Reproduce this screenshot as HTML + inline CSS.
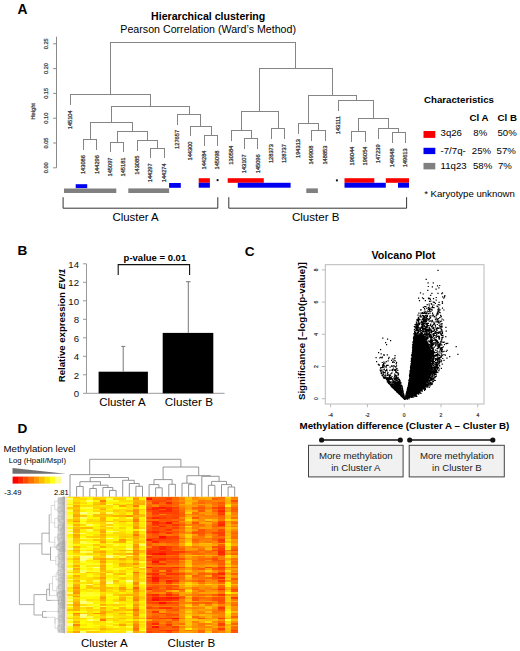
<!DOCTYPE html>
<html><head><meta charset="utf-8"><title>Figure</title><style>
html,body{margin:0;padding:0;background:#fff;width:520px;height:651px;overflow:hidden}
svg{display:block;font-family:"Liberation Sans", sans-serif}
</style></head><body>
<svg width="520" height="651" viewBox="0 0 520 651" fill="#000">
<text x="17.6" y="14.4" font-size="13.8" font-weight="bold">A</text>
<text x="208.2" y="19.8" font-size="10.6" font-weight="bold" text-anchor="middle">Hierarchical clustering</text>
<text x="208.2" y="32.7" font-size="10.65" text-anchor="middle">Pearson Correlation (Ward’s Method)</text>
<path d="M56.5 36.7V167.8" stroke="#8a8a8a" stroke-width="1" fill="none"/>
<path d="M53.2 43.8H56.5" stroke="#8a8a8a" stroke-width="1"/>
<text transform="translate(48.3 43.8) rotate(-90)" font-size="5.6" text-anchor="middle" fill="#333" stroke="#333" stroke-width="0.2">0.25</text>
<path d="M53.2 68.6H56.5" stroke="#8a8a8a" stroke-width="1"/>
<text transform="translate(48.3 68.6) rotate(-90)" font-size="5.6" text-anchor="middle" fill="#333" stroke="#333" stroke-width="0.2">0.20</text>
<path d="M53.2 93.4H56.5" stroke="#8a8a8a" stroke-width="1"/>
<text transform="translate(48.3 93.4) rotate(-90)" font-size="5.6" text-anchor="middle" fill="#333" stroke="#333" stroke-width="0.2">0.15</text>
<path d="M53.2 118.2H56.5" stroke="#8a8a8a" stroke-width="1"/>
<text transform="translate(48.3 118.2) rotate(-90)" font-size="5.6" text-anchor="middle" fill="#333" stroke="#333" stroke-width="0.2">0.10</text>
<path d="M53.2 143H56.5" stroke="#8a8a8a" stroke-width="1"/>
<text transform="translate(48.3 143) rotate(-90)" font-size="5.6" text-anchor="middle" fill="#333" stroke="#333" stroke-width="0.2">0.05</text>
<path d="M53.2 167.8H56.5" stroke="#8a8a8a" stroke-width="1"/>
<text transform="translate(48.3 167.8) rotate(-90)" font-size="5.6" text-anchor="middle" fill="#333" stroke="#333" stroke-width="0.2">0.00</text>
<text transform="translate(35.0 111.3) rotate(-90)" font-size="5.7" text-anchor="middle" fill="#333" stroke="#333" stroke-width="0.2">Height</text>
<path d="M70.5 94.5V105M83.5 139.5V150M96.5 139.5V150M83 139.5H97M90.5 122.5V139.5M110.5 142.5V152M123.5 142.5V152M110 142.5H124M117.5 131.5V142.5M137.5 140.5V151M150.5 148.5V158M164.5 148.5V158M150 148.5H165M157.5 140.5V148.5M137 140.5H158M147.5 131.5V140.5M117 131.5H148M132.5 122.5V131.5M90 122.5H133M111.5 106.5V122.5M177.5 114.5V125M190.5 126.5V136M204.5 135.5V146M217.5 135.5V146M204 135.5H218M211.5 126.5V135.5M190 126.5H212M200.5 114.5V126.5M177 114.5H201M189.5 106.5V114.5M111 106.5H190M150.5 94.5V106.5M70 94.5H151M110.5 42.5V94.5M231.5 130.5V141M244.5 138.5V149M257.5 138.5V149M244 138.5H258M251.5 130.5V138.5M231 130.5H252M241.5 111.5V130.5M271.5 128.5V139M284.5 128.5V139M271 128.5H285M278.5 111.5V128.5M241 111.5H279M259.5 68.5V111.5M298.5 123.5V134M311.5 130.5V141M325.5 130.5V141M311 130.5H326M318.5 123.5V130.5M298 123.5H319M308.5 95.5V123.5M338.5 100.5V111M351.5 131.5V142M365.5 131.5V142M351 131.5H366M358.5 118.5V131.5M378.5 128.5V139M392.5 132.5V143M405.5 132.5V143M392 132.5H406M398.5 128.5V132.5M378 128.5H399M388.5 118.5V128.5M358 118.5H389M373.5 100.5V118.5M338 100.5H374M356.5 95.5V100.5M308 95.5H357M332.5 68.5V95.5M259 68.5H333M295.5 42.5V68.5M110 42.5H296" stroke="#858585" stroke-width="1" fill="none"/>
<text transform="translate(71.7 110.3) rotate(-90)" font-size="5.7" text-anchor="end" fill="#333" stroke="#333" stroke-width="0.25">145104</text>
<text transform="translate(85.12 155.1) rotate(-90)" font-size="5.7" text-anchor="end" fill="#333" stroke="#333" stroke-width="0.25">143086</text>
<text transform="translate(98.54 155.1) rotate(-90)" font-size="5.7" text-anchor="end" fill="#333" stroke="#333" stroke-width="0.25">144296</text>
<text transform="translate(111.96 157.5) rotate(-90)" font-size="5.7" text-anchor="end" fill="#333" stroke="#333" stroke-width="0.25">145097</text>
<text transform="translate(125.38 157.5) rotate(-90)" font-size="5.7" text-anchor="end" fill="#333" stroke="#333" stroke-width="0.25">145181</text>
<text transform="translate(138.8 155.7) rotate(-90)" font-size="5.7" text-anchor="end" fill="#333" stroke="#333" stroke-width="0.25">143085</text>
<text transform="translate(152.22 163.3) rotate(-90)" font-size="5.7" text-anchor="end" fill="#333" stroke="#333" stroke-width="0.25">144297</text>
<text transform="translate(165.64 163.3) rotate(-90)" font-size="5.7" text-anchor="end" fill="#333" stroke="#333" stroke-width="0.25">144274</text>
<text transform="translate(179.06 129.9) rotate(-90)" font-size="5.7" text-anchor="end" fill="#333" stroke="#333" stroke-width="0.25">127657</text>
<text transform="translate(192.48 141.5) rotate(-90)" font-size="5.7" text-anchor="end" fill="#333" stroke="#333" stroke-width="0.25">144300</text>
<text transform="translate(205.9 150.5) rotate(-90)" font-size="5.7" text-anchor="end" fill="#333" stroke="#333" stroke-width="0.25">144284</text>
<text transform="translate(219.32 150.5) rotate(-90)" font-size="5.7" text-anchor="end" fill="#333" stroke="#333" stroke-width="0.25">145098</text>
<text transform="translate(232.74 145.7) rotate(-90)" font-size="5.7" text-anchor="end" fill="#333" stroke="#333" stroke-width="0.25">130584</text>
<text transform="translate(246.16 154.3) rotate(-90)" font-size="5.7" text-anchor="end" fill="#333" stroke="#333" stroke-width="0.25">143107</text>
<text transform="translate(259.58 154.3) rotate(-90)" font-size="5.7" text-anchor="end" fill="#333" stroke="#333" stroke-width="0.25">145096</text>
<text transform="translate(273 144.1) rotate(-90)" font-size="5.7" text-anchor="end" fill="#333" stroke="#333" stroke-width="0.25">128373</text>
<text transform="translate(286.42 144.1) rotate(-90)" font-size="5.7" text-anchor="end" fill="#333" stroke="#333" stroke-width="0.25">128737</text>
<text transform="translate(299.84 139) rotate(-90)" font-size="5.7" text-anchor="end" fill="#333" stroke="#333" stroke-width="0.25">194313</text>
<text transform="translate(313.26 145.6) rotate(-90)" font-size="5.7" text-anchor="end" fill="#333" stroke="#333" stroke-width="0.25">149908</text>
<text transform="translate(326.68 145.6) rotate(-90)" font-size="5.7" text-anchor="end" fill="#333" stroke="#333" stroke-width="0.25">148853</text>
<text transform="translate(340.1 116.1) rotate(-90)" font-size="5.7" text-anchor="end" fill="#333" stroke="#333" stroke-width="0.25">143111</text>
<text transform="translate(353.52 146.5) rotate(-90)" font-size="5.7" text-anchor="end" fill="#333" stroke="#333" stroke-width="0.25">196044</text>
<text transform="translate(366.94 146.5) rotate(-90)" font-size="5.7" text-anchor="end" fill="#333" stroke="#333" stroke-width="0.25">196054</text>
<text transform="translate(380.36 144.3) rotate(-90)" font-size="5.7" text-anchor="end" fill="#333" stroke="#333" stroke-width="0.25">147239</text>
<text transform="translate(393.78 148.3) rotate(-90)" font-size="5.7" text-anchor="end" fill="#333" stroke="#333" stroke-width="0.25">149648</text>
<text transform="translate(407.2 148.3) rotate(-90)" font-size="5.7" text-anchor="end" fill="#333" stroke="#333" stroke-width="0.25">149613</text>
<rect x="75.7" y="184.2" width="11.5" height="4" fill="#0000f0"/>
<rect x="64" y="188.5" width="52.3" height="4.5" fill="#808080"/>
<rect x="128.3" y="188.4" width="40.8" height="4.6" fill="#808080"/>
<rect x="169.1" y="183" width="11.7" height="4.8" fill="#0000f0"/>
<rect x="198.7" y="178.2" width="11.2" height="4.6" fill="#f80000"/>
<rect x="198.7" y="182.8" width="11.2" height="4.9" fill="#0000f0"/>
<rect x="227.7" y="178.2" width="36.1" height="4.6" fill="#f80000"/>
<rect x="237.8" y="182.8" width="52.8" height="4.9" fill="#0000f0"/>
<rect x="306.3" y="188.4" width="11.6" height="4.6" fill="#808080"/>
<rect x="344.5" y="178.2" width="29.8" height="4.6" fill="#f80000"/>
<rect x="344.5" y="182.8" width="41.3" height="4.9" fill="#0000f0"/>
<rect x="385.8" y="178.2" width="23.2" height="4.6" fill="#f80000"/>
<rect x="398" y="182.8" width="11" height="4.9" fill="#0000f0"/>
<circle cx="217.6" cy="180.2" r="1.1" fill="#111"/>
<circle cx="336.9" cy="180.4" r="1.1" fill="#111"/>
<path d="M63.1 197.2V208.2H217.8V197.2M228.8 197.2V208.2H406.6V197.2" stroke="#333" stroke-width="1" fill="none"/>
<text x="112.5" y="221.1" font-size="11.4">Cluster A</text>
<text x="291.9" y="221.1" font-size="11.6">Cluster B</text>
<text x="424.0" y="103.0" font-size="9.7" font-weight="bold">Characteristics</text>
<text x="469.5" y="121.4" font-size="9.7" font-weight="bold">Cl A</text>
<text x="497.5" y="121.4" font-size="9.7" font-weight="bold">Cl B</text>
<rect x="423.5" y="131.0" width="11.8" height="6.9" fill="#f80000"/>
<rect x="423.5" y="147.8" width="11.8" height="6.3" fill="#0000f0"/>
<rect x="423.5" y="162.9" width="11.8" height="6.5" fill="#808080"/>
<text x="440.6" y="135.9" font-size="9.6">3q26</text><text x="473.3" y="135.9" font-size="9.6">8%</text><text x="497.5" y="135.9" font-size="9.6">50%</text>
<text x="440.6" y="154.2" font-size="9.6">-7/7q-</text><text x="471.8" y="154.2" font-size="9.6">25%</text><text x="496.6" y="154.2" font-size="9.6">57%</text>
<text x="440.6" y="169.1" font-size="9.6">11q23</text><text x="473.0" y="169.1" font-size="9.6">58%</text><text x="498.0" y="169.1" font-size="9.6">7%</text>
<text x="424.2" y="197.1" font-size="9.6">* Karyotype unknown</text>
<text x="17.4" y="255.4" font-size="13.6" font-weight="bold">B</text>
<path d="M86.5 263.8V393.3H224.6" stroke="#999999" stroke-width="1" fill="none"/>
<path d="M83 263.8H86.5" stroke="#999999" stroke-width="1"/>
<text x="79.0" y="267.5" font-size="9.6" text-anchor="end" fill="#111">14</text>
<path d="M83 282.3H86.5" stroke="#999999" stroke-width="1"/>
<text x="79.0" y="286" font-size="9.6" text-anchor="end" fill="#111">12</text>
<path d="M83 300.8H86.5" stroke="#999999" stroke-width="1"/>
<text x="79.0" y="304.5" font-size="9.6" text-anchor="end" fill="#111">10</text>
<path d="M83 319.3H86.5" stroke="#999999" stroke-width="1"/>
<text x="79.0" y="323" font-size="9.6" text-anchor="end" fill="#111">8</text>
<path d="M83 337.8H86.5" stroke="#999999" stroke-width="1"/>
<text x="79.0" y="341.5" font-size="9.6" text-anchor="end" fill="#111">6</text>
<path d="M83 356.3H86.5" stroke="#999999" stroke-width="1"/>
<text x="79.0" y="360" font-size="9.6" text-anchor="end" fill="#111">4</text>
<path d="M83 374.8H86.5" stroke="#999999" stroke-width="1"/>
<text x="79.0" y="378.5" font-size="9.6" text-anchor="end" fill="#111">2</text>
<path d="M83 393.3H86.5" stroke="#999999" stroke-width="1"/>
<text x="79.0" y="397" font-size="9.6" text-anchor="end" fill="#111">0</text>
<rect x="98.6" y="371.7" width="49.3" height="21.6" fill="#000"/>
<rect x="162.7" y="332.9" width="50.6" height="60.4" fill="#000"/>
<path d="M123.2 371.7V346.4M121.3 346.4H125.2M188.3 332.9V281.7M186.0 281.7H190.6" stroke="#777" stroke-width="1" fill="none"/>
<path d="M118.2 275V264.6H189.6V275" stroke="#111" stroke-width="1.1" fill="none"/>
<text x="154.9" y="261.0" font-size="9.5" font-weight="bold" text-anchor="middle">p-value = 0.01</text>
<text x="122.4" y="406.0" font-size="11.45" text-anchor="middle">Cluster A</text>
<text x="188.9" y="406.0" font-size="11.7" text-anchor="middle">Cluster B</text>
<text transform="translate(65.3 325.4) rotate(-90)" font-size="9.6" font-weight="bold" text-anchor="middle">Relative expression <tspan font-style="italic">EVI1</tspan></text>
<text x="244.8" y="255.7" font-size="13.6" font-weight="bold">C</text>
<text x="403.4" y="258.7" font-size="10.7" font-weight="bold" text-anchor="middle">Volcano Plot</text>
<rect x="325.3" y="264.7" width="158.7" height="139.3" fill="none" stroke="#bababa" stroke-width="1"/>
<path d="M321.8 398.7H325.3" stroke="#bababa" stroke-width="1"/>
<text transform="translate(317.6 398.7) rotate(-90)" font-size="5" text-anchor="middle" fill="#333" stroke="#333" stroke-width="0.2">0</text>
<path d="M321.8 366.5H325.3" stroke="#bababa" stroke-width="1"/>
<text transform="translate(317.6 366.5) rotate(-90)" font-size="5" text-anchor="middle" fill="#333" stroke="#333" stroke-width="0.2">2</text>
<path d="M321.8 334.3H325.3" stroke="#bababa" stroke-width="1"/>
<text transform="translate(317.6 334.3) rotate(-90)" font-size="5" text-anchor="middle" fill="#333" stroke="#333" stroke-width="0.2">4</text>
<path d="M321.8 302.1H325.3" stroke="#bababa" stroke-width="1"/>
<text transform="translate(317.6 302.1) rotate(-90)" font-size="5" text-anchor="middle" fill="#333" stroke="#333" stroke-width="0.2">6</text>
<path d="M321.8 269.9H325.3" stroke="#bababa" stroke-width="1"/>
<text transform="translate(317.6 269.9) rotate(-90)" font-size="5" text-anchor="middle" fill="#333" stroke="#333" stroke-width="0.2">8</text>
<path d="M330.6 404V407.3" stroke="#bababa" stroke-width="1"/>
<text x="330.6" y="416.6" font-size="5" text-anchor="middle" fill="#333" stroke="#333" stroke-width="0.2">-4</text>
<path d="M367.4 404V407.3" stroke="#bababa" stroke-width="1"/>
<text x="367.4" y="416.6" font-size="5" text-anchor="middle" fill="#333" stroke="#333" stroke-width="0.2">-2</text>
<path d="M404.2 404V407.3" stroke="#bababa" stroke-width="1"/>
<text x="404.2" y="416.6" font-size="5" text-anchor="middle" fill="#333" stroke="#333" stroke-width="0.2">0</text>
<path d="M441 404V407.3" stroke="#bababa" stroke-width="1"/>
<text x="441" y="416.6" font-size="5" text-anchor="middle" fill="#333" stroke="#333" stroke-width="0.2">2</text>
<path d="M477.8 404V407.3" stroke="#bababa" stroke-width="1"/>
<text x="477.8" y="416.6" font-size="5" text-anchor="middle" fill="#333" stroke="#333" stroke-width="0.2">4</text>
<text transform="translate(305.4 331.2) rotate(-90)" font-size="9.72" font-weight="bold" text-anchor="middle">Significance [–log10(p-value)]</text>
<text x="299.5" y="428.5" font-size="9.78" font-weight="bold">Methylation difference (Cluster A – Cluster B)</text>
<path d="M321.6 440H400.3M409.7 440H492.8" stroke="#111" stroke-width="1.4"/>
<circle cx="321.6" cy="440" r="2.6" fill="#111"/>
<circle cx="400.3" cy="440" r="2.6" fill="#111"/>
<circle cx="409.7" cy="440" r="2.6" fill="#111"/>
<circle cx="492.8" cy="440" r="2.6" fill="#111"/>
<rect x="308.5" y="445.3" width="94.6" height="31.6" fill="#f1f1f1" stroke="#444" stroke-width="1"/>
<rect x="409.2" y="445.3" width="95.1" height="31.6" fill="#f1f1f1" stroke="#444" stroke-width="1"/>
<text x="355.8" y="459.0" font-size="9.65" text-anchor="middle" fill="#222">More methylation</text>
<text x="355.8" y="470.5" font-size="9.65" text-anchor="middle" fill="#222">in Cluster A</text>
<text x="456.9" y="459.0" font-size="9.65" text-anchor="middle" fill="#222">More methylation</text>
<text x="456.9" y="470.5" font-size="9.65" text-anchor="middle" fill="#222">in Cluster B</text>
<path d="M404.9 398.7 L405.3 397.3 L405.6 396.0 L406.0 394.6 L406.3 393.2 L406.6 391.8 L407.0 390.5 L407.3 389.1 L407.7 387.7 L408.0 386.4 L408.4 385.0 L408.6 383.6 L408.7 382.3 L408.9 380.9 L409.0 379.5 L409.2 378.1 L409.4 376.8 L409.5 375.4 L409.7 374.0 L409.8 372.7 L410.0 371.3 L410.2 369.9 L410.3 368.6 L410.5 367.2 L410.6 365.8 L410.8 364.4 L411.0 363.1 L411.1 361.7 L411.2 360.3 L411.4 359.0 L411.5 357.6 L411.6 356.2 L411.8 354.9 L411.9 353.5 L412.0 352.1 L412.2 350.7 L412.3 349.4 L412.4 348.0 L412.6 346.6 L412.7 345.3 L412.8 343.9 L413.0 342.5 L413.2 341.2 L413.5 339.8 L413.8 338.4 L414.1 337.0 L414.4 335.7 L414.6 334.3 L423.6 334.3 L424.3 335.7 L425.0 337.0 L425.7 338.4 L426.5 339.8 L427.2 341.2 L427.9 342.5 L428.6 343.9 L429.2 345.3 L429.7 346.6 L430.2 348.0 L430.7 349.4 L431.2 350.7 L431.2 352.1 L431.3 353.5 L431.3 354.9 L431.4 356.2 L431.4 357.6 L431.2 359.0 L431.0 360.3 L430.8 361.7 L430.6 363.1 L430.4 364.4 L430.2 365.8 L430.0 367.2 L429.7 368.6 L429.5 369.9 L429.0 371.3 L428.5 372.7 L428.0 374.0 L427.5 375.4 L427.0 376.8 L426.5 378.1 L426.0 379.5 L425.5 380.9 L424.6 382.3 L423.6 383.6 L422.5 385.0 L421.4 386.4 L420.4 387.7 L419.3 389.1 L417.7 390.5 L415.4 391.8 L413.1 393.2 L410.8 394.6 L408.0 396.0 L405.2 397.3 L402.4 398.7Z" fill="#000"/>
<path d="M403.6 398.7 L402.9 394.9 L402.1 391.1 L401.4 387.2 L400.6 383.4 L392.2 383.4 L395.1 387.2 L398.1 391.1 L401.2 394.9 L404.2 398.7Z" fill="#000"/>
<path d="M404.6 398.2h1.2v1.2h-1.2zM418.6 327.3h1.2v1.2h-1.2zM429.9 350.6h1.2v1.2h-1.2zM417.3 329.8h1.2v1.2h-1.2zM429.9 344.6h1.2v1.2h-1.2zM410.4 380.0h1.2v1.2h-1.2zM407.0 394.9h1.2v1.2h-1.2zM408.1 395.6h1.2v1.2h-1.2zM429.5 353.9h1.2v1.2h-1.2zM432.2 344.0h1.2v1.2h-1.2zM430.4 355.5h1.2v1.2h-1.2zM404.8 397.7h1.2v1.2h-1.2zM404.6 398.4h1.2v1.2h-1.2zM414.3 326.5h1.2v1.2h-1.2zM422.1 385.3h1.2v1.2h-1.2zM405.6 393.5h1.2v1.2h-1.2zM409.4 370.6h1.2v1.2h-1.2zM415.3 390.3h1.2v1.2h-1.2zM428.9 372.6h1.2v1.2h-1.2zM422.2 322.7h1.2v1.2h-1.2zM431.8 341.1h1.2v1.2h-1.2zM429.1 349.2h1.2v1.2h-1.2zM408.9 382.0h1.2v1.2h-1.2zM423.8 383.0h1.2v1.2h-1.2zM405.3 395.4h1.2v1.2h-1.2zM404.8 396.5h1.2v1.2h-1.2zM406.2 396.1h1.2v1.2h-1.2zM420.1 388.0h1.2v1.2h-1.2zM417.4 314.6h1.2v1.2h-1.2zM425.2 341.5h1.2v1.2h-1.2zM429.6 367.8h1.2v1.2h-1.2zM411.8 353.6h1.2v1.2h-1.2zM404.6 398.2h1.2v1.2h-1.2zM415.9 333.2h1.2v1.2h-1.2zM409.1 386.8h1.2v1.2h-1.2zM405.2 397.5h1.2v1.2h-1.2zM431.7 344.1h1.2v1.2h-1.2zM422.8 381.4h1.2v1.2h-1.2zM410.8 367.1h1.2v1.2h-1.2zM430.9 353.9h1.2v1.2h-1.2zM424.9 334.1h1.2v1.2h-1.2zM412.6 392.7h1.2v1.2h-1.2zM413.1 336.4h1.2v1.2h-1.2zM429.0 364.1h1.2v1.2h-1.2zM409.4 380.2h1.2v1.2h-1.2zM422.5 325.7h1.2v1.2h-1.2zM429.2 341.4h1.2v1.2h-1.2zM430.7 358.2h1.2v1.2h-1.2zM428.8 344.1h1.2v1.2h-1.2zM416.7 332.3h1.2v1.2h-1.2zM415.3 327.8h1.2v1.2h-1.2zM410.3 394.6h1.2v1.2h-1.2zM405.9 396.1h1.2v1.2h-1.2zM406.4 396.9h1.2v1.2h-1.2zM423.9 382.4h1.2v1.2h-1.2zM408.3 395.3h1.2v1.2h-1.2zM408.9 384.3h1.2v1.2h-1.2zM407.4 396.9h1.2v1.2h-1.2zM428.5 348.8h1.2v1.2h-1.2zM405.2 395.2h1.2v1.2h-1.2zM406.4 394.3h1.2v1.2h-1.2zM417.4 388.9h1.2v1.2h-1.2zM419.3 329.4h1.2v1.2h-1.2zM421.6 387.5h1.2v1.2h-1.2zM408.7 381.5h1.2v1.2h-1.2zM413.3 348.8h1.2v1.2h-1.2zM417.8 390.3h1.2v1.2h-1.2zM429.0 341.2h1.2v1.2h-1.2zM407.7 384.7h1.2v1.2h-1.2zM407.9 396.4h1.2v1.2h-1.2zM425.9 380.0h1.2v1.2h-1.2zM407.2 387.1h1.2v1.2h-1.2zM411.2 365.9h1.2v1.2h-1.2zM430.7 366.4h1.2v1.2h-1.2zM428.1 377.2h1.2v1.2h-1.2zM428.6 333.3h1.2v1.2h-1.2zM420.1 387.3h1.2v1.2h-1.2zM416.2 391.6h1.2v1.2h-1.2zM417.9 335.5h1.2v1.2h-1.2zM414.1 393.1h1.2v1.2h-1.2zM417.6 387.8h1.2v1.2h-1.2zM408.4 382.7h1.2v1.2h-1.2zM427.3 331.1h1.2v1.2h-1.2zM421.7 332.8h1.2v1.2h-1.2zM428.9 365.8h1.2v1.2h-1.2zM406.7 395.8h1.2v1.2h-1.2zM428.6 365.0h1.2v1.2h-1.2zM422.1 336.0h1.2v1.2h-1.2zM421.2 386.7h1.2v1.2h-1.2zM417.1 390.7h1.2v1.2h-1.2zM418.8 388.5h1.2v1.2h-1.2zM409.9 383.3h1.2v1.2h-1.2zM426.1 333.5h1.2v1.2h-1.2zM415.5 392.8h1.2v1.2h-1.2zM412.5 357.5h1.2v1.2h-1.2zM406.5 395.9h1.2v1.2h-1.2zM428.0 371.4h1.2v1.2h-1.2zM427.5 371.6h1.2v1.2h-1.2zM428.9 336.1h1.2v1.2h-1.2zM410.3 393.8h1.2v1.2h-1.2zM422.0 319.0h1.2v1.2h-1.2zM408.2 387.8h1.2v1.2h-1.2zM405.3 395.8h1.2v1.2h-1.2zM406.9 388.0h1.2v1.2h-1.2zM425.4 383.4h1.2v1.2h-1.2zM426.7 323.9h1.2v1.2h-1.2zM432.9 356.6h1.2v1.2h-1.2zM422.2 382.7h1.2v1.2h-1.2zM412.5 353.8h1.2v1.2h-1.2zM431.0 344.1h1.2v1.2h-1.2zM431.1 352.1h1.2v1.2h-1.2zM425.8 322.8h1.2v1.2h-1.2zM422.6 383.1h1.2v1.2h-1.2zM408.5 388.9h1.2v1.2h-1.2zM424.8 378.6h1.2v1.2h-1.2zM409.3 395.2h1.2v1.2h-1.2zM413.7 392.9h1.2v1.2h-1.2zM424.9 378.1h1.2v1.2h-1.2zM429.7 358.3h1.2v1.2h-1.2zM413.4 339.5h1.2v1.2h-1.2zM416.4 334.7h1.2v1.2h-1.2zM425.9 372.5h1.2v1.2h-1.2zM421.0 384.1h1.2v1.2h-1.2zM416.8 318.8h1.2v1.2h-1.2zM428.8 346.8h1.2v1.2h-1.2zM407.9 385.2h1.2v1.2h-1.2zM422.0 328.8h1.2v1.2h-1.2zM415.6 329.0h1.2v1.2h-1.2zM430.6 340.5h1.2v1.2h-1.2zM426.4 380.5h1.2v1.2h-1.2zM412.4 350.7h1.2v1.2h-1.2zM419.0 335.4h1.2v1.2h-1.2zM404.6 397.4h1.2v1.2h-1.2zM411.5 358.0h1.2v1.2h-1.2zM412.9 353.2h1.2v1.2h-1.2zM415.7 391.3h1.2v1.2h-1.2zM405.8 395.3h1.2v1.2h-1.2zM420.3 322.3h1.2v1.2h-1.2zM425.7 381.5h1.2v1.2h-1.2zM419.5 327.5h1.2v1.2h-1.2zM412.0 363.4h1.2v1.2h-1.2zM430.3 350.2h1.2v1.2h-1.2zM405.2 395.7h1.2v1.2h-1.2zM413.0 350.2h1.2v1.2h-1.2zM411.1 368.0h1.2v1.2h-1.2zM423.8 316.3h1.2v1.2h-1.2zM418.2 321.8h1.2v1.2h-1.2zM432.0 355.8h1.2v1.2h-1.2zM405.9 392.3h1.2v1.2h-1.2zM411.8 355.7h1.2v1.2h-1.2zM426.7 381.5h1.2v1.2h-1.2zM413.4 393.8h1.2v1.2h-1.2zM412.0 360.0h1.2v1.2h-1.2zM410.7 393.3h1.2v1.2h-1.2zM425.0 339.3h1.2v1.2h-1.2zM410.2 377.3h1.2v1.2h-1.2zM432.0 342.8h1.2v1.2h-1.2zM430.4 353.1h1.2v1.2h-1.2zM427.1 373.6h1.2v1.2h-1.2zM428.0 372.1h1.2v1.2h-1.2zM423.9 381.7h1.2v1.2h-1.2zM418.4 386.8h1.2v1.2h-1.2zM430.4 368.8h1.2v1.2h-1.2zM406.3 396.5h1.2v1.2h-1.2zM422.2 384.4h1.2v1.2h-1.2zM405.4 397.4h1.2v1.2h-1.2zM412.1 358.9h1.2v1.2h-1.2zM422.0 384.5h1.2v1.2h-1.2zM429.2 329.8h1.2v1.2h-1.2zM421.8 382.7h1.2v1.2h-1.2zM429.1 363.4h1.2v1.2h-1.2zM422.6 384.7h1.2v1.2h-1.2zM422.0 318.4h1.2v1.2h-1.2zM429.0 371.3h1.2v1.2h-1.2zM408.9 395.9h1.2v1.2h-1.2zM426.7 326.5h1.2v1.2h-1.2zM429.5 339.7h1.2v1.2h-1.2zM430.9 354.1h1.2v1.2h-1.2zM407.1 397.1h1.2v1.2h-1.2zM430.7 369.4h1.2v1.2h-1.2zM415.7 392.0h1.2v1.2h-1.2zM429.4 372.3h1.2v1.2h-1.2zM425.4 374.5h1.2v1.2h-1.2zM414.1 339.5h1.2v1.2h-1.2zM431.9 363.6h1.2v1.2h-1.2zM404.4 398.4h1.2v1.2h-1.2zM410.4 377.4h1.2v1.2h-1.2zM424.8 380.2h1.2v1.2h-1.2zM425.6 375.4h1.2v1.2h-1.2zM413.2 337.6h1.2v1.2h-1.2zM417.3 327.8h1.2v1.2h-1.2zM418.3 388.5h1.2v1.2h-1.2zM409.6 395.6h1.2v1.2h-1.2zM415.5 391.4h1.2v1.2h-1.2zM427.0 374.9h1.2v1.2h-1.2zM417.9 332.2h1.2v1.2h-1.2zM427.3 343.4h1.2v1.2h-1.2zM413.1 338.0h1.2v1.2h-1.2zM405.9 396.4h1.2v1.2h-1.2zM419.3 335.2h1.2v1.2h-1.2zM410.8 374.5h1.2v1.2h-1.2zM429.5 359.7h1.2v1.2h-1.2zM427.3 373.7h1.2v1.2h-1.2zM407.3 392.0h1.2v1.2h-1.2zM410.9 393.2h1.2v1.2h-1.2zM412.3 348.9h1.2v1.2h-1.2zM412.5 392.2h1.2v1.2h-1.2zM416.2 328.7h1.2v1.2h-1.2zM407.5 392.9h1.2v1.2h-1.2zM405.0 398.2h1.2v1.2h-1.2zM407.7 392.3h1.2v1.2h-1.2zM432.7 359.3h1.2v1.2h-1.2zM408.0 395.1h1.2v1.2h-1.2zM432.2 342.4h1.2v1.2h-1.2zM431.0 347.5h1.2v1.2h-1.2zM426.7 328.9h1.2v1.2h-1.2zM412.9 350.8h1.2v1.2h-1.2zM431.8 344.9h1.2v1.2h-1.2zM420.0 387.0h1.2v1.2h-1.2zM413.9 339.0h1.2v1.2h-1.2zM420.5 389.4h1.2v1.2h-1.2zM425.1 383.6h1.2v1.2h-1.2zM407.6 394.9h1.2v1.2h-1.2zM410.0 369.8h1.2v1.2h-1.2zM409.7 382.0h1.2v1.2h-1.2zM411.8 357.9h1.2v1.2h-1.2zM415.8 392.6h1.2v1.2h-1.2zM413.7 333.9h1.2v1.2h-1.2zM429.2 360.6h1.2v1.2h-1.2zM409.3 386.4h1.2v1.2h-1.2zM405.1 397.6h1.2v1.2h-1.2zM422.1 323.0h1.2v1.2h-1.2zM430.8 341.2h1.2v1.2h-1.2zM431.1 354.5h1.2v1.2h-1.2zM418.7 386.6h1.2v1.2h-1.2zM409.6 379.9h1.2v1.2h-1.2zM428.1 347.7h1.2v1.2h-1.2zM405.9 395.8h1.2v1.2h-1.2zM409.5 369.9h1.2v1.2h-1.2zM427.6 376.5h1.2v1.2h-1.2zM430.5 363.3h1.2v1.2h-1.2zM423.5 318.9h1.2v1.2h-1.2zM417.1 334.7h1.2v1.2h-1.2zM430.8 357.4h1.2v1.2h-1.2zM422.4 317.2h1.2v1.2h-1.2zM408.7 395.8h1.2v1.2h-1.2zM432.5 358.8h1.2v1.2h-1.2zM420.4 334.6h1.2v1.2h-1.2zM407.9 385.1h1.2v1.2h-1.2zM427.8 366.3h1.2v1.2h-1.2zM431.2 366.1h1.2v1.2h-1.2zM428.8 365.1h1.2v1.2h-1.2zM414.0 393.4h1.2v1.2h-1.2zM420.7 333.1h1.2v1.2h-1.2zM427.6 340.3h1.2v1.2h-1.2zM410.8 374.5h1.2v1.2h-1.2zM410.7 372.3h1.2v1.2h-1.2zM415.0 332.6h1.2v1.2h-1.2zM409.4 382.5h1.2v1.2h-1.2zM428.1 343.4h1.2v1.2h-1.2zM406.2 395.7h1.2v1.2h-1.2zM431.8 363.5h1.2v1.2h-1.2zM426.0 376.7h1.2v1.2h-1.2zM422.9 385.3h1.2v1.2h-1.2zM409.2 373.8h1.2v1.2h-1.2zM427.0 346.1h1.2v1.2h-1.2zM408.4 395.0h1.2v1.2h-1.2zM431.5 353.4h1.2v1.2h-1.2zM404.9 398.3h1.2v1.2h-1.2zM405.8 395.6h1.2v1.2h-1.2zM409.2 381.1h1.2v1.2h-1.2zM412.9 392.6h1.2v1.2h-1.2zM406.2 396.0h1.2v1.2h-1.2zM410.5 360.9h1.2v1.2h-1.2zM405.0 397.9h1.2v1.2h-1.2zM415.0 390.6h1.2v1.2h-1.2zM408.0 396.3h1.2v1.2h-1.2zM406.1 396.5h1.2v1.2h-1.2zM419.0 390.0h1.2v1.2h-1.2zM428.7 369.7h1.2v1.2h-1.2zM414.7 391.2h1.2v1.2h-1.2zM424.7 329.5h1.2v1.2h-1.2zM427.2 345.0h1.2v1.2h-1.2zM407.4 390.0h1.2v1.2h-1.2zM406.8 397.4h1.2v1.2h-1.2zM407.3 392.9h1.2v1.2h-1.2zM408.9 387.5h1.2v1.2h-1.2zM425.4 338.4h1.2v1.2h-1.2zM410.3 395.6h1.2v1.2h-1.2zM405.0 398.0h1.2v1.2h-1.2zM430.6 360.2h1.2v1.2h-1.2zM413.9 336.8h1.2v1.2h-1.2zM429.0 374.3h1.2v1.2h-1.2zM429.6 354.9h1.2v1.2h-1.2zM410.7 394.0h1.2v1.2h-1.2zM430.0 354.9h1.2v1.2h-1.2zM430.9 360.8h1.2v1.2h-1.2zM431.2 363.3h1.2v1.2h-1.2zM415.8 335.2h1.2v1.2h-1.2zM425.5 380.4h1.2v1.2h-1.2zM425.5 327.6h1.2v1.2h-1.2zM405.1 397.5h1.2v1.2h-1.2zM431.4 357.7h1.2v1.2h-1.2zM406.0 393.7h1.2v1.2h-1.2zM412.4 393.8h1.2v1.2h-1.2zM406.0 397.1h1.2v1.2h-1.2zM433.1 355.8h1.2v1.2h-1.2zM418.6 324.0h1.2v1.2h-1.2zM429.5 373.5h1.2v1.2h-1.2zM429.0 328.9h1.2v1.2h-1.2zM410.6 394.0h1.2v1.2h-1.2zM406.9 390.2h1.2v1.2h-1.2zM413.1 340.5h1.2v1.2h-1.2zM421.7 315.0h1.2v1.2h-1.2zM409.9 383.2h1.2v1.2h-1.2zM408.4 387.8h1.2v1.2h-1.2zM405.7 397.5h1.2v1.2h-1.2zM409.2 387.0h1.2v1.2h-1.2zM421.8 382.3h1.2v1.2h-1.2zM409.8 380.8h1.2v1.2h-1.2zM426.4 373.5h1.2v1.2h-1.2zM425.3 320.1h1.2v1.2h-1.2zM426.1 377.3h1.2v1.2h-1.2zM428.5 371.8h1.2v1.2h-1.2zM414.9 390.5h1.2v1.2h-1.2zM408.5 396.2h1.2v1.2h-1.2zM411.3 372.5h1.2v1.2h-1.2zM406.6 397.4h1.2v1.2h-1.2zM420.5 384.7h1.2v1.2h-1.2zM408.5 380.2h1.2v1.2h-1.2zM413.8 391.2h1.2v1.2h-1.2zM430.8 371.0h1.2v1.2h-1.2zM407.6 389.3h1.2v1.2h-1.2zM432.5 349.8h1.2v1.2h-1.2zM420.8 386.7h1.2v1.2h-1.2zM412.8 351.6h1.2v1.2h-1.2zM429.6 361.5h1.2v1.2h-1.2zM418.3 323.6h1.2v1.2h-1.2zM420.4 312.5h1.2v1.2h-1.2zM431.8 362.6h1.2v1.2h-1.2zM423.1 383.4h1.2v1.2h-1.2zM425.0 336.2h1.2v1.2h-1.2zM426.0 322.8h1.2v1.2h-1.2zM426.7 373.9h1.2v1.2h-1.2zM414.2 338.3h1.2v1.2h-1.2zM405.2 396.1h1.2v1.2h-1.2zM411.6 394.4h1.2v1.2h-1.2zM428.8 366.7h1.2v1.2h-1.2zM412.1 346.3h1.2v1.2h-1.2zM404.7 398.2h1.2v1.2h-1.2zM415.7 391.5h1.2v1.2h-1.2zM409.2 385.9h1.2v1.2h-1.2zM413.3 350.9h1.2v1.2h-1.2zM406.9 393.6h1.2v1.2h-1.2zM428.4 347.2h1.2v1.2h-1.2zM411.2 358.7h1.2v1.2h-1.2zM406.9 393.7h1.2v1.2h-1.2zM409.8 370.5h1.2v1.2h-1.2zM405.7 397.6h1.2v1.2h-1.2zM424.5 381.9h1.2v1.2h-1.2zM428.1 367.2h1.2v1.2h-1.2zM415.3 391.1h1.2v1.2h-1.2zM405.9 394.1h1.2v1.2h-1.2zM410.8 365.3h1.2v1.2h-1.2zM410.8 369.3h1.2v1.2h-1.2zM415.8 321.6h1.2v1.2h-1.2zM414.6 326.5h1.2v1.2h-1.2zM428.7 372.9h1.2v1.2h-1.2zM430.8 345.7h1.2v1.2h-1.2zM416.4 391.1h1.2v1.2h-1.2zM409.3 372.4h1.2v1.2h-1.2zM421.3 387.6h1.2v1.2h-1.2zM428.6 357.0h1.2v1.2h-1.2zM413.0 355.4h1.2v1.2h-1.2zM416.5 319.1h1.2v1.2h-1.2zM419.9 329.1h1.2v1.2h-1.2zM432.3 355.9h1.2v1.2h-1.2zM414.8 391.1h1.2v1.2h-1.2zM425.2 380.7h1.2v1.2h-1.2zM425.4 336.8h1.2v1.2h-1.2zM427.9 373.2h1.2v1.2h-1.2zM427.4 376.4h1.2v1.2h-1.2zM404.2 398.6h1.2v1.2h-1.2zM412.8 393.5h1.2v1.2h-1.2zM426.5 337.6h1.2v1.2h-1.2zM423.1 323.7h1.2v1.2h-1.2zM427.3 367.5h1.2v1.2h-1.2zM408.2 390.1h1.2v1.2h-1.2zM422.9 386.8h1.2v1.2h-1.2zM432.7 353.3h1.2v1.2h-1.2zM409.9 367.1h1.2v1.2h-1.2zM410.2 370.2h1.2v1.2h-1.2zM407.9 387.7h1.2v1.2h-1.2zM423.7 319.1h1.2v1.2h-1.2zM405.7 397.9h1.2v1.2h-1.2zM417.0 335.0h1.2v1.2h-1.2zM411.7 395.0h1.2v1.2h-1.2zM418.5 390.7h1.2v1.2h-1.2zM411.5 394.3h1.2v1.2h-1.2zM427.5 345.1h1.2v1.2h-1.2zM412.2 394.7h1.2v1.2h-1.2zM428.0 378.1h1.2v1.2h-1.2zM407.9 388.0h1.2v1.2h-1.2zM405.8 394.3h1.2v1.2h-1.2zM429.1 363.1h1.2v1.2h-1.2zM414.2 392.1h1.2v1.2h-1.2zM414.1 337.2h1.2v1.2h-1.2zM405.5 397.2h1.2v1.2h-1.2zM424.0 383.4h1.2v1.2h-1.2zM410.9 374.3h1.2v1.2h-1.2zM422.1 385.8h1.2v1.2h-1.2zM428.8 350.5h1.2v1.2h-1.2zM420.1 386.6h1.2v1.2h-1.2zM413.8 340.8h1.2v1.2h-1.2zM410.7 370.3h1.2v1.2h-1.2zM427.9 375.7h1.2v1.2h-1.2zM424.3 381.2h1.2v1.2h-1.2zM411.6 393.4h1.2v1.2h-1.2zM418.1 329.9h1.2v1.2h-1.2zM429.7 341.1h1.2v1.2h-1.2zM427.8 348.6h1.2v1.2h-1.2zM432.1 359.8h1.2v1.2h-1.2zM429.2 358.3h1.2v1.2h-1.2zM415.7 391.1h1.2v1.2h-1.2zM407.6 393.7h1.2v1.2h-1.2zM427.2 376.0h1.2v1.2h-1.2zM432.7 356.2h1.2v1.2h-1.2zM429.7 339.8h1.2v1.2h-1.2zM428.2 368.7h1.2v1.2h-1.2zM431.8 349.8h1.2v1.2h-1.2zM406.0 397.2h1.2v1.2h-1.2zM428.4 365.2h1.2v1.2h-1.2zM406.5 392.3h1.2v1.2h-1.2zM412.3 341.6h1.2v1.2h-1.2zM431.9 344.8h1.2v1.2h-1.2zM422.2 387.7h1.2v1.2h-1.2zM419.5 388.1h1.2v1.2h-1.2zM429.7 355.7h1.2v1.2h-1.2zM408.9 374.8h1.2v1.2h-1.2zM426.4 327.3h1.2v1.2h-1.2zM422.7 334.3h1.2v1.2h-1.2zM413.6 342.6h1.2v1.2h-1.2zM412.2 344.5h1.2v1.2h-1.2zM429.8 372.5h1.2v1.2h-1.2zM404.9 396.8h1.2v1.2h-1.2zM429.2 358.3h1.2v1.2h-1.2zM407.0 390.9h1.2v1.2h-1.2zM424.5 378.3h1.2v1.2h-1.2zM425.8 329.1h1.2v1.2h-1.2zM424.0 327.6h1.2v1.2h-1.2zM426.6 372.8h1.2v1.2h-1.2zM431.3 369.3h1.2v1.2h-1.2zM429.9 370.3h1.2v1.2h-1.2zM429.2 362.1h1.2v1.2h-1.2zM431.0 354.5h1.2v1.2h-1.2zM408.1 390.7h1.2v1.2h-1.2zM427.9 364.6h1.2v1.2h-1.2zM415.2 391.2h1.2v1.2h-1.2zM415.1 332.8h1.2v1.2h-1.2zM413.0 354.5h1.2v1.2h-1.2zM408.9 381.8h1.2v1.2h-1.2zM411.3 372.2h1.2v1.2h-1.2zM423.0 312.8h1.2v1.2h-1.2zM422.0 324.5h1.2v1.2h-1.2zM423.0 381.6h1.2v1.2h-1.2zM418.9 389.5h1.2v1.2h-1.2zM418.5 389.7h1.2v1.2h-1.2zM429.6 363.3h1.2v1.2h-1.2zM432.7 352.1h1.2v1.2h-1.2zM429.4 336.0h1.2v1.2h-1.2zM420.2 386.0h1.2v1.2h-1.2zM420.9 384.8h1.2v1.2h-1.2zM411.0 395.3h1.2v1.2h-1.2zM408.1 382.2h1.2v1.2h-1.2zM413.5 342.0h1.2v1.2h-1.2zM404.5 397.7h1.2v1.2h-1.2zM426.3 376.4h1.2v1.2h-1.2zM432.5 356.2h1.2v1.2h-1.2zM415.2 392.7h1.2v1.2h-1.2zM431.9 355.7h1.2v1.2h-1.2zM419.5 315.3h1.2v1.2h-1.2zM410.3 364.7h1.2v1.2h-1.2zM430.0 339.9h1.2v1.2h-1.2zM428.9 335.7h1.2v1.2h-1.2zM418.9 389.5h1.2v1.2h-1.2zM425.0 339.3h1.2v1.2h-1.2zM409.2 395.8h1.2v1.2h-1.2zM410.9 372.8h1.2v1.2h-1.2zM411.2 368.4h1.2v1.2h-1.2zM410.3 367.8h1.2v1.2h-1.2zM419.1 323.6h1.2v1.2h-1.2zM410.7 369.1h1.2v1.2h-1.2zM409.8 382.1h1.2v1.2h-1.2zM404.3 398.5h1.2v1.2h-1.2zM407.4 386.7h1.2v1.2h-1.2zM412.6 344.4h1.2v1.2h-1.2zM413.3 392.7h1.2v1.2h-1.2zM423.2 329.5h1.2v1.2h-1.2zM407.5 392.9h1.2v1.2h-1.2zM411.2 363.8h1.2v1.2h-1.2zM430.8 338.9h1.2v1.2h-1.2zM415.2 391.7h1.2v1.2h-1.2zM430.3 370.7h1.2v1.2h-1.2zM405.1 396.8h1.2v1.2h-1.2zM407.7 396.6h1.2v1.2h-1.2zM421.1 324.1h1.2v1.2h-1.2zM418.4 329.3h1.2v1.2h-1.2zM422.8 315.6h1.2v1.2h-1.2zM425.9 375.2h1.2v1.2h-1.2zM410.1 366.3h1.2v1.2h-1.2zM404.5 398.5h1.2v1.2h-1.2zM415.8 391.8h1.2v1.2h-1.2zM426.5 370.6h1.2v1.2h-1.2zM428.5 335.8h1.2v1.2h-1.2zM405.2 398.2h1.2v1.2h-1.2zM415.4 324.4h1.2v1.2h-1.2zM431.0 350.1h1.2v1.2h-1.2zM415.0 332.6h1.2v1.2h-1.2zM408.3 379.9h1.2v1.2h-1.2zM425.3 381.5h1.2v1.2h-1.2zM417.4 329.6h1.2v1.2h-1.2zM427.5 333.3h1.2v1.2h-1.2zM419.4 328.2h1.2v1.2h-1.2zM423.2 336.0h1.2v1.2h-1.2zM419.6 388.3h1.2v1.2h-1.2zM405.4 397.0h1.2v1.2h-1.2zM415.4 325.8h1.2v1.2h-1.2zM406.6 395.6h1.2v1.2h-1.2zM425.2 381.9h1.2v1.2h-1.2zM428.1 375.4h1.2v1.2h-1.2zM423.9 383.7h1.2v1.2h-1.2zM411.7 351.9h1.2v1.2h-1.2zM412.8 341.7h1.2v1.2h-1.2zM406.8 392.7h1.2v1.2h-1.2zM410.0 375.0h1.2v1.2h-1.2zM432.6 353.7h1.2v1.2h-1.2zM432.7 360.7h1.2v1.2h-1.2zM409.3 395.3h1.2v1.2h-1.2zM427.2 381.2h1.2v1.2h-1.2zM405.5 397.6h1.2v1.2h-1.2zM427.0 373.2h1.2v1.2h-1.2zM432.1 352.0h1.2v1.2h-1.2zM422.5 384.2h1.2v1.2h-1.2zM425.6 341.2h1.2v1.2h-1.2zM406.4 397.2h1.2v1.2h-1.2zM427.1 337.6h1.2v1.2h-1.2zM432.5 359.6h1.2v1.2h-1.2zM407.8 396.7h1.2v1.2h-1.2zM406.9 394.6h1.2v1.2h-1.2zM428.1 362.5h1.2v1.2h-1.2zM430.0 342.2h1.2v1.2h-1.2zM426.4 325.7h1.2v1.2h-1.2zM424.2 384.6h1.2v1.2h-1.2zM426.5 381.2h1.2v1.2h-1.2zM426.1 335.1h1.2v1.2h-1.2zM424.1 325.8h1.2v1.2h-1.2zM407.0 390.6h1.2v1.2h-1.2zM429.4 355.3h1.2v1.2h-1.2zM424.8 330.8h1.2v1.2h-1.2zM432.2 356.3h1.2v1.2h-1.2zM411.0 363.4h1.2v1.2h-1.2zM420.1 384.7h1.2v1.2h-1.2zM426.5 375.7h1.2v1.2h-1.2zM418.0 330.6h1.2v1.2h-1.2zM420.2 388.8h1.2v1.2h-1.2zM424.2 380.8h1.2v1.2h-1.2zM431.1 352.9h1.2v1.2h-1.2zM430.5 366.2h1.2v1.2h-1.2zM414.2 340.1h1.2v1.2h-1.2zM411.2 359.4h1.2v1.2h-1.2zM430.4 341.1h1.2v1.2h-1.2zM431.1 347.4h1.2v1.2h-1.2zM429.2 374.5h1.2v1.2h-1.2zM419.5 389.7h1.2v1.2h-1.2zM416.7 326.7h1.2v1.2h-1.2zM423.8 378.4h1.2v1.2h-1.2zM405.9 395.9h1.2v1.2h-1.2zM405.5 398.0h1.2v1.2h-1.2zM406.4 397.5h1.2v1.2h-1.2zM405.9 392.1h1.2v1.2h-1.2zM429.1 366.5h1.2v1.2h-1.2zM409.9 370.3h1.2v1.2h-1.2zM429.7 344.8h1.2v1.2h-1.2zM417.8 316.7h1.2v1.2h-1.2zM417.0 391.2h1.2v1.2h-1.2zM428.7 371.9h1.2v1.2h-1.2zM405.7 394.9h1.2v1.2h-1.2zM404.4 398.1h1.2v1.2h-1.2zM410.7 373.0h1.2v1.2h-1.2zM406.4 390.4h1.2v1.2h-1.2zM418.4 318.0h1.2v1.2h-1.2zM427.1 338.4h1.2v1.2h-1.2zM426.2 372.0h1.2v1.2h-1.2zM422.7 383.4h1.2v1.2h-1.2zM413.1 348.4h1.2v1.2h-1.2zM429.8 372.8h1.2v1.2h-1.2zM419.9 328.4h1.2v1.2h-1.2zM430.8 336.9h1.2v1.2h-1.2zM432.0 360.5h1.2v1.2h-1.2zM424.6 331.0h1.2v1.2h-1.2zM406.5 397.2h1.2v1.2h-1.2zM414.6 326.3h1.2v1.2h-1.2zM426.5 334.7h1.2v1.2h-1.2zM415.5 326.1h1.2v1.2h-1.2zM428.3 367.6h1.2v1.2h-1.2zM423.1 320.8h1.2v1.2h-1.2zM414.9 333.5h1.2v1.2h-1.2zM408.4 389.1h1.2v1.2h-1.2zM409.2 395.4h1.2v1.2h-1.2zM418.7 387.8h1.2v1.2h-1.2zM430.4 336.7h1.2v1.2h-1.2zM410.0 394.4h1.2v1.2h-1.2zM424.2 319.6h1.2v1.2h-1.2zM428.1 330.4h1.2v1.2h-1.2zM418.8 322.8h1.2v1.2h-1.2zM404.4 398.2h1.2v1.2h-1.2zM420.2 332.1h1.2v1.2h-1.2zM428.2 349.3h1.2v1.2h-1.2zM410.1 375.5h1.2v1.2h-1.2zM416.6 327.8h1.2v1.2h-1.2zM415.4 391.0h1.2v1.2h-1.2zM423.7 334.1h1.2v1.2h-1.2zM431.1 342.9h1.2v1.2h-1.2zM431.5 346.3h1.2v1.2h-1.2zM410.7 364.9h1.2v1.2h-1.2zM405.8 392.9h1.2v1.2h-1.2zM428.6 358.4h1.2v1.2h-1.2zM414.0 333.3h1.2v1.2h-1.2zM407.6 395.6h1.2v1.2h-1.2zM430.1 356.2h1.2v1.2h-1.2zM415.5 327.1h1.2v1.2h-1.2zM430.4 372.3h1.2v1.2h-1.2zM430.6 350.6h1.2v1.2h-1.2zM413.6 341.8h1.2v1.2h-1.2zM425.4 331.2h1.2v1.2h-1.2zM407.1 387.6h1.2v1.2h-1.2zM413.3 333.1h1.2v1.2h-1.2zM422.8 386.1h1.2v1.2h-1.2zM420.7 319.4h1.2v1.2h-1.2zM426.6 323.1h1.2v1.2h-1.2zM425.3 383.4h1.2v1.2h-1.2zM410.5 378.6h1.2v1.2h-1.2zM406.8 393.1h1.2v1.2h-1.2zM411.9 357.8h1.2v1.2h-1.2zM423.8 320.7h1.2v1.2h-1.2zM425.4 374.0h1.2v1.2h-1.2zM425.9 330.3h1.2v1.2h-1.2zM405.4 397.1h1.2v1.2h-1.2zM422.9 383.3h1.2v1.2h-1.2zM406.6 396.6h1.2v1.2h-1.2zM416.9 331.4h1.2v1.2h-1.2zM417.5 388.1h1.2v1.2h-1.2zM407.6 393.0h1.2v1.2h-1.2zM430.7 338.4h1.2v1.2h-1.2zM431.3 369.5h1.2v1.2h-1.2zM425.2 330.7h1.2v1.2h-1.2zM430.8 343.5h1.2v1.2h-1.2zM411.2 394.8h1.2v1.2h-1.2zM429.9 365.5h1.2v1.2h-1.2zM431.7 351.1h1.2v1.2h-1.2zM407.0 392.1h1.2v1.2h-1.2zM405.7 397.5h1.2v1.2h-1.2zM431.7 354.4h1.2v1.2h-1.2zM426.1 380.4h1.2v1.2h-1.2zM409.9 395.3h1.2v1.2h-1.2zM429.4 350.1h1.2v1.2h-1.2zM426.2 378.4h1.2v1.2h-1.2zM404.6 398.4h1.2v1.2h-1.2zM405.8 397.0h1.2v1.2h-1.2zM413.3 392.7h1.2v1.2h-1.2zM428.0 371.4h1.2v1.2h-1.2zM426.5 380.4h1.2v1.2h-1.2zM419.2 388.7h1.2v1.2h-1.2zM427.4 341.2h1.2v1.2h-1.2zM426.2 334.9h1.2v1.2h-1.2zM410.3 380.7h1.2v1.2h-1.2zM428.6 353.3h1.2v1.2h-1.2zM407.3 395.2h1.2v1.2h-1.2zM425.5 327.0h1.2v1.2h-1.2zM405.8 396.7h1.2v1.2h-1.2zM406.1 394.7h1.2v1.2h-1.2zM430.0 353.0h1.2v1.2h-1.2zM430.4 343.4h1.2v1.2h-1.2zM411.9 355.1h1.2v1.2h-1.2zM414.0 393.0h1.2v1.2h-1.2zM408.0 388.2h1.2v1.2h-1.2zM431.3 348.4h1.2v1.2h-1.2zM428.6 348.6h1.2v1.2h-1.2zM418.5 334.8h1.2v1.2h-1.2zM410.9 357.9h1.2v1.2h-1.2zM429.5 341.2h1.2v1.2h-1.2zM424.6 379.9h1.2v1.2h-1.2zM408.5 396.5h1.2v1.2h-1.2zM425.9 324.2h1.2v1.2h-1.2zM422.3 336.4h1.2v1.2h-1.2zM410.9 360.1h1.2v1.2h-1.2zM425.5 376.2h1.2v1.2h-1.2zM427.6 376.1h1.2v1.2h-1.2zM430.3 334.7h1.2v1.2h-1.2zM429.6 369.2h1.2v1.2h-1.2zM418.0 320.8h1.2v1.2h-1.2zM419.6 335.0h1.2v1.2h-1.2zM417.6 387.9h1.2v1.2h-1.2zM423.1 312.8h1.2v1.2h-1.2zM420.2 385.8h1.2v1.2h-1.2zM410.6 368.6h1.2v1.2h-1.2zM413.0 356.5h1.2v1.2h-1.2zM407.1 390.3h1.2v1.2h-1.2zM414.0 391.1h1.2v1.2h-1.2zM425.4 331.5h1.2v1.2h-1.2zM429.8 367.0h1.2v1.2h-1.2zM429.9 372.9h1.2v1.2h-1.2zM423.8 385.2h1.2v1.2h-1.2zM425.2 337.6h1.2v1.2h-1.2zM429.9 352.0h1.2v1.2h-1.2zM423.3 381.6h1.2v1.2h-1.2zM413.4 348.9h1.2v1.2h-1.2zM408.1 390.1h1.2v1.2h-1.2zM406.6 396.8h1.2v1.2h-1.2zM412.6 356.7h1.2v1.2h-1.2zM409.4 394.4h1.2v1.2h-1.2zM429.2 373.1h1.2v1.2h-1.2zM422.8 319.9h1.2v1.2h-1.2zM410.8 359.5h1.2v1.2h-1.2zM429.0 356.9h1.2v1.2h-1.2zM423.1 322.4h1.2v1.2h-1.2zM407.0 393.2h1.2v1.2h-1.2zM432.3 354.2h1.2v1.2h-1.2zM430.7 338.2h1.2v1.2h-1.2zM429.2 356.8h1.2v1.2h-1.2zM409.8 394.4h1.2v1.2h-1.2zM409.9 376.5h1.2v1.2h-1.2zM405.5 398.0h1.2v1.2h-1.2zM422.5 335.5h1.2v1.2h-1.2zM416.3 330.1h1.2v1.2h-1.2zM426.2 379.5h1.2v1.2h-1.2zM431.4 342.6h1.2v1.2h-1.2zM406.9 393.0h1.2v1.2h-1.2zM426.0 337.6h1.2v1.2h-1.2zM407.2 396.7h1.2v1.2h-1.2zM429.5 336.6h1.2v1.2h-1.2zM406.2 392.4h1.2v1.2h-1.2zM413.6 345.5h1.2v1.2h-1.2zM404.8 397.9h1.2v1.2h-1.2zM407.6 390.8h1.2v1.2h-1.2zM422.5 328.5h1.2v1.2h-1.2zM416.6 390.4h1.2v1.2h-1.2zM428.1 378.3h1.2v1.2h-1.2zM428.1 372.9h1.2v1.2h-1.2zM411.5 393.3h1.2v1.2h-1.2zM425.5 373.4h1.2v1.2h-1.2zM429.0 361.8h1.2v1.2h-1.2zM426.5 343.4h1.2v1.2h-1.2zM405.2 394.7h1.2v1.2h-1.2zM424.7 379.3h1.2v1.2h-1.2zM407.1 389.7h1.2v1.2h-1.2zM428.4 334.4h1.2v1.2h-1.2zM408.3 379.5h1.2v1.2h-1.2zM409.0 378.2h1.2v1.2h-1.2zM416.6 391.9h1.2v1.2h-1.2zM407.5 396.9h1.2v1.2h-1.2zM429.0 344.2h1.2v1.2h-1.2zM420.0 386.8h1.2v1.2h-1.2zM420.2 332.5h1.2v1.2h-1.2zM426.6 372.6h1.2v1.2h-1.2zM413.1 393.0h1.2v1.2h-1.2zM405.6 397.5h1.2v1.2h-1.2zM425.2 330.9h1.2v1.2h-1.2zM414.1 345.2h1.2v1.2h-1.2zM408.3 394.9h1.2v1.2h-1.2zM428.0 375.4h1.2v1.2h-1.2zM426.8 376.8h1.2v1.2h-1.2zM408.7 396.5h1.2v1.2h-1.2zM417.4 332.6h1.2v1.2h-1.2zM426.0 375.3h1.2v1.2h-1.2zM415.0 392.6h1.2v1.2h-1.2zM430.9 366.0h1.2v1.2h-1.2zM406.8 397.0h1.2v1.2h-1.2zM425.2 381.8h1.2v1.2h-1.2zM421.6 313.0h1.2v1.2h-1.2zM418.1 331.2h1.2v1.2h-1.2zM427.1 373.0h1.2v1.2h-1.2zM428.0 364.8h1.2v1.2h-1.2zM411.4 358.5h1.2v1.2h-1.2zM405.1 397.0h1.2v1.2h-1.2zM426.0 381.2h1.2v1.2h-1.2zM428.0 347.0h1.2v1.2h-1.2zM410.9 363.0h1.2v1.2h-1.2zM422.2 324.7h1.2v1.2h-1.2zM409.4 373.8h1.2v1.2h-1.2zM422.7 318.8h1.2v1.2h-1.2zM417.7 322.7h1.2v1.2h-1.2zM428.3 375.4h1.2v1.2h-1.2zM409.7 375.5h1.2v1.2h-1.2zM417.6 390.0h1.2v1.2h-1.2zM422.7 330.9h1.2v1.2h-1.2zM425.4 330.5h1.2v1.2h-1.2zM421.7 388.2h1.2v1.2h-1.2zM421.6 384.8h1.2v1.2h-1.2zM432.9 357.7h1.2v1.2h-1.2zM428.8 329.4h1.2v1.2h-1.2zM427.9 363.4h1.2v1.2h-1.2zM420.8 321.2h1.2v1.2h-1.2zM423.1 384.7h1.2v1.2h-1.2zM409.3 395.5h1.2v1.2h-1.2zM407.3 396.1h1.2v1.2h-1.2zM411.7 364.2h1.2v1.2h-1.2zM424.1 328.6h1.2v1.2h-1.2zM431.9 340.8h1.2v1.2h-1.2zM414.3 336.0h1.2v1.2h-1.2zM427.0 376.9h1.2v1.2h-1.2zM423.1 322.2h1.2v1.2h-1.2zM427.6 337.3h1.2v1.2h-1.2zM427.4 379.4h1.2v1.2h-1.2zM432.5 354.6h1.2v1.2h-1.2zM405.8 396.0h1.2v1.2h-1.2zM413.8 343.6h1.2v1.2h-1.2zM417.7 325.3h1.2v1.2h-1.2zM422.0 382.9h1.2v1.2h-1.2zM405.6 397.8h1.2v1.2h-1.2zM413.4 336.6h1.2v1.2h-1.2zM413.6 343.8h1.2v1.2h-1.2zM405.8 396.9h1.2v1.2h-1.2zM417.1 388.9h1.2v1.2h-1.2zM426.0 336.8h1.2v1.2h-1.2zM427.2 344.1h1.2v1.2h-1.2zM412.7 393.6h1.2v1.2h-1.2zM426.3 322.4h1.2v1.2h-1.2zM429.8 351.8h1.2v1.2h-1.2zM404.5 398.5h1.2v1.2h-1.2zM408.7 381.7h1.2v1.2h-1.2zM426.1 380.2h1.2v1.2h-1.2zM427.1 377.3h1.2v1.2h-1.2zM412.4 359.6h1.2v1.2h-1.2zM419.6 386.4h1.2v1.2h-1.2zM430.6 344.6h1.2v1.2h-1.2zM424.9 379.6h1.2v1.2h-1.2zM413.9 343.9h1.2v1.2h-1.2zM428.9 371.4h1.2v1.2h-1.2zM408.0 383.4h1.2v1.2h-1.2zM413.2 354.1h1.2v1.2h-1.2zM422.5 328.3h1.2v1.2h-1.2zM417.7 331.4h1.2v1.2h-1.2zM416.6 389.5h1.2v1.2h-1.2zM425.5 382.0h1.2v1.2h-1.2zM424.9 340.2h1.2v1.2h-1.2zM431.3 359.0h1.2v1.2h-1.2zM420.5 332.4h1.2v1.2h-1.2zM411.7 392.9h1.2v1.2h-1.2zM429.0 365.3h1.2v1.2h-1.2zM424.0 382.6h1.2v1.2h-1.2zM431.2 362.9h1.2v1.2h-1.2zM426.1 379.6h1.2v1.2h-1.2zM410.0 378.4h1.2v1.2h-1.2zM429.0 353.6h1.2v1.2h-1.2zM405.7 394.3h1.2v1.2h-1.2zM410.4 394.9h1.2v1.2h-1.2zM419.5 330.8h1.2v1.2h-1.2zM430.4 357.0h1.2v1.2h-1.2zM407.5 397.0h1.2v1.2h-1.2zM409.8 377.3h1.2v1.2h-1.2zM411.3 369.9h1.2v1.2h-1.2zM430.0 355.9h1.2v1.2h-1.2zM404.6 398.5h1.2v1.2h-1.2zM409.6 395.8h1.2v1.2h-1.2zM429.0 375.5h1.2v1.2h-1.2zM406.9 396.3h1.2v1.2h-1.2zM412.9 337.2h1.2v1.2h-1.2zM426.9 369.8h1.2v1.2h-1.2zM431.3 366.5h1.2v1.2h-1.2zM430.3 370.1h1.2v1.2h-1.2zM407.3 395.4h1.2v1.2h-1.2zM423.8 325.2h1.2v1.2h-1.2zM420.4 385.5h1.2v1.2h-1.2zM427.6 375.5h1.2v1.2h-1.2zM406.0 397.3h1.2v1.2h-1.2zM431.4 353.0h1.2v1.2h-1.2zM421.1 322.3h1.2v1.2h-1.2zM410.2 369.0h1.2v1.2h-1.2zM412.6 392.5h1.2v1.2h-1.2zM418.0 389.0h1.2v1.2h-1.2zM428.2 372.5h1.2v1.2h-1.2zM427.0 371.8h1.2v1.2h-1.2zM414.4 337.4h1.2v1.2h-1.2zM413.1 392.1h1.2v1.2h-1.2zM419.8 389.0h1.2v1.2h-1.2zM427.0 334.2h1.2v1.2h-1.2zM427.0 334.2h1.2v1.2h-1.2zM413.4 352.6h1.2v1.2h-1.2zM409.8 376.1h1.2v1.2h-1.2zM428.7 361.2h1.2v1.2h-1.2zM425.6 340.9h1.2v1.2h-1.2zM423.3 320.5h1.2v1.2h-1.2zM406.8 390.8h1.2v1.2h-1.2zM429.7 346.0h1.2v1.2h-1.2zM412.0 393.7h1.2v1.2h-1.2zM415.1 330.1h1.2v1.2h-1.2zM410.5 362.9h1.2v1.2h-1.2zM420.8 326.2h1.2v1.2h-1.2zM422.6 384.7h1.2v1.2h-1.2zM425.2 326.7h1.2v1.2h-1.2zM404.8 398.4h1.2v1.2h-1.2zM412.2 392.3h1.2v1.2h-1.2zM405.7 397.1h1.2v1.2h-1.2zM421.7 323.5h1.2v1.2h-1.2zM425.1 341.8h1.2v1.2h-1.2zM426.6 371.0h1.2v1.2h-1.2zM418.1 319.5h1.2v1.2h-1.2zM425.8 325.7h1.2v1.2h-1.2zM430.6 356.1h1.2v1.2h-1.2zM417.4 335.6h1.2v1.2h-1.2zM427.0 370.7h1.2v1.2h-1.2zM421.4 325.4h1.2v1.2h-1.2zM408.1 389.8h1.2v1.2h-1.2zM413.4 340.8h1.2v1.2h-1.2zM428.6 373.4h1.2v1.2h-1.2zM417.0 323.7h1.2v1.2h-1.2zM411.8 392.8h1.2v1.2h-1.2zM416.8 390.1h1.2v1.2h-1.2zM406.7 396.8h1.2v1.2h-1.2zM432.2 360.3h1.2v1.2h-1.2zM404.7 398.4h1.2v1.2h-1.2zM429.2 353.9h1.2v1.2h-1.2zM428.6 364.2h1.2v1.2h-1.2zM428.8 375.4h1.2v1.2h-1.2zM427.9 378.0h1.2v1.2h-1.2zM412.6 341.3h1.2v1.2h-1.2zM427.5 328.7h1.2v1.2h-1.2zM431.6 364.2h1.2v1.2h-1.2zM430.0 359.9h1.2v1.2h-1.2zM417.2 389.1h1.2v1.2h-1.2zM423.4 386.0h1.2v1.2h-1.2zM432.0 344.7h1.2v1.2h-1.2zM419.5 316.4h1.2v1.2h-1.2zM408.6 389.6h1.2v1.2h-1.2zM425.9 330.7h1.2v1.2h-1.2zM410.4 393.9h1.2v1.2h-1.2zM411.9 363.9h1.2v1.2h-1.2zM412.3 392.6h1.2v1.2h-1.2zM416.7 323.8h1.2v1.2h-1.2zM411.1 394.3h1.2v1.2h-1.2zM429.6 345.6h1.2v1.2h-1.2zM426.1 375.3h1.2v1.2h-1.2zM432.1 343.6h1.2v1.2h-1.2zM409.0 395.3h1.2v1.2h-1.2zM416.2 322.3h1.2v1.2h-1.2zM405.6 394.2h1.2v1.2h-1.2zM419.8 328.2h1.2v1.2h-1.2zM405.8 393.7h1.2v1.2h-1.2zM413.0 338.2h1.2v1.2h-1.2zM409.1 379.8h1.2v1.2h-1.2zM419.2 319.1h1.2v1.2h-1.2zM415.4 392.2h1.2v1.2h-1.2zM412.7 394.2h1.2v1.2h-1.2zM432.3 361.3h1.2v1.2h-1.2zM411.9 360.9h1.2v1.2h-1.2zM417.9 391.1h1.2v1.2h-1.2zM428.2 377.9h1.2v1.2h-1.2zM407.2 393.0h1.2v1.2h-1.2zM417.0 327.9h1.2v1.2h-1.2zM409.6 395.1h1.2v1.2h-1.2zM428.9 362.8h1.2v1.2h-1.2zM404.8 398.1h1.2v1.2h-1.2zM406.1 397.3h1.2v1.2h-1.2zM411.2 372.9h1.2v1.2h-1.2zM430.2 363.8h1.2v1.2h-1.2zM410.3 394.9h1.2v1.2h-1.2zM426.8 334.6h1.2v1.2h-1.2zM425.9 381.2h1.2v1.2h-1.2zM430.6 367.0h1.2v1.2h-1.2zM431.8 353.1h1.2v1.2h-1.2zM424.1 327.9h1.2v1.2h-1.2zM407.3 394.7h1.2v1.2h-1.2zM405.2 398.0h1.2v1.2h-1.2zM420.8 321.6h1.2v1.2h-1.2zM428.4 370.8h1.2v1.2h-1.2zM409.0 380.1h1.2v1.2h-1.2zM417.4 319.1h1.2v1.2h-1.2zM410.2 395.2h1.2v1.2h-1.2zM406.7 389.0h1.2v1.2h-1.2zM424.6 335.7h1.2v1.2h-1.2zM410.9 372.0h1.2v1.2h-1.2zM404.9 397.8h1.2v1.2h-1.2zM409.8 381.1h1.2v1.2h-1.2zM424.4 336.2h1.2v1.2h-1.2zM425.9 378.1h1.2v1.2h-1.2zM422.9 318.6h1.2v1.2h-1.2zM427.2 346.9h1.2v1.2h-1.2zM432.4 348.0h1.2v1.2h-1.2zM407.6 392.5h1.2v1.2h-1.2zM409.7 372.2h1.2v1.2h-1.2zM422.3 322.4h1.2v1.2h-1.2zM421.1 388.2h1.2v1.2h-1.2zM423.0 337.7h1.2v1.2h-1.2zM429.1 374.7h1.2v1.2h-1.2zM420.4 384.2h1.2v1.2h-1.2zM407.7 391.0h1.2v1.2h-1.2zM428.6 359.8h1.2v1.2h-1.2zM411.6 369.3h1.2v1.2h-1.2zM409.6 395.1h1.2v1.2h-1.2zM413.7 340.2h1.2v1.2h-1.2zM432.2 361.3h1.2v1.2h-1.2zM404.9 397.8h1.2v1.2h-1.2zM431.4 345.9h1.2v1.2h-1.2zM417.5 389.0h1.2v1.2h-1.2zM407.9 386.8h1.2v1.2h-1.2zM416.3 319.5h1.2v1.2h-1.2zM413.7 329.4h1.2v1.2h-1.2zM425.2 376.7h1.2v1.2h-1.2zM426.4 343.9h1.2v1.2h-1.2zM418.3 389.3h1.2v1.2h-1.2zM421.7 325.9h1.2v1.2h-1.2zM421.5 335.5h1.2v1.2h-1.2zM427.0 379.4h1.2v1.2h-1.2zM411.2 371.8h1.2v1.2h-1.2zM406.4 396.9h1.2v1.2h-1.2zM425.5 382.6h1.2v1.2h-1.2zM404.4 398.2h1.2v1.2h-1.2zM413.5 394.0h1.2v1.2h-1.2zM422.2 321.2h1.2v1.2h-1.2zM426.5 335.0h1.2v1.2h-1.2zM404.3 398.5h1.2v1.2h-1.2zM416.9 389.8h1.2v1.2h-1.2zM406.8 393.7h1.2v1.2h-1.2zM422.9 329.2h1.2v1.2h-1.2zM408.4 395.7h1.2v1.2h-1.2zM421.3 383.9h1.2v1.2h-1.2zM417.6 335.2h1.2v1.2h-1.2zM406.0 394.7h1.2v1.2h-1.2zM405.2 395.5h1.2v1.2h-1.2zM405.8 397.3h1.2v1.2h-1.2zM413.6 391.4h1.2v1.2h-1.2zM418.0 391.3h1.2v1.2h-1.2zM430.1 361.8h1.2v1.2h-1.2zM423.2 381.0h1.2v1.2h-1.2zM431.2 365.1h1.2v1.2h-1.2zM430.2 370.8h1.2v1.2h-1.2zM419.6 327.3h1.2v1.2h-1.2zM428.3 325.1h1.2v1.2h-1.2zM410.5 379.1h1.2v1.2h-1.2zM428.6 333.3h1.2v1.2h-1.2zM423.9 379.2h1.2v1.2h-1.2zM408.3 386.7h1.2v1.2h-1.2zM411.7 362.1h1.2v1.2h-1.2zM430.1 355.0h1.2v1.2h-1.2zM412.1 344.1h1.2v1.2h-1.2zM406.2 393.9h1.2v1.2h-1.2zM410.0 382.0h1.2v1.2h-1.2zM417.3 388.5h1.2v1.2h-1.2zM430.9 366.2h1.2v1.2h-1.2zM413.7 340.8h1.2v1.2h-1.2zM410.9 363.6h1.2v1.2h-1.2zM421.9 327.2h1.2v1.2h-1.2zM414.0 328.7h1.2v1.2h-1.2zM407.1 395.0h1.2v1.2h-1.2zM407.3 395.0h1.2v1.2h-1.2zM429.5 349.5h1.2v1.2h-1.2zM425.4 380.3h1.2v1.2h-1.2zM405.7 397.7h1.2v1.2h-1.2zM430.9 339.9h1.2v1.2h-1.2zM422.7 315.1h1.2v1.2h-1.2zM404.3 398.6h1.2v1.2h-1.2zM409.1 384.7h1.2v1.2h-1.2zM424.6 333.0h1.2v1.2h-1.2zM428.6 373.2h1.2v1.2h-1.2zM411.9 392.5h1.2v1.2h-1.2zM404.6 397.6h1.2v1.2h-1.2zM413.3 343.0h1.2v1.2h-1.2zM427.8 370.4h1.2v1.2h-1.2zM427.6 376.5h1.2v1.2h-1.2zM411.7 365.3h1.2v1.2h-1.2zM424.6 328.1h1.2v1.2h-1.2zM409.6 395.9h1.2v1.2h-1.2zM404.7 398.2h1.2v1.2h-1.2zM411.1 362.0h1.2v1.2h-1.2zM411.9 358.0h1.2v1.2h-1.2zM425.8 318.9h1.2v1.2h-1.2zM427.6 368.6h1.2v1.2h-1.2zM427.8 373.7h1.2v1.2h-1.2zM425.4 336.3h1.2v1.2h-1.2zM404.5 398.2h1.2v1.2h-1.2zM427.6 373.0h1.2v1.2h-1.2zM413.1 347.4h1.2v1.2h-1.2zM428.2 328.5h1.2v1.2h-1.2zM429.3 370.8h1.2v1.2h-1.2zM408.2 382.7h1.2v1.2h-1.2zM424.5 321.8h1.2v1.2h-1.2zM413.3 350.7h1.2v1.2h-1.2zM415.7 390.7h1.2v1.2h-1.2zM412.4 356.5h1.2v1.2h-1.2zM431.0 367.3h1.2v1.2h-1.2zM408.2 384.3h1.2v1.2h-1.2zM429.1 334.3h1.2v1.2h-1.2zM414.9 335.4h1.2v1.2h-1.2zM408.4 387.0h1.2v1.2h-1.2zM423.1 316.5h1.2v1.2h-1.2zM414.9 334.0h1.2v1.2h-1.2zM423.1 380.8h1.2v1.2h-1.2zM431.4 367.0h1.2v1.2h-1.2zM407.4 395.6h1.2v1.2h-1.2zM409.4 382.4h1.2v1.2h-1.2zM425.1 378.5h1.2v1.2h-1.2zM430.8 339.7h1.2v1.2h-1.2zM423.6 322.9h1.2v1.2h-1.2zM408.8 382.8h1.2v1.2h-1.2zM416.2 324.7h1.2v1.2h-1.2zM416.6 329.2h1.2v1.2h-1.2zM427.8 365.9h1.2v1.2h-1.2zM408.7 396.5h1.2v1.2h-1.2zM410.8 395.3h1.2v1.2h-1.2zM411.0 366.1h1.2v1.2h-1.2zM430.0 353.7h1.2v1.2h-1.2zM411.2 354.1h1.2v1.2h-1.2zM406.9 390.5h1.2v1.2h-1.2zM404.3 398.6h1.2v1.2h-1.2zM411.1 354.9h1.2v1.2h-1.2zM425.7 382.9h1.2v1.2h-1.2zM410.0 375.1h1.2v1.2h-1.2zM430.4 351.8h1.2v1.2h-1.2zM423.3 386.1h1.2v1.2h-1.2zM404.4 398.5h1.2v1.2h-1.2zM419.4 387.9h1.2v1.2h-1.2zM412.1 393.0h1.2v1.2h-1.2zM426.5 342.6h1.2v1.2h-1.2zM404.3 398.5h1.2v1.2h-1.2zM422.4 322.2h1.2v1.2h-1.2zM425.3 317.6h1.2v1.2h-1.2zM414.1 331.9h1.2v1.2h-1.2zM410.4 377.1h1.2v1.2h-1.2zM413.4 338.0h1.2v1.2h-1.2zM426.0 338.9h1.2v1.2h-1.2zM427.4 375.9h1.2v1.2h-1.2zM417.9 319.7h1.2v1.2h-1.2zM411.7 394.7h1.2v1.2h-1.2zM407.2 397.1h1.2v1.2h-1.2zM428.1 367.3h1.2v1.2h-1.2zM421.4 386.8h1.2v1.2h-1.2zM410.2 366.0h1.2v1.2h-1.2zM424.9 383.5h1.2v1.2h-1.2zM425.9 320.8h1.2v1.2h-1.2zM404.9 398.2h1.2v1.2h-1.2zM411.8 393.8h1.2v1.2h-1.2zM432.6 350.3h1.2v1.2h-1.2zM410.9 368.0h1.2v1.2h-1.2zM421.8 326.4h1.2v1.2h-1.2zM411.9 350.3h1.2v1.2h-1.2zM432.4 347.2h1.2v1.2h-1.2zM423.7 380.1h1.2v1.2h-1.2zM419.7 386.8h1.2v1.2h-1.2zM411.0 373.2h1.2v1.2h-1.2zM427.3 372.4h1.2v1.2h-1.2zM422.0 385.7h1.2v1.2h-1.2zM409.8 381.4h1.2v1.2h-1.2zM408.0 390.8h1.2v1.2h-1.2zM432.3 363.5h1.2v1.2h-1.2zM407.1 397.1h1.2v1.2h-1.2zM419.8 314.4h1.2v1.2h-1.2zM409.8 381.6h1.2v1.2h-1.2zM420.2 389.9h1.2v1.2h-1.2zM425.6 377.9h1.2v1.2h-1.2zM426.2 380.0h1.2v1.2h-1.2zM409.6 384.3h1.2v1.2h-1.2zM417.3 390.6h1.2v1.2h-1.2zM424.5 384.7h1.2v1.2h-1.2zM405.8 396.4h1.2v1.2h-1.2zM430.2 347.1h1.2v1.2h-1.2zM405.2 397.5h1.2v1.2h-1.2zM407.9 387.8h1.2v1.2h-1.2zM407.8 396.5h1.2v1.2h-1.2zM429.4 374.5h1.2v1.2h-1.2zM430.2 335.5h1.2v1.2h-1.2zM427.9 370.6h1.2v1.2h-1.2zM409.0 375.6h1.2v1.2h-1.2zM414.3 391.9h1.2v1.2h-1.2zM431.1 360.6h1.2v1.2h-1.2zM430.2 338.1h1.2v1.2h-1.2zM418.7 387.8h1.2v1.2h-1.2zM413.9 393.0h1.2v1.2h-1.2zM412.6 342.4h1.2v1.2h-1.2zM415.8 329.8h1.2v1.2h-1.2zM411.9 393.2h1.2v1.2h-1.2zM428.0 363.0h1.2v1.2h-1.2zM411.4 364.7h1.2v1.2h-1.2zM414.7 340.0h1.2v1.2h-1.2zM428.9 328.0h1.2v1.2h-1.2zM428.3 375.1h1.2v1.2h-1.2zM419.5 386.7h1.2v1.2h-1.2zM415.6 328.9h1.2v1.2h-1.2zM423.6 324.9h1.2v1.2h-1.2zM430.3 365.3h1.2v1.2h-1.2zM422.3 330.3h1.2v1.2h-1.2zM422.6 326.4h1.2v1.2h-1.2zM406.2 392.1h1.2v1.2h-1.2zM429.8 367.3h1.2v1.2h-1.2zM414.2 391.6h1.2v1.2h-1.2zM421.9 330.7h1.2v1.2h-1.2zM407.8 387.4h1.2v1.2h-1.2zM418.1 387.1h1.2v1.2h-1.2zM429.8 348.4h1.2v1.2h-1.2zM432.9 348.6h1.2v1.2h-1.2zM407.5 396.2h1.2v1.2h-1.2zM430.2 344.9h1.2v1.2h-1.2zM432.0 360.4h1.2v1.2h-1.2zM411.1 363.0h1.2v1.2h-1.2zM425.3 337.0h1.2v1.2h-1.2zM431.1 369.0h1.2v1.2h-1.2zM416.5 389.6h1.2v1.2h-1.2zM411.9 364.2h1.2v1.2h-1.2zM407.6 388.6h1.2v1.2h-1.2zM410.7 373.5h1.2v1.2h-1.2zM427.7 368.8h1.2v1.2h-1.2zM413.0 347.5h1.2v1.2h-1.2zM419.0 389.2h1.2v1.2h-1.2zM406.6 393.1h1.2v1.2h-1.2zM420.7 316.3h1.2v1.2h-1.2zM411.2 369.5h1.2v1.2h-1.2zM412.7 341.2h1.2v1.2h-1.2zM415.8 390.9h1.2v1.2h-1.2zM413.0 392.5h1.2v1.2h-1.2zM430.8 369.5h1.2v1.2h-1.2zM429.2 356.4h1.2v1.2h-1.2zM410.4 395.0h1.2v1.2h-1.2zM424.9 318.5h1.2v1.2h-1.2zM404.4 398.1h1.2v1.2h-1.2zM412.3 393.7h1.2v1.2h-1.2zM419.6 390.1h1.2v1.2h-1.2zM429.3 362.9h1.2v1.2h-1.2zM420.0 333.2h1.2v1.2h-1.2zM406.1 391.4h1.2v1.2h-1.2zM425.8 338.0h1.2v1.2h-1.2zM430.2 362.5h1.2v1.2h-1.2zM408.9 381.0h1.2v1.2h-1.2zM406.3 397.5h1.2v1.2h-1.2zM409.0 375.8h1.2v1.2h-1.2zM410.2 376.8h1.2v1.2h-1.2zM413.8 346.2h1.2v1.2h-1.2zM413.3 336.6h1.2v1.2h-1.2zM415.1 338.1h1.2v1.2h-1.2zM414.1 337.0h1.2v1.2h-1.2zM428.1 377.2h1.2v1.2h-1.2zM410.0 393.5h1.2v1.2h-1.2zM409.1 395.4h1.2v1.2h-1.2zM409.4 381.1h1.2v1.2h-1.2zM432.7 358.1h1.2v1.2h-1.2zM428.5 332.7h1.2v1.2h-1.2zM429.5 367.8h1.2v1.2h-1.2zM411.8 367.3h1.2v1.2h-1.2zM420.7 389.0h1.2v1.2h-1.2zM425.0 323.2h1.2v1.2h-1.2zM408.0 390.4h1.2v1.2h-1.2zM409.9 370.2h1.2v1.2h-1.2zM423.1 385.1h1.2v1.2h-1.2zM430.4 356.9h1.2v1.2h-1.2zM422.4 382.8h1.2v1.2h-1.2zM410.8 357.8h1.2v1.2h-1.2zM410.5 368.9h1.2v1.2h-1.2zM428.5 326.9h1.2v1.2h-1.2zM429.5 367.3h1.2v1.2h-1.2zM430.2 342.3h1.2v1.2h-1.2zM428.7 326.8h1.2v1.2h-1.2zM424.3 380.4h1.2v1.2h-1.2zM407.8 386.0h1.2v1.2h-1.2zM413.9 392.3h1.2v1.2h-1.2zM408.2 394.7h1.2v1.2h-1.2zM406.4 396.3h1.2v1.2h-1.2zM430.8 341.4h1.2v1.2h-1.2zM428.7 367.3h1.2v1.2h-1.2zM416.1 392.2h1.2v1.2h-1.2zM422.8 382.9h1.2v1.2h-1.2zM421.5 384.4h1.2v1.2h-1.2zM426.2 381.4h1.2v1.2h-1.2zM430.5 355.4h1.2v1.2h-1.2zM414.2 337.0h1.2v1.2h-1.2zM417.1 324.5h1.2v1.2h-1.2zM407.7 395.5h1.2v1.2h-1.2zM412.1 358.8h1.2v1.2h-1.2zM407.7 395.9h1.2v1.2h-1.2zM431.2 346.1h1.2v1.2h-1.2zM415.0 393.0h1.2v1.2h-1.2zM412.1 351.8h1.2v1.2h-1.2zM417.7 390.5h1.2v1.2h-1.2zM412.9 341.4h1.2v1.2h-1.2zM414.6 337.5h1.2v1.2h-1.2zM411.9 347.2h1.2v1.2h-1.2zM406.9 397.3h1.2v1.2h-1.2zM426.9 381.6h1.2v1.2h-1.2zM410.9 358.1h1.2v1.2h-1.2zM424.9 328.4h1.2v1.2h-1.2zM430.0 354.1h1.2v1.2h-1.2zM428.9 371.5h1.2v1.2h-1.2zM429.0 357.2h1.2v1.2h-1.2zM412.2 393.2h1.2v1.2h-1.2zM421.0 330.1h1.2v1.2h-1.2zM407.4 394.3h1.2v1.2h-1.2zM406.4 396.6h1.2v1.2h-1.2zM405.0 397.9h1.2v1.2h-1.2zM427.7 348.5h1.2v1.2h-1.2zM419.6 386.7h1.2v1.2h-1.2zM428.6 349.9h1.2v1.2h-1.2zM429.1 341.0h1.2v1.2h-1.2zM405.4 397.3h1.2v1.2h-1.2zM425.6 376.7h1.2v1.2h-1.2zM404.7 398.4h1.2v1.2h-1.2zM410.2 367.6h1.2v1.2h-1.2zM423.9 384.5h1.2v1.2h-1.2zM429.2 369.6h1.2v1.2h-1.2zM409.8 381.6h1.2v1.2h-1.2zM416.2 389.9h1.2v1.2h-1.2zM405.0 397.4h1.2v1.2h-1.2zM427.5 378.4h1.2v1.2h-1.2zM418.7 389.5h1.2v1.2h-1.2zM424.8 320.9h1.2v1.2h-1.2zM426.5 371.6h1.2v1.2h-1.2zM411.8 368.1h1.2v1.2h-1.2zM415.1 391.7h1.2v1.2h-1.2zM416.2 335.5h1.2v1.2h-1.2zM424.5 320.8h1.2v1.2h-1.2zM416.3 391.2h1.2v1.2h-1.2zM422.8 335.5h1.2v1.2h-1.2zM415.8 389.9h1.2v1.2h-1.2zM432.5 348.6h1.2v1.2h-1.2zM427.9 377.1h1.2v1.2h-1.2zM407.7 385.4h1.2v1.2h-1.2zM427.9 367.0h1.2v1.2h-1.2zM428.8 383.5h1.2v1.2h-1.2zM432.8 381.0h1.2v1.2h-1.2zM415.1 395.3h1.2v1.2h-1.2zM426.4 378.5h1.2v1.2h-1.2zM437.4 343.8h1.2v1.2h-1.2zM442.7 346.3h1.2v1.2h-1.2zM432.6 373.4h1.2v1.2h-1.2zM440.0 320.7h1.2v1.2h-1.2zM430.2 320.3h1.2v1.2h-1.2zM422.3 384.8h1.2v1.2h-1.2zM407.2 397.1h1.2v1.2h-1.2zM430.0 382.0h1.2v1.2h-1.2zM430.2 323.5h1.2v1.2h-1.2zM438.2 335.4h1.2v1.2h-1.2zM429.2 369.3h1.2v1.2h-1.2zM415.2 395.4h1.2v1.2h-1.2zM438.5 320.6h1.2v1.2h-1.2zM443.0 319.4h1.2v1.2h-1.2zM430.4 378.9h1.2v1.2h-1.2zM428.9 334.6h1.2v1.2h-1.2zM425.5 386.2h1.2v1.2h-1.2zM433.4 367.5h1.2v1.2h-1.2zM433.2 330.5h1.2v1.2h-1.2zM427.2 373.8h1.2v1.2h-1.2zM429.6 379.6h1.2v1.2h-1.2zM431.3 371.3h1.2v1.2h-1.2zM434.8 339.5h1.2v1.2h-1.2zM409.2 395.5h1.2v1.2h-1.2zM425.8 316.8h1.2v1.2h-1.2zM426.4 312.3h1.2v1.2h-1.2zM439.7 348.7h1.2v1.2h-1.2zM428.5 358.1h1.2v1.2h-1.2zM432.5 334.3h1.2v1.2h-1.2zM431.7 382.5h1.2v1.2h-1.2zM430.9 377.3h1.2v1.2h-1.2zM426.8 379.3h1.2v1.2h-1.2zM422.7 385.9h1.2v1.2h-1.2zM427.0 381.9h1.2v1.2h-1.2zM430.7 352.6h1.2v1.2h-1.2zM439.1 317.1h1.2v1.2h-1.2zM411.4 395.3h1.2v1.2h-1.2zM439.5 312.0h1.2v1.2h-1.2zM436.4 335.9h1.2v1.2h-1.2zM440.5 340.4h1.2v1.2h-1.2zM427.6 351.1h1.2v1.2h-1.2zM441.2 323.6h1.2v1.2h-1.2zM427.8 382.6h1.2v1.2h-1.2zM429.3 377.3h1.2v1.2h-1.2zM433.3 361.6h1.2v1.2h-1.2zM441.3 353.7h1.2v1.2h-1.2zM439.1 357.8h1.2v1.2h-1.2zM425.5 380.2h1.2v1.2h-1.2zM432.2 315.2h1.2v1.2h-1.2zM421.7 390.4h1.2v1.2h-1.2zM429.1 315.6h1.2v1.2h-1.2zM437.8 345.8h1.2v1.2h-1.2zM438.1 332.7h1.2v1.2h-1.2zM432.3 374.7h1.2v1.2h-1.2zM431.2 303.7h1.2v1.2h-1.2zM437.1 309.4h1.2v1.2h-1.2zM434.8 370.7h1.2v1.2h-1.2zM411.1 396.9h1.2v1.2h-1.2zM435.7 351.9h1.2v1.2h-1.2zM409.6 396.5h1.2v1.2h-1.2zM421.2 388.7h1.2v1.2h-1.2zM429.6 376.5h1.2v1.2h-1.2zM415.5 395.7h1.2v1.2h-1.2zM438.5 342.7h1.2v1.2h-1.2zM438.5 346.1h1.2v1.2h-1.2zM404.1 398.7h1.2v1.2h-1.2zM432.0 312.5h1.2v1.2h-1.2zM418.7 392.4h1.2v1.2h-1.2zM440.1 343.1h1.2v1.2h-1.2zM421.3 390.1h1.2v1.2h-1.2zM434.5 355.1h1.2v1.2h-1.2zM442.3 334.7h1.2v1.2h-1.2zM411.4 395.0h1.2v1.2h-1.2zM425.3 384.4h1.2v1.2h-1.2zM440.1 325.9h1.2v1.2h-1.2zM431.3 321.3h1.2v1.2h-1.2zM424.1 386.5h1.2v1.2h-1.2zM420.7 387.6h1.2v1.2h-1.2zM441.1 346.9h1.2v1.2h-1.2zM429.1 310.4h1.2v1.2h-1.2zM430.5 384.0h1.2v1.2h-1.2zM422.8 306.8h1.2v1.2h-1.2zM438.9 345.3h1.2v1.2h-1.2zM432.3 314.9h1.2v1.2h-1.2zM430.1 357.7h1.2v1.2h-1.2zM410.9 395.7h1.2v1.2h-1.2zM431.5 365.1h1.2v1.2h-1.2zM440.7 323.4h1.2v1.2h-1.2zM419.2 385.7h1.2v1.2h-1.2zM432.9 350.3h1.2v1.2h-1.2zM417.4 391.0h1.2v1.2h-1.2zM426.3 313.2h1.2v1.2h-1.2zM411.9 396.2h1.2v1.2h-1.2zM418.0 389.6h1.2v1.2h-1.2zM425.7 319.4h1.2v1.2h-1.2zM422.4 387.0h1.2v1.2h-1.2zM441.8 336.7h1.2v1.2h-1.2zM436.0 361.9h1.2v1.2h-1.2zM429.8 339.4h1.2v1.2h-1.2zM427.9 378.1h1.2v1.2h-1.2zM433.4 366.9h1.2v1.2h-1.2zM421.8 386.4h1.2v1.2h-1.2zM436.3 355.4h1.2v1.2h-1.2zM419.6 390.1h1.2v1.2h-1.2zM411.9 395.7h1.2v1.2h-1.2zM410.7 395.6h1.2v1.2h-1.2zM433.0 367.4h1.2v1.2h-1.2zM429.2 374.3h1.2v1.2h-1.2zM427.7 384.5h1.2v1.2h-1.2zM435.9 340.4h1.2v1.2h-1.2zM437.0 355.6h1.2v1.2h-1.2zM432.5 344.3h1.2v1.2h-1.2zM440.9 347.5h1.2v1.2h-1.2zM430.1 383.6h1.2v1.2h-1.2zM425.5 385.3h1.2v1.2h-1.2zM431.8 362.0h1.2v1.2h-1.2zM438.7 362.1h1.2v1.2h-1.2zM431.2 377.4h1.2v1.2h-1.2zM431.6 373.5h1.2v1.2h-1.2zM438.7 331.7h1.2v1.2h-1.2zM421.9 297.2h1.2v1.2h-1.2zM440.8 367.7h1.2v1.2h-1.2zM433.0 356.4h1.2v1.2h-1.2zM422.7 385.1h1.2v1.2h-1.2zM437.5 353.7h1.2v1.2h-1.2zM405.6 397.1h1.2v1.2h-1.2zM437.4 361.1h1.2v1.2h-1.2zM421.7 384.4h1.2v1.2h-1.2zM426.6 384.0h1.2v1.2h-1.2zM430.1 336.3h1.2v1.2h-1.2zM437.2 359.4h1.2v1.2h-1.2zM434.2 332.2h1.2v1.2h-1.2zM424.8 384.2h1.2v1.2h-1.2zM436.3 366.6h1.2v1.2h-1.2zM414.2 394.9h1.2v1.2h-1.2zM443.4 350.7h1.2v1.2h-1.2zM435.4 359.0h1.2v1.2h-1.2zM431.0 356.4h1.2v1.2h-1.2zM416.7 390.9h1.2v1.2h-1.2zM413.1 394.5h1.2v1.2h-1.2zM408.4 396.4h1.2v1.2h-1.2zM410.5 396.3h1.2v1.2h-1.2zM437.3 355.3h1.2v1.2h-1.2zM432.9 298.0h1.2v1.2h-1.2zM435.5 358.8h1.2v1.2h-1.2zM413.1 392.2h1.2v1.2h-1.2zM433.3 337.9h1.2v1.2h-1.2zM417.5 391.1h1.2v1.2h-1.2zM436.7 343.3h1.2v1.2h-1.2zM431.7 320.6h1.2v1.2h-1.2zM435.7 314.8h1.2v1.2h-1.2zM427.8 307.1h1.2v1.2h-1.2zM406.5 398.0h1.2v1.2h-1.2zM414.9 394.8h1.2v1.2h-1.2zM430.1 354.2h1.2v1.2h-1.2zM412.4 396.5h1.2v1.2h-1.2zM432.2 334.2h1.2v1.2h-1.2zM432.8 333.3h1.2v1.2h-1.2zM435.2 331.1h1.2v1.2h-1.2zM437.6 359.4h1.2v1.2h-1.2zM434.9 359.8h1.2v1.2h-1.2zM420.4 392.7h1.2v1.2h-1.2zM433.9 322.8h1.2v1.2h-1.2zM407.0 398.6h1.2v1.2h-1.2zM424.3 309.4h1.2v1.2h-1.2zM408.5 398.0h1.2v1.2h-1.2zM438.8 361.6h1.2v1.2h-1.2zM430.9 346.6h1.2v1.2h-1.2zM427.8 379.1h1.2v1.2h-1.2zM427.3 376.7h1.2v1.2h-1.2zM423.3 383.8h1.2v1.2h-1.2zM435.0 369.5h1.2v1.2h-1.2zM436.2 357.7h1.2v1.2h-1.2zM433.2 367.5h1.2v1.2h-1.2zM423.8 383.5h1.2v1.2h-1.2zM417.1 390.3h1.2v1.2h-1.2zM435.3 339.1h1.2v1.2h-1.2zM421.8 387.5h1.2v1.2h-1.2zM436.7 359.3h1.2v1.2h-1.2zM437.6 359.4h1.2v1.2h-1.2zM407.0 397.9h1.2v1.2h-1.2zM403.7 398.4h1.2v1.2h-1.2zM436.5 366.7h1.2v1.2h-1.2zM432.9 356.2h1.2v1.2h-1.2zM434.4 354.8h1.2v1.2h-1.2zM438.6 360.3h1.2v1.2h-1.2zM429.7 345.7h1.2v1.2h-1.2zM430.1 372.1h1.2v1.2h-1.2zM437.0 357.2h1.2v1.2h-1.2zM427.4 375.4h1.2v1.2h-1.2zM414.1 395.5h1.2v1.2h-1.2zM427.9 382.9h1.2v1.2h-1.2zM434.9 368.2h1.2v1.2h-1.2zM417.4 391.1h1.2v1.2h-1.2zM435.5 338.7h1.2v1.2h-1.2zM434.4 358.3h1.2v1.2h-1.2zM433.0 306.9h1.2v1.2h-1.2zM434.5 369.1h1.2v1.2h-1.2zM430.6 373.5h1.2v1.2h-1.2zM431.5 338.6h1.2v1.2h-1.2zM421.1 385.9h1.2v1.2h-1.2zM409.5 396.0h1.2v1.2h-1.2zM442.1 351.2h1.2v1.2h-1.2zM429.7 353.5h1.2v1.2h-1.2zM433.9 374.6h1.2v1.2h-1.2zM438.4 309.3h1.2v1.2h-1.2zM429.9 378.1h1.2v1.2h-1.2zM430.5 329.9h1.2v1.2h-1.2zM436.5 368.7h1.2v1.2h-1.2zM428.0 380.4h1.2v1.2h-1.2zM439.4 359.4h1.2v1.2h-1.2zM441.7 349.0h1.2v1.2h-1.2zM441.4 341.4h1.2v1.2h-1.2zM425.4 386.1h1.2v1.2h-1.2zM440.4 361.3h1.2v1.2h-1.2zM428.6 382.4h1.2v1.2h-1.2zM404.5 397.5h1.2v1.2h-1.2zM408.8 394.9h1.2v1.2h-1.2zM433.2 339.7h1.2v1.2h-1.2zM430.5 378.0h1.2v1.2h-1.2zM432.4 373.1h1.2v1.2h-1.2zM426.6 376.4h1.2v1.2h-1.2zM431.3 356.9h1.2v1.2h-1.2zM431.1 379.3h1.2v1.2h-1.2zM430.4 334.0h1.2v1.2h-1.2zM437.2 367.3h1.2v1.2h-1.2zM424.7 386.1h1.2v1.2h-1.2zM436.8 365.1h1.2v1.2h-1.2zM418.0 391.9h1.2v1.2h-1.2zM409.5 395.8h1.2v1.2h-1.2zM435.6 361.8h1.2v1.2h-1.2zM417.3 392.5h1.2v1.2h-1.2zM424.8 388.8h1.2v1.2h-1.2zM445.4 342.8h1.2v1.2h-1.2zM436.4 305.5h1.2v1.2h-1.2zM435.4 371.4h1.2v1.2h-1.2zM433.7 376.5h1.2v1.2h-1.2zM439.7 347.5h1.2v1.2h-1.2zM421.3 389.6h1.2v1.2h-1.2zM429.8 374.5h1.2v1.2h-1.2zM424.1 306.0h1.2v1.2h-1.2zM439.1 304.3h1.2v1.2h-1.2zM430.5 367.8h1.2v1.2h-1.2zM425.6 317.5h1.2v1.2h-1.2zM413.2 393.5h1.2v1.2h-1.2zM437.7 304.0h1.2v1.2h-1.2zM444.2 295.0h1.2v1.2h-1.2zM424.0 387.0h1.2v1.2h-1.2zM431.7 319.7h1.2v1.2h-1.2zM438.6 364.4h1.2v1.2h-1.2zM434.0 374.2h1.2v1.2h-1.2zM432.7 351.6h1.2v1.2h-1.2zM429.9 324.7h1.2v1.2h-1.2zM424.7 388.1h1.2v1.2h-1.2zM436.0 371.0h1.2v1.2h-1.2zM423.8 386.6h1.2v1.2h-1.2zM426.8 315.0h1.2v1.2h-1.2zM435.7 336.9h1.2v1.2h-1.2zM433.4 378.4h1.2v1.2h-1.2zM428.4 376.3h1.2v1.2h-1.2zM429.7 364.4h1.2v1.2h-1.2zM434.7 324.6h1.2v1.2h-1.2zM445.3 326.7h1.2v1.2h-1.2zM431.8 370.3h1.2v1.2h-1.2zM435.1 373.9h1.2v1.2h-1.2zM411.7 394.6h1.2v1.2h-1.2zM434.8 340.4h1.2v1.2h-1.2zM434.0 368.6h1.2v1.2h-1.2zM436.2 331.8h1.2v1.2h-1.2zM433.9 332.9h1.2v1.2h-1.2zM435.9 340.7h1.2v1.2h-1.2zM435.1 363.2h1.2v1.2h-1.2zM421.6 389.0h1.2v1.2h-1.2zM407.9 395.9h1.2v1.2h-1.2zM430.6 356.5h1.2v1.2h-1.2zM436.6 342.1h1.2v1.2h-1.2zM433.7 368.4h1.2v1.2h-1.2zM421.5 390.5h1.2v1.2h-1.2zM436.7 354.1h1.2v1.2h-1.2zM418.8 390.6h1.2v1.2h-1.2zM434.9 361.8h1.2v1.2h-1.2zM409.2 395.8h1.2v1.2h-1.2zM433.6 371.1h1.2v1.2h-1.2zM432.5 343.1h1.2v1.2h-1.2zM438.0 357.3h1.2v1.2h-1.2zM436.6 367.5h1.2v1.2h-1.2zM435.6 373.6h1.2v1.2h-1.2zM440.4 316.2h1.2v1.2h-1.2zM436.7 323.9h1.2v1.2h-1.2zM416.1 391.9h1.2v1.2h-1.2zM411.6 394.3h1.2v1.2h-1.2zM430.0 376.9h1.2v1.2h-1.2zM433.7 346.5h1.2v1.2h-1.2zM430.6 368.6h1.2v1.2h-1.2zM419.8 390.3h1.2v1.2h-1.2zM432.7 371.8h1.2v1.2h-1.2zM432.9 351.7h1.2v1.2h-1.2zM429.5 376.8h1.2v1.2h-1.2zM417.7 390.7h1.2v1.2h-1.2zM432.3 371.9h1.2v1.2h-1.2zM427.3 318.5h1.2v1.2h-1.2zM410.4 396.4h1.2v1.2h-1.2zM424.9 385.0h1.2v1.2h-1.2zM420.5 388.7h1.2v1.2h-1.2zM438.0 347.2h1.2v1.2h-1.2zM410.8 395.7h1.2v1.2h-1.2zM425.6 320.2h1.2v1.2h-1.2zM432.1 368.8h1.2v1.2h-1.2zM435.2 332.4h1.2v1.2h-1.2zM432.7 301.6h1.2v1.2h-1.2zM435.0 349.6h1.2v1.2h-1.2zM433.0 365.1h1.2v1.2h-1.2zM420.2 388.6h1.2v1.2h-1.2zM432.9 369.4h1.2v1.2h-1.2zM435.7 296.9h1.2v1.2h-1.2zM439.9 341.4h1.2v1.2h-1.2zM436.9 341.2h1.2v1.2h-1.2zM406.8 398.6h1.2v1.2h-1.2zM430.3 382.4h1.2v1.2h-1.2zM436.6 313.1h1.2v1.2h-1.2zM432.8 373.0h1.2v1.2h-1.2zM430.7 326.1h1.2v1.2h-1.2zM435.3 365.8h1.2v1.2h-1.2zM442.5 336.5h1.2v1.2h-1.2zM418.9 391.3h1.2v1.2h-1.2zM434.3 332.9h1.2v1.2h-1.2zM433.4 307.0h1.2v1.2h-1.2zM409.3 395.4h1.2v1.2h-1.2zM424.0 389.9h1.2v1.2h-1.2zM433.8 301.8h1.2v1.2h-1.2zM430.0 317.0h1.2v1.2h-1.2zM437.9 332.3h1.2v1.2h-1.2zM435.2 352.0h1.2v1.2h-1.2zM423.4 388.8h1.2v1.2h-1.2zM433.2 321.5h1.2v1.2h-1.2zM426.0 384.3h1.2v1.2h-1.2zM443.4 359.8h1.2v1.2h-1.2zM428.0 307.5h1.2v1.2h-1.2zM424.8 311.2h1.2v1.2h-1.2zM433.0 362.7h1.2v1.2h-1.2zM424.3 387.9h1.2v1.2h-1.2zM430.7 372.4h1.2v1.2h-1.2zM435.0 345.0h1.2v1.2h-1.2zM433.4 373.2h1.2v1.2h-1.2zM412.8 392.5h1.2v1.2h-1.2zM436.5 369.1h1.2v1.2h-1.2zM437.0 368.1h1.2v1.2h-1.2zM437.2 345.4h1.2v1.2h-1.2zM429.6 379.9h1.2v1.2h-1.2zM424.9 314.9h1.2v1.2h-1.2zM426.5 386.6h1.2v1.2h-1.2zM431.5 309.5h1.2v1.2h-1.2zM424.4 386.9h1.2v1.2h-1.2zM440.3 359.4h1.2v1.2h-1.2zM437.6 327.8h1.2v1.2h-1.2zM430.3 365.1h1.2v1.2h-1.2zM424.9 313.1h1.2v1.2h-1.2zM407.5 396.4h1.2v1.2h-1.2zM423.5 388.5h1.2v1.2h-1.2zM438.1 344.2h1.2v1.2h-1.2zM427.9 308.9h1.2v1.2h-1.2zM447.1 342.7h1.2v1.2h-1.2zM434.7 366.8h1.2v1.2h-1.2zM420.0 390.2h1.2v1.2h-1.2zM421.6 386.7h1.2v1.2h-1.2zM415.8 393.1h1.2v1.2h-1.2zM440.7 356.2h1.2v1.2h-1.2zM421.7 387.0h1.2v1.2h-1.2zM443.9 344.0h1.2v1.2h-1.2zM433.2 333.2h1.2v1.2h-1.2zM429.7 298.7h1.2v1.2h-1.2zM441.2 293.0h1.2v1.2h-1.2zM435.6 329.0h1.2v1.2h-1.2zM438.8 337.1h1.2v1.2h-1.2zM440.8 352.4h1.2v1.2h-1.2zM434.7 375.9h1.2v1.2h-1.2zM436.6 342.5h1.2v1.2h-1.2zM419.1 385.4h1.2v1.2h-1.2zM436.9 354.0h1.2v1.2h-1.2zM433.0 343.7h1.2v1.2h-1.2zM434.8 357.9h1.2v1.2h-1.2zM435.2 339.6h1.2v1.2h-1.2zM416.2 395.8h1.2v1.2h-1.2zM446.5 349.7h1.2v1.2h-1.2zM428.1 329.5h1.2v1.2h-1.2zM436.5 350.3h1.2v1.2h-1.2zM431.6 327.2h1.2v1.2h-1.2zM437.1 352.8h1.2v1.2h-1.2zM432.3 378.8h1.2v1.2h-1.2zM438.8 358.0h1.2v1.2h-1.2zM428.5 318.8h1.2v1.2h-1.2zM428.7 369.2h1.2v1.2h-1.2zM439.4 309.3h1.2v1.2h-1.2zM424.3 387.0h1.2v1.2h-1.2zM428.9 300.8h1.2v1.2h-1.2zM428.9 372.5h1.2v1.2h-1.2zM433.6 371.8h1.2v1.2h-1.2zM437.2 371.8h1.2v1.2h-1.2zM437.2 327.0h1.2v1.2h-1.2zM441.0 326.5h1.2v1.2h-1.2zM439.1 350.5h1.2v1.2h-1.2zM431.5 353.2h1.2v1.2h-1.2zM428.0 372.1h1.2v1.2h-1.2zM437.6 347.0h1.2v1.2h-1.2zM436.2 342.6h1.2v1.2h-1.2zM429.0 380.4h1.2v1.2h-1.2zM434.4 342.0h1.2v1.2h-1.2zM411.4 395.4h1.2v1.2h-1.2zM419.2 388.0h1.2v1.2h-1.2zM439.1 361.0h1.2v1.2h-1.2zM429.1 320.5h1.2v1.2h-1.2zM429.5 331.2h1.2v1.2h-1.2zM436.5 362.5h1.2v1.2h-1.2zM437.4 359.1h1.2v1.2h-1.2zM442.6 341.7h1.2v1.2h-1.2zM415.6 393.3h1.2v1.2h-1.2zM410.1 396.3h1.2v1.2h-1.2zM437.7 358.6h1.2v1.2h-1.2zM439.2 346.5h1.2v1.2h-1.2zM408.2 395.8h1.2v1.2h-1.2zM429.2 297.7h1.2v1.2h-1.2zM421.8 387.2h1.2v1.2h-1.2zM429.6 377.4h1.2v1.2h-1.2zM437.7 341.7h1.2v1.2h-1.2zM436.3 318.1h1.2v1.2h-1.2zM435.1 365.6h1.2v1.2h-1.2zM431.6 371.5h1.2v1.2h-1.2zM430.1 294.8h1.2v1.2h-1.2zM430.8 329.8h1.2v1.2h-1.2zM436.7 320.6h1.2v1.2h-1.2zM446.4 357.6h1.2v1.2h-1.2zM438.5 345.0h1.2v1.2h-1.2zM431.5 309.2h1.2v1.2h-1.2zM428.3 311.1h1.2v1.2h-1.2zM433.9 367.1h1.2v1.2h-1.2zM426.2 374.0h1.2v1.2h-1.2zM441.3 338.6h1.2v1.2h-1.2zM440.3 356.8h1.2v1.2h-1.2zM429.6 379.9h1.2v1.2h-1.2zM429.5 385.3h1.2v1.2h-1.2zM437.7 313.2h1.2v1.2h-1.2zM440.3 332.8h1.2v1.2h-1.2zM436.7 363.6h1.2v1.2h-1.2zM435.1 363.7h1.2v1.2h-1.2zM427.0 383.2h1.2v1.2h-1.2zM437.3 351.3h1.2v1.2h-1.2zM434.5 376.2h1.2v1.2h-1.2zM437.9 367.1h1.2v1.2h-1.2zM432.8 371.2h1.2v1.2h-1.2zM434.4 343.3h1.2v1.2h-1.2zM421.5 386.4h1.2v1.2h-1.2zM427.0 383.6h1.2v1.2h-1.2zM434.7 379.9h1.2v1.2h-1.2zM427.0 310.6h1.2v1.2h-1.2zM431.2 345.2h1.2v1.2h-1.2zM436.0 366.7h1.2v1.2h-1.2zM429.6 380.1h1.2v1.2h-1.2zM419.6 392.3h1.2v1.2h-1.2zM443.6 341.5h1.2v1.2h-1.2zM434.8 355.6h1.2v1.2h-1.2zM422.7 386.0h1.2v1.2h-1.2zM431.5 383.7h1.2v1.2h-1.2zM435.5 354.0h1.2v1.2h-1.2zM423.5 385.4h1.2v1.2h-1.2zM432.1 371.4h1.2v1.2h-1.2zM433.8 352.0h1.2v1.2h-1.2zM428.6 318.5h1.2v1.2h-1.2zM441.4 334.7h1.2v1.2h-1.2zM435.4 319.2h1.2v1.2h-1.2zM431.1 354.2h1.2v1.2h-1.2zM415.3 392.9h1.2v1.2h-1.2zM418.9 388.4h1.2v1.2h-1.2zM431.4 378.7h1.2v1.2h-1.2zM424.8 300.1h1.2v1.2h-1.2zM437.4 292.8h1.2v1.2h-1.2zM433.7 316.4h1.2v1.2h-1.2zM432.7 360.3h1.2v1.2h-1.2zM433.5 379.8h1.2v1.2h-1.2zM440.8 355.3h1.2v1.2h-1.2zM419.3 392.0h1.2v1.2h-1.2zM438.6 368.5h1.2v1.2h-1.2zM441.9 332.9h1.2v1.2h-1.2zM439.0 365.4h1.2v1.2h-1.2zM438.8 354.4h1.2v1.2h-1.2zM432.7 371.9h1.2v1.2h-1.2zM437.0 361.7h1.2v1.2h-1.2zM430.6 303.1h1.2v1.2h-1.2zM417.6 393.4h1.2v1.2h-1.2zM435.8 363.6h1.2v1.2h-1.2zM441.6 355.0h1.2v1.2h-1.2zM431.3 307.2h1.2v1.2h-1.2zM425.7 312.9h1.2v1.2h-1.2zM437.3 364.0h1.2v1.2h-1.2zM431.5 344.5h1.2v1.2h-1.2zM439.1 365.2h1.2v1.2h-1.2zM429.5 312.6h1.2v1.2h-1.2zM420.3 388.8h1.2v1.2h-1.2zM417.0 392.9h1.2v1.2h-1.2zM426.6 304.1h1.2v1.2h-1.2zM435.8 371.9h1.2v1.2h-1.2zM427.0 385.2h1.2v1.2h-1.2zM429.8 376.7h1.2v1.2h-1.2zM415.6 392.3h1.2v1.2h-1.2zM423.4 384.0h1.2v1.2h-1.2zM431.9 359.7h1.2v1.2h-1.2zM431.9 377.4h1.2v1.2h-1.2zM431.9 348.3h1.2v1.2h-1.2zM424.2 382.1h1.2v1.2h-1.2zM433.7 329.1h1.2v1.2h-1.2zM430.3 315.3h1.2v1.2h-1.2zM436.4 313.4h1.2v1.2h-1.2zM427.3 319.6h1.2v1.2h-1.2zM423.6 386.3h1.2v1.2h-1.2zM430.8 373.0h1.2v1.2h-1.2zM437.4 346.1h1.2v1.2h-1.2zM427.9 297.5h1.2v1.2h-1.2zM433.4 351.0h1.2v1.2h-1.2zM426.5 375.3h1.2v1.2h-1.2zM435.9 365.8h1.2v1.2h-1.2zM432.4 327.6h1.2v1.2h-1.2zM436.9 332.1h1.2v1.2h-1.2zM431.7 376.1h1.2v1.2h-1.2zM441.5 318.5h1.2v1.2h-1.2zM428.9 309.6h1.2v1.2h-1.2zM440.7 349.6h1.2v1.2h-1.2zM434.4 369.5h1.2v1.2h-1.2zM434.2 339.1h1.2v1.2h-1.2zM419.9 390.2h1.2v1.2h-1.2zM414.6 391.9h1.2v1.2h-1.2zM433.1 370.1h1.2v1.2h-1.2zM441.5 326.3h1.2v1.2h-1.2zM422.9 380.1h1.2v1.2h-1.2zM435.0 326.3h1.2v1.2h-1.2zM437.1 311.2h1.2v1.2h-1.2zM435.0 345.3h1.2v1.2h-1.2zM438.7 362.5h1.2v1.2h-1.2zM426.0 380.4h1.2v1.2h-1.2zM438.1 346.1h1.2v1.2h-1.2zM441.0 360.2h1.2v1.2h-1.2zM432.8 363.4h1.2v1.2h-1.2zM439.3 332.0h1.2v1.2h-1.2zM431.7 367.7h1.2v1.2h-1.2zM414.9 393.6h1.2v1.2h-1.2zM438.6 338.6h1.2v1.2h-1.2zM440.7 315.7h1.2v1.2h-1.2zM427.8 308.9h1.2v1.2h-1.2zM435.0 342.2h1.2v1.2h-1.2zM411.1 396.6h1.2v1.2h-1.2zM428.3 383.9h1.2v1.2h-1.2zM415.1 393.0h1.2v1.2h-1.2zM429.6 353.8h1.2v1.2h-1.2zM439.6 356.6h1.2v1.2h-1.2zM438.0 320.5h1.2v1.2h-1.2zM425.6 379.4h1.2v1.2h-1.2zM424.8 382.2h1.2v1.2h-1.2zM415.1 393.6h1.2v1.2h-1.2zM444.8 354.6h1.2v1.2h-1.2zM438.3 370.0h1.2v1.2h-1.2zM436.5 339.9h1.2v1.2h-1.2zM440.8 350.7h1.2v1.2h-1.2zM435.1 332.7h1.2v1.2h-1.2zM441.7 347.1h1.2v1.2h-1.2zM436.2 358.5h1.2v1.2h-1.2zM426.2 307.8h1.2v1.2h-1.2zM407.9 396.1h1.2v1.2h-1.2zM415.6 392.9h1.2v1.2h-1.2zM418.0 393.5h1.2v1.2h-1.2zM423.2 385.3h1.2v1.2h-1.2zM433.7 355.1h1.2v1.2h-1.2zM432.2 359.6h1.2v1.2h-1.2zM441.9 302.6h1.2v1.2h-1.2zM428.8 308.5h1.2v1.2h-1.2zM434.6 372.5h1.2v1.2h-1.2zM427.1 385.9h1.2v1.2h-1.2zM428.5 303.6h1.2v1.2h-1.2zM433.0 358.2h1.2v1.2h-1.2zM440.6 349.8h1.2v1.2h-1.2zM435.2 355.1h1.2v1.2h-1.2zM431.4 378.5h1.2v1.2h-1.2zM425.3 383.7h1.2v1.2h-1.2zM438.0 345.0h1.2v1.2h-1.2zM432.4 315.3h1.2v1.2h-1.2zM434.5 371.2h1.2v1.2h-1.2zM445.2 336.1h1.2v1.2h-1.2zM428.3 378.0h1.2v1.2h-1.2zM430.9 369.0h1.2v1.2h-1.2zM436.3 362.9h1.2v1.2h-1.2zM431.0 375.6h1.2v1.2h-1.2zM436.0 364.6h1.2v1.2h-1.2zM439.1 354.4h1.2v1.2h-1.2zM441.1 334.8h1.2v1.2h-1.2zM415.2 394.2h1.2v1.2h-1.2zM415.8 392.7h1.2v1.2h-1.2zM435.8 375.6h1.2v1.2h-1.2zM440.0 314.8h1.2v1.2h-1.2zM431.2 380.1h1.2v1.2h-1.2zM443.3 354.1h1.2v1.2h-1.2zM430.0 383.2h1.2v1.2h-1.2zM433.0 342.2h1.2v1.2h-1.2zM411.5 395.4h1.2v1.2h-1.2zM408.7 396.8h1.2v1.2h-1.2zM433.2 326.8h1.2v1.2h-1.2zM430.6 371.3h1.2v1.2h-1.2zM421.2 386.2h1.2v1.2h-1.2zM437.4 366.4h1.2v1.2h-1.2zM425.6 311.4h1.2v1.2h-1.2zM436.3 365.1h1.2v1.2h-1.2zM428.6 320.6h1.2v1.2h-1.2zM438.8 361.7h1.2v1.2h-1.2zM434.2 371.5h1.2v1.2h-1.2zM434.0 315.9h1.2v1.2h-1.2zM426.8 380.0h1.2v1.2h-1.2zM430.9 368.4h1.2v1.2h-1.2zM433.3 323.2h1.2v1.2h-1.2zM434.8 331.1h1.2v1.2h-1.2zM422.8 387.7h1.2v1.2h-1.2zM433.7 356.5h1.2v1.2h-1.2zM423.3 385.5h1.2v1.2h-1.2zM439.3 352.3h1.2v1.2h-1.2zM433.7 368.9h1.2v1.2h-1.2zM436.2 365.9h1.2v1.2h-1.2zM434.4 377.1h1.2v1.2h-1.2zM413.1 394.7h1.2v1.2h-1.2zM432.5 375.3h1.2v1.2h-1.2zM442.1 357.9h1.2v1.2h-1.2zM423.1 387.2h1.2v1.2h-1.2zM433.1 353.4h1.2v1.2h-1.2zM432.5 371.6h1.2v1.2h-1.2zM431.9 305.6h1.2v1.2h-1.2zM440.6 356.1h1.2v1.2h-1.2zM430.3 382.1h1.2v1.2h-1.2zM428.2 380.6h1.2v1.2h-1.2zM434.7 324.9h1.2v1.2h-1.2zM432.4 381.0h1.2v1.2h-1.2zM445.8 343.1h1.2v1.2h-1.2zM420.0 390.6h1.2v1.2h-1.2zM430.2 379.3h1.2v1.2h-1.2zM435.2 344.5h1.2v1.2h-1.2zM411.6 392.9h1.2v1.2h-1.2zM439.1 354.9h1.2v1.2h-1.2zM416.3 393.0h1.2v1.2h-1.2zM431.0 372.4h1.2v1.2h-1.2zM434.8 302.8h1.2v1.2h-1.2zM441.3 344.4h1.2v1.2h-1.2zM438.6 357.0h1.2v1.2h-1.2zM432.6 366.7h1.2v1.2h-1.2zM427.9 382.6h1.2v1.2h-1.2zM437.0 340.7h1.2v1.2h-1.2zM415.5 394.1h1.2v1.2h-1.2zM413.1 396.2h1.2v1.2h-1.2zM436.9 360.1h1.2v1.2h-1.2zM441.6 363.6h1.2v1.2h-1.2zM415.5 394.9h1.2v1.2h-1.2zM433.7 365.9h1.2v1.2h-1.2zM438.1 336.0h1.2v1.2h-1.2zM425.3 382.2h1.2v1.2h-1.2zM428.9 379.4h1.2v1.2h-1.2zM441.1 339.3h1.2v1.2h-1.2zM440.6 344.3h1.2v1.2h-1.2zM436.1 365.7h1.2v1.2h-1.2zM432.0 380.6h1.2v1.2h-1.2zM430.6 378.6h1.2v1.2h-1.2zM432.5 328.1h1.2v1.2h-1.2zM435.4 335.3h1.2v1.2h-1.2zM441.4 323.1h1.2v1.2h-1.2zM430.5 378.7h1.2v1.2h-1.2zM409.7 396.1h1.2v1.2h-1.2zM437.1 348.1h1.2v1.2h-1.2zM429.3 381.6h1.2v1.2h-1.2zM436.6 327.7h1.2v1.2h-1.2zM434.1 363.5h1.2v1.2h-1.2zM430.6 371.6h1.2v1.2h-1.2zM428.7 386.7h1.2v1.2h-1.2zM425.3 306.1h1.2v1.2h-1.2zM417.4 389.3h1.2v1.2h-1.2zM433.0 377.6h1.2v1.2h-1.2zM414.5 393.4h1.2v1.2h-1.2zM427.0 383.5h1.2v1.2h-1.2zM437.7 359.2h1.2v1.2h-1.2zM430.5 382.6h1.2v1.2h-1.2zM413.5 394.4h1.2v1.2h-1.2zM433.7 316.3h1.2v1.2h-1.2zM428.1 380.3h1.2v1.2h-1.2zM421.1 388.1h1.2v1.2h-1.2zM436.5 347.9h1.2v1.2h-1.2zM431.0 347.0h1.2v1.2h-1.2zM429.2 334.9h1.2v1.2h-1.2zM436.5 355.3h1.2v1.2h-1.2zM432.6 353.2h1.2v1.2h-1.2zM425.5 316.3h1.2v1.2h-1.2zM423.9 308.0h1.2v1.2h-1.2zM427.9 382.3h1.2v1.2h-1.2zM433.8 370.6h1.2v1.2h-1.2zM441.9 331.3h1.2v1.2h-1.2zM439.1 358.5h1.2v1.2h-1.2zM435.6 299.5h1.2v1.2h-1.2zM414.1 394.2h1.2v1.2h-1.2zM445.6 330.5h1.2v1.2h-1.2zM428.2 307.3h1.2v1.2h-1.2zM418.1 393.3h1.2v1.2h-1.2zM431.7 336.8h1.2v1.2h-1.2zM439.1 343.7h1.2v1.2h-1.2zM430.1 369.6h1.2v1.2h-1.2zM426.8 375.3h1.2v1.2h-1.2zM427.0 383.5h1.2v1.2h-1.2zM430.3 310.9h1.2v1.2h-1.2zM434.0 367.8h1.2v1.2h-1.2zM435.9 361.8h1.2v1.2h-1.2zM438.3 307.6h1.2v1.2h-1.2zM435.7 344.3h1.2v1.2h-1.2zM407.9 397.1h1.2v1.2h-1.2zM439.5 344.5h1.2v1.2h-1.2zM434.0 355.0h1.2v1.2h-1.2zM435.4 367.2h1.2v1.2h-1.2zM437.4 358.7h1.2v1.2h-1.2zM436.7 348.1h1.2v1.2h-1.2zM430.6 375.3h1.2v1.2h-1.2zM427.1 325.0h1.2v1.2h-1.2zM438.3 311.6h1.2v1.2h-1.2zM437.0 355.5h1.2v1.2h-1.2zM426.1 384.8h1.2v1.2h-1.2zM431.6 325.3h1.2v1.2h-1.2zM432.0 325.0h1.2v1.2h-1.2zM405.8 397.2h1.2v1.2h-1.2zM427.3 386.0h1.2v1.2h-1.2zM431.7 339.8h1.2v1.2h-1.2zM415.1 393.4h1.2v1.2h-1.2zM441.2 348.2h1.2v1.2h-1.2zM434.4 364.3h1.2v1.2h-1.2zM429.4 379.6h1.2v1.2h-1.2zM423.0 298.0h1.2v1.2h-1.2zM431.9 374.0h1.2v1.2h-1.2zM437.9 318.1h1.2v1.2h-1.2zM437.4 345.0h1.2v1.2h-1.2zM427.0 383.8h1.2v1.2h-1.2zM443.3 309.4h1.2v1.2h-1.2zM439.0 338.3h1.2v1.2h-1.2zM440.1 333.4h1.2v1.2h-1.2zM416.9 390.9h1.2v1.2h-1.2zM436.0 369.7h1.2v1.2h-1.2zM411.4 394.3h1.2v1.2h-1.2zM415.7 394.3h1.2v1.2h-1.2zM433.8 373.1h1.2v1.2h-1.2zM440.2 341.5h1.2v1.2h-1.2zM426.8 364.4h1.2v1.2h-1.2zM432.1 344.5h1.2v1.2h-1.2zM431.6 363.9h1.2v1.2h-1.2zM431.7 360.7h1.2v1.2h-1.2zM428.7 382.9h1.2v1.2h-1.2zM438.2 337.3h1.2v1.2h-1.2zM433.8 361.0h1.2v1.2h-1.2zM441.4 350.4h1.2v1.2h-1.2zM425.8 386.4h1.2v1.2h-1.2zM438.1 362.8h1.2v1.2h-1.2zM426.7 378.6h1.2v1.2h-1.2zM438.5 301.8h1.2v1.2h-1.2zM436.7 358.0h1.2v1.2h-1.2zM432.4 330.7h1.2v1.2h-1.2zM437.2 345.6h1.2v1.2h-1.2zM409.4 395.5h1.2v1.2h-1.2zM438.7 354.5h1.2v1.2h-1.2zM428.2 384.6h1.2v1.2h-1.2zM435.5 316.6h1.2v1.2h-1.2zM430.2 300.5h1.2v1.2h-1.2zM440.5 331.0h1.2v1.2h-1.2zM435.6 327.7h1.2v1.2h-1.2zM439.7 324.4h1.2v1.2h-1.2zM424.6 327.9h1.2v1.2h-1.2zM425.9 333.9h1.2v1.2h-1.2zM422.5 335.7h1.2v1.2h-1.2zM421.1 321.0h1.2v1.2h-1.2zM421.9 336.6h1.2v1.2h-1.2zM417.3 333.1h1.2v1.2h-1.2zM440.7 333.5h1.2v1.2h-1.2zM431.2 332.4h1.2v1.2h-1.2zM441.3 336.9h1.2v1.2h-1.2zM417.6 326.7h1.2v1.2h-1.2zM431.2 330.5h1.2v1.2h-1.2zM428.0 313.0h1.2v1.2h-1.2zM441.9 292.2h1.2v1.2h-1.2zM418.9 300.1h1.2v1.2h-1.2zM430.8 335.6h1.2v1.2h-1.2zM430.3 309.1h1.2v1.2h-1.2zM414.5 334.9h1.2v1.2h-1.2zM426.9 332.4h1.2v1.2h-1.2zM424.1 316.9h1.2v1.2h-1.2zM421.6 335.8h1.2v1.2h-1.2zM415.7 323.3h1.2v1.2h-1.2zM437.4 335.7h1.2v1.2h-1.2zM422.0 312.7h1.2v1.2h-1.2zM439.2 326.3h1.2v1.2h-1.2zM422.6 293.4h1.2v1.2h-1.2zM438.3 327.8h1.2v1.2h-1.2zM443.2 297.5h1.2v1.2h-1.2zM427.8 322.7h1.2v1.2h-1.2zM438.4 336.0h1.2v1.2h-1.2zM420.9 326.7h1.2v1.2h-1.2zM417.6 325.9h1.2v1.2h-1.2zM434.8 318.5h1.2v1.2h-1.2zM429.7 336.2h1.2v1.2h-1.2zM437.6 321.5h1.2v1.2h-1.2zM429.1 331.2h1.2v1.2h-1.2zM441.5 329.6h1.2v1.2h-1.2zM425.5 326.0h1.2v1.2h-1.2zM425.1 327.0h1.2v1.2h-1.2zM435.4 321.3h1.2v1.2h-1.2zM441.9 331.8h1.2v1.2h-1.2zM427.7 285.9h1.2v1.2h-1.2zM420.4 330.3h1.2v1.2h-1.2zM436.6 329.5h1.2v1.2h-1.2zM424.2 312.6h1.2v1.2h-1.2zM417.5 336.1h1.2v1.2h-1.2zM429.6 336.9h1.2v1.2h-1.2zM421.6 334.8h1.2v1.2h-1.2zM420.2 309.5h1.2v1.2h-1.2zM433.3 304.4h1.2v1.2h-1.2zM424.5 334.7h1.2v1.2h-1.2zM415.8 337.3h1.2v1.2h-1.2zM422.1 332.6h1.2v1.2h-1.2zM425.3 329.3h1.2v1.2h-1.2zM417.2 335.2h1.2v1.2h-1.2zM433.2 328.1h1.2v1.2h-1.2zM418.0 317.8h1.2v1.2h-1.2zM425.4 331.6h1.2v1.2h-1.2zM427.2 289.8h1.2v1.2h-1.2zM442.1 296.2h1.2v1.2h-1.2zM416.5 335.0h1.2v1.2h-1.2zM415.3 333.7h1.2v1.2h-1.2zM422.8 327.7h1.2v1.2h-1.2zM441.5 337.4h1.2v1.2h-1.2zM427.0 329.9h1.2v1.2h-1.2zM438.3 310.6h1.2v1.2h-1.2zM417.7 318.2h1.2v1.2h-1.2zM437.2 306.0h1.2v1.2h-1.2zM436.9 285.2h1.2v1.2h-1.2zM441.7 334.8h1.2v1.2h-1.2zM421.8 312.1h1.2v1.2h-1.2zM420.4 308.9h1.2v1.2h-1.2zM441.9 336.7h1.2v1.2h-1.2zM441.7 301.1h1.2v1.2h-1.2zM428.1 334.4h1.2v1.2h-1.2zM439.2 331.2h1.2v1.2h-1.2zM436.8 321.4h1.2v1.2h-1.2zM429.9 328.6h1.2v1.2h-1.2zM426.7 326.2h1.2v1.2h-1.2zM419.9 292.2h1.2v1.2h-1.2zM432.7 324.1h1.2v1.2h-1.2zM435.0 335.3h1.2v1.2h-1.2zM430.4 337.5h1.2v1.2h-1.2zM435.0 331.0h1.2v1.2h-1.2zM427.1 336.2h1.2v1.2h-1.2zM419.9 334.8h1.2v1.2h-1.2zM441.8 302.8h1.2v1.2h-1.2zM415.1 337.0h1.2v1.2h-1.2zM420.9 333.9h1.2v1.2h-1.2zM419.1 333.4h1.2v1.2h-1.2zM431.0 336.5h1.2v1.2h-1.2zM426.7 326.6h1.2v1.2h-1.2zM431.8 306.7h1.2v1.2h-1.2zM429.1 307.7h1.2v1.2h-1.2zM430.9 332.1h1.2v1.2h-1.2zM419.0 319.0h1.2v1.2h-1.2zM428.0 298.1h1.2v1.2h-1.2zM429.1 334.0h1.2v1.2h-1.2zM430.9 336.9h1.2v1.2h-1.2zM425.8 332.1h1.2v1.2h-1.2zM414.4 335.1h1.2v1.2h-1.2zM433.4 323.7h1.2v1.2h-1.2zM429.1 317.4h1.2v1.2h-1.2zM440.8 328.5h1.2v1.2h-1.2zM425.5 315.0h1.2v1.2h-1.2zM433.0 335.2h1.2v1.2h-1.2zM416.9 320.2h1.2v1.2h-1.2zM433.1 333.0h1.2v1.2h-1.2zM415.1 331.8h1.2v1.2h-1.2zM431.9 313.2h1.2v1.2h-1.2zM431.5 325.7h1.2v1.2h-1.2zM434.1 337.3h1.2v1.2h-1.2zM431.8 286.3h1.2v1.2h-1.2zM429.5 307.5h1.2v1.2h-1.2zM416.4 335.0h1.2v1.2h-1.2zM420.3 335.6h1.2v1.2h-1.2zM436.5 314.1h1.2v1.2h-1.2zM440.6 329.6h1.2v1.2h-1.2zM422.8 334.5h1.2v1.2h-1.2zM428.7 331.6h1.2v1.2h-1.2zM424.0 315.4h1.2v1.2h-1.2zM421.6 327.1h1.2v1.2h-1.2zM436.2 333.8h1.2v1.2h-1.2zM437.6 335.4h1.2v1.2h-1.2zM431.0 330.3h1.2v1.2h-1.2zM438.0 322.4h1.2v1.2h-1.2zM414.4 324.1h1.2v1.2h-1.2zM439.1 322.2h1.2v1.2h-1.2zM416.6 325.7h1.2v1.2h-1.2zM413.5 335.4h1.2v1.2h-1.2zM416.8 328.3h1.2v1.2h-1.2zM420.5 332.2h1.2v1.2h-1.2zM428.9 335.0h1.2v1.2h-1.2zM414.8 332.4h1.2v1.2h-1.2zM439.2 322.4h1.2v1.2h-1.2zM428.7 305.2h1.2v1.2h-1.2zM441.2 325.2h1.2v1.2h-1.2zM433.9 334.8h1.2v1.2h-1.2zM423.6 311.5h1.2v1.2h-1.2zM419.0 333.3h1.2v1.2h-1.2zM436.7 312.5h1.2v1.2h-1.2zM429.9 335.7h1.2v1.2h-1.2zM416.2 327.9h1.2v1.2h-1.2zM421.2 326.3h1.2v1.2h-1.2zM416.7 333.0h1.2v1.2h-1.2zM430.3 331.5h1.2v1.2h-1.2zM438.6 324.8h1.2v1.2h-1.2zM423.8 331.3h1.2v1.2h-1.2zM414.0 331.1h1.2v1.2h-1.2zM440.6 334.4h1.2v1.2h-1.2zM437.7 308.4h1.2v1.2h-1.2zM418.3 312.5h1.2v1.2h-1.2zM423.6 317.9h1.2v1.2h-1.2zM424.2 332.7h1.2v1.2h-1.2zM441.0 320.4h1.2v1.2h-1.2zM413.8 336.0h1.2v1.2h-1.2zM441.9 307.5h1.2v1.2h-1.2zM431.1 330.9h1.2v1.2h-1.2zM426.8 315.8h1.2v1.2h-1.2zM426.7 317.8h1.2v1.2h-1.2zM432.6 336.3h1.2v1.2h-1.2zM427.5 282.3h1.2v1.2h-1.2zM423.4 320.4h1.2v1.2h-1.2zM435.9 329.6h1.2v1.2h-1.2zM422.6 331.1h1.2v1.2h-1.2zM436.6 332.2h1.2v1.2h-1.2zM423.8 323.1h1.2v1.2h-1.2zM433.0 333.9h1.2v1.2h-1.2zM413.7 325.9h1.2v1.2h-1.2zM428.9 336.3h1.2v1.2h-1.2zM425.9 332.3h1.2v1.2h-1.2zM436.0 334.3h1.2v1.2h-1.2zM430.7 329.6h1.2v1.2h-1.2zM435.5 288.5h1.2v1.2h-1.2zM418.3 329.3h1.2v1.2h-1.2zM438.0 331.4h1.2v1.2h-1.2zM437.0 319.0h1.2v1.2h-1.2zM429.5 317.5h1.2v1.2h-1.2zM433.0 314.6h1.2v1.2h-1.2zM421.0 332.1h1.2v1.2h-1.2zM421.3 327.8h1.2v1.2h-1.2zM429.1 332.8h1.2v1.2h-1.2zM426.5 323.4h1.2v1.2h-1.2zM417.1 328.2h1.2v1.2h-1.2zM438.9 336.2h1.2v1.2h-1.2zM433.8 329.7h1.2v1.2h-1.2zM422.0 312.4h1.2v1.2h-1.2zM439.9 327.5h1.2v1.2h-1.2zM388.6 376.6h1.2v1.2h-1.2zM403.1 397.7h1.2v1.2h-1.2zM403.4 397.8h1.2v1.2h-1.2zM401.8 395.7h1.2v1.2h-1.2zM403.4 397.1h1.2v1.2h-1.2zM398.8 391.7h1.2v1.2h-1.2zM392.9 380.2h1.2v1.2h-1.2zM394.0 388.2h1.2v1.2h-1.2zM394.2 369.9h1.2v1.2h-1.2zM404.2 398.7h1.2v1.2h-1.2zM401.4 388.4h1.2v1.2h-1.2zM388.4 378.4h1.2v1.2h-1.2zM402.7 394.2h1.2v1.2h-1.2zM395.3 386.8h1.2v1.2h-1.2zM393.6 387.9h1.2v1.2h-1.2zM402.9 395.2h1.2v1.2h-1.2zM403.0 397.3h1.2v1.2h-1.2zM392.8 386.3h1.2v1.2h-1.2zM403.7 397.8h1.2v1.2h-1.2zM402.7 393.3h1.2v1.2h-1.2zM398.1 390.7h1.2v1.2h-1.2zM397.1 389.2h1.2v1.2h-1.2zM402.7 395.8h1.2v1.2h-1.2zM396.0 390.5h1.2v1.2h-1.2zM403.9 398.3h1.2v1.2h-1.2zM403.7 397.1h1.2v1.2h-1.2zM402.5 396.5h1.2v1.2h-1.2zM399.0 380.4h1.2v1.2h-1.2zM400.3 394.6h1.2v1.2h-1.2zM394.1 375.7h1.2v1.2h-1.2zM400.7 395.2h1.2v1.2h-1.2zM398.1 390.5h1.2v1.2h-1.2zM398.6 391.8h1.2v1.2h-1.2zM403.9 398.3h1.2v1.2h-1.2zM390.6 385.5h1.2v1.2h-1.2zM391.8 386.5h1.2v1.2h-1.2zM399.6 382.0h1.2v1.2h-1.2zM399.2 379.9h1.2v1.2h-1.2zM400.9 394.8h1.2v1.2h-1.2zM402.7 394.7h1.2v1.2h-1.2zM402.1 396.1h1.2v1.2h-1.2zM403.9 397.7h1.2v1.2h-1.2zM394.7 382.6h1.2v1.2h-1.2zM386.4 364.7h1.2v1.2h-1.2zM402.6 393.6h1.2v1.2h-1.2zM398.4 393.2h1.2v1.2h-1.2zM399.4 380.7h1.2v1.2h-1.2zM402.1 396.3h1.2v1.2h-1.2zM396.0 376.9h1.2v1.2h-1.2zM399.9 393.2h1.2v1.2h-1.2zM400.8 395.5h1.2v1.2h-1.2zM401.5 396.0h1.2v1.2h-1.2zM389.0 376.1h1.2v1.2h-1.2zM401.7 395.7h1.2v1.2h-1.2zM398.9 382.7h1.2v1.2h-1.2zM389.8 384.0h1.2v1.2h-1.2zM399.1 380.5h1.2v1.2h-1.2zM390.9 385.4h1.2v1.2h-1.2zM403.9 397.9h1.2v1.2h-1.2zM402.2 396.5h1.2v1.2h-1.2zM404.0 398.4h1.2v1.2h-1.2zM404.1 398.2h1.2v1.2h-1.2zM400.9 394.4h1.2v1.2h-1.2zM387.2 377.0h1.2v1.2h-1.2zM394.3 380.4h1.2v1.2h-1.2zM398.8 391.6h1.2v1.2h-1.2zM403.1 397.5h1.2v1.2h-1.2zM404.2 398.6h1.2v1.2h-1.2zM396.3 388.3h1.2v1.2h-1.2zM385.6 366.5h1.2v1.2h-1.2zM386.7 354.2h1.2v1.2h-1.2zM402.9 397.2h1.2v1.2h-1.2zM396.2 389.1h1.2v1.2h-1.2zM403.6 398.1h1.2v1.2h-1.2zM403.5 395.6h1.2v1.2h-1.2zM404.0 397.7h1.2v1.2h-1.2zM394.5 365.9h1.2v1.2h-1.2zM404.1 398.5h1.2v1.2h-1.2zM403.2 397.7h1.2v1.2h-1.2zM402.9 397.3h1.2v1.2h-1.2zM401.6 395.3h1.2v1.2h-1.2zM403.5 396.9h1.2v1.2h-1.2zM403.6 398.0h1.2v1.2h-1.2zM386.9 372.9h1.2v1.2h-1.2zM404.1 398.5h1.2v1.2h-1.2zM403.3 397.7h1.2v1.2h-1.2zM399.9 393.7h1.2v1.2h-1.2zM401.7 388.5h1.2v1.2h-1.2zM380.5 371.3h1.2v1.2h-1.2zM380.5 367.0h1.2v1.2h-1.2zM404.0 397.7h1.2v1.2h-1.2zM391.4 385.0h1.2v1.2h-1.2zM389.1 376.5h1.2v1.2h-1.2zM397.5 376.8h1.2v1.2h-1.2zM403.2 393.9h1.2v1.2h-1.2zM403.3 396.4h1.2v1.2h-1.2zM400.0 394.4h1.2v1.2h-1.2zM399.8 392.9h1.2v1.2h-1.2zM394.8 379.2h1.2v1.2h-1.2zM402.8 395.7h1.2v1.2h-1.2zM397.3 390.2h1.2v1.2h-1.2zM403.7 396.8h1.2v1.2h-1.2zM384.4 362.6h1.2v1.2h-1.2zM388.2 381.4h1.2v1.2h-1.2zM404.2 398.7h1.2v1.2h-1.2zM395.0 386.7h1.2v1.2h-1.2zM382.2 364.4h1.2v1.2h-1.2zM399.1 392.9h1.2v1.2h-1.2zM390.7 384.6h1.2v1.2h-1.2zM381.9 356.4h1.2v1.2h-1.2zM398.2 382.5h1.2v1.2h-1.2zM403.7 397.1h1.2v1.2h-1.2zM395.9 390.8h1.2v1.2h-1.2zM398.4 393.0h1.2v1.2h-1.2zM387.5 360.2h1.2v1.2h-1.2zM402.7 395.6h1.2v1.2h-1.2zM403.8 398.1h1.2v1.2h-1.2zM397.9 373.2h1.2v1.2h-1.2zM386.1 379.1h1.2v1.2h-1.2zM399.0 393.4h1.2v1.2h-1.2zM399.5 392.8h1.2v1.2h-1.2zM404.0 398.0h1.2v1.2h-1.2zM391.7 385.4h1.2v1.2h-1.2zM403.1 396.2h1.2v1.2h-1.2zM391.8 384.5h1.2v1.2h-1.2zM382.4 370.9h1.2v1.2h-1.2zM390.6 381.5h1.2v1.2h-1.2zM396.7 382.3h1.2v1.2h-1.2zM403.5 397.8h1.2v1.2h-1.2zM381.4 367.1h1.2v1.2h-1.2zM402.9 397.1h1.2v1.2h-1.2zM401.3 395.5h1.2v1.2h-1.2zM387.0 379.9h1.2v1.2h-1.2zM394.1 385.7h1.2v1.2h-1.2zM386.7 381.4h1.2v1.2h-1.2zM397.5 376.9h1.2v1.2h-1.2zM397.2 369.7h1.2v1.2h-1.2zM393.2 386.2h1.2v1.2h-1.2zM403.8 398.2h1.2v1.2h-1.2zM403.2 393.7h1.2v1.2h-1.2zM398.4 392.4h1.2v1.2h-1.2zM403.1 395.4h1.2v1.2h-1.2zM396.0 361.8h1.2v1.2h-1.2zM380.2 370.6h1.2v1.2h-1.2zM397.8 378.6h1.2v1.2h-1.2zM396.0 382.8h1.2v1.2h-1.2zM402.7 397.1h1.2v1.2h-1.2zM393.5 387.1h1.2v1.2h-1.2zM402.8 395.2h1.2v1.2h-1.2zM382.4 364.8h1.2v1.2h-1.2zM403.6 397.6h1.2v1.2h-1.2zM392.9 385.6h1.2v1.2h-1.2zM398.7 392.9h1.2v1.2h-1.2zM381.5 374.7h1.2v1.2h-1.2zM400.8 394.7h1.2v1.2h-1.2zM402.8 396.0h1.2v1.2h-1.2zM398.3 391.6h1.2v1.2h-1.2zM403.9 397.6h1.2v1.2h-1.2zM397.1 389.7h1.2v1.2h-1.2zM403.0 395.9h1.2v1.2h-1.2zM392.6 380.5h1.2v1.2h-1.2zM403.3 396.0h1.2v1.2h-1.2zM399.4 393.7h1.2v1.2h-1.2zM389.3 369.7h1.2v1.2h-1.2zM394.4 355.0h1.2v1.2h-1.2zM384.5 376.7h1.2v1.2h-1.2zM383.1 364.8h1.2v1.2h-1.2zM398.7 382.9h1.2v1.2h-1.2zM388.4 380.2h1.2v1.2h-1.2zM404.1 398.5h1.2v1.2h-1.2zM401.3 394.9h1.2v1.2h-1.2zM377.8 363.7h1.2v1.2h-1.2zM396.8 391.4h1.2v1.2h-1.2zM384.9 377.3h1.2v1.2h-1.2zM397.1 391.6h1.2v1.2h-1.2zM401.7 388.1h1.2v1.2h-1.2zM401.6 389.9h1.2v1.2h-1.2zM401.8 395.7h1.2v1.2h-1.2zM402.3 390.9h1.2v1.2h-1.2zM404.2 398.7h1.2v1.2h-1.2zM403.0 393.8h1.2v1.2h-1.2zM403.3 397.6h1.2v1.2h-1.2zM392.7 365.3h1.2v1.2h-1.2zM403.9 397.9h1.2v1.2h-1.2zM401.2 395.8h1.2v1.2h-1.2zM394.3 381.2h1.2v1.2h-1.2zM391.0 359.8h1.2v1.2h-1.2zM386.8 374.9h1.2v1.2h-1.2zM401.7 395.6h1.2v1.2h-1.2zM399.7 382.7h1.2v1.2h-1.2zM397.8 383.5h1.2v1.2h-1.2zM404.0 398.4h1.2v1.2h-1.2zM394.7 368.9h1.2v1.2h-1.2zM402.7 395.3h1.2v1.2h-1.2zM397.3 390.5h1.2v1.2h-1.2zM398.9 393.3h1.2v1.2h-1.2zM398.5 392.7h1.2v1.2h-1.2zM391.5 385.5h1.2v1.2h-1.2zM394.6 388.8h1.2v1.2h-1.2zM397.3 392.0h1.2v1.2h-1.2zM394.1 387.8h1.2v1.2h-1.2zM386.1 368.7h1.2v1.2h-1.2zM393.0 388.0h1.2v1.2h-1.2zM394.8 375.3h1.2v1.2h-1.2zM403.2 397.5h1.2v1.2h-1.2zM401.2 385.8h1.2v1.2h-1.2zM388.1 381.4h1.2v1.2h-1.2zM391.8 384.3h1.2v1.2h-1.2zM403.3 396.3h1.2v1.2h-1.2zM399.3 393.1h1.2v1.2h-1.2zM393.8 377.3h1.2v1.2h-1.2zM396.2 389.1h1.2v1.2h-1.2zM398.6 392.8h1.2v1.2h-1.2zM399.6 393.4h1.2v1.2h-1.2zM401.4 396.0h1.2v1.2h-1.2zM401.1 394.8h1.2v1.2h-1.2zM401.7 389.2h1.2v1.2h-1.2zM394.5 383.2h1.2v1.2h-1.2zM394.3 386.1h1.2v1.2h-1.2zM399.4 393.1h1.2v1.2h-1.2zM387.5 374.1h1.2v1.2h-1.2zM394.0 381.8h1.2v1.2h-1.2zM403.6 398.1h1.2v1.2h-1.2zM383.3 361.6h1.2v1.2h-1.2zM403.8 398.0h1.2v1.2h-1.2zM400.5 382.2h1.2v1.2h-1.2zM391.3 386.5h1.2v1.2h-1.2zM385.1 375.2h1.2v1.2h-1.2zM403.5 398.0h1.2v1.2h-1.2zM403.0 394.5h1.2v1.2h-1.2zM398.5 392.4h1.2v1.2h-1.2zM403.7 397.8h1.2v1.2h-1.2zM393.2 382.2h1.2v1.2h-1.2zM392.8 386.4h1.2v1.2h-1.2zM379.9 367.5h1.2v1.2h-1.2zM404.1 398.6h1.2v1.2h-1.2zM402.3 396.6h1.2v1.2h-1.2zM383.3 354.1h1.2v1.2h-1.2zM401.6 396.2h1.2v1.2h-1.2zM403.7 397.8h1.2v1.2h-1.2zM391.2 383.3h1.2v1.2h-1.2zM380.2 356.8h1.2v1.2h-1.2zM403.2 394.5h1.2v1.2h-1.2zM404.1 398.5h1.2v1.2h-1.2zM395.2 371.5h1.2v1.2h-1.2zM396.9 391.2h1.2v1.2h-1.2zM403.0 394.4h1.2v1.2h-1.2zM382.7 372.5h1.2v1.2h-1.2zM403.5 396.7h1.2v1.2h-1.2zM397.6 391.7h1.2v1.2h-1.2zM389.9 382.3h1.2v1.2h-1.2zM384.3 377.9h1.2v1.2h-1.2zM390.7 385.8h1.2v1.2h-1.2zM403.5 396.1h1.2v1.2h-1.2zM399.0 393.3h1.2v1.2h-1.2zM396.7 389.8h1.2v1.2h-1.2zM400.9 394.3h1.2v1.2h-1.2zM396.3 388.7h1.2v1.2h-1.2zM398.8 392.1h1.2v1.2h-1.2zM398.4 391.3h1.2v1.2h-1.2zM399.7 393.8h1.2v1.2h-1.2zM401.5 395.9h1.2v1.2h-1.2zM402.9 396.2h1.2v1.2h-1.2zM395.1 389.7h1.2v1.2h-1.2zM389.1 378.1h1.2v1.2h-1.2zM403.3 397.8h1.2v1.2h-1.2zM387.3 372.0h1.2v1.2h-1.2zM403.7 397.9h1.2v1.2h-1.2zM399.0 393.1h1.2v1.2h-1.2zM404.1 398.5h1.2v1.2h-1.2zM403.4 396.5h1.2v1.2h-1.2zM394.6 377.8h1.2v1.2h-1.2zM397.4 390.8h1.2v1.2h-1.2zM404.0 398.1h1.2v1.2h-1.2zM398.4 392.5h1.2v1.2h-1.2zM399.4 393.3h1.2v1.2h-1.2zM397.3 377.3h1.2v1.2h-1.2zM383.0 372.1h1.2v1.2h-1.2zM388.0 380.6h1.2v1.2h-1.2zM393.9 388.5h1.2v1.2h-1.2zM404.1 398.3h1.2v1.2h-1.2zM389.5 378.6h1.2v1.2h-1.2zM403.3 395.6h1.2v1.2h-1.2zM389.3 381.5h1.2v1.2h-1.2zM403.5 396.6h1.2v1.2h-1.2zM398.0 379.3h1.2v1.2h-1.2zM397.5 384.2h1.2v1.2h-1.2zM395.2 387.4h1.2v1.2h-1.2zM397.9 381.1h1.2v1.2h-1.2zM402.9 395.8h1.2v1.2h-1.2zM382.3 374.8h1.2v1.2h-1.2zM404.2 398.6h1.2v1.2h-1.2zM403.5 396.7h1.2v1.2h-1.2zM395.8 390.1h1.2v1.2h-1.2zM403.2 395.7h1.2v1.2h-1.2zM403.0 395.5h1.2v1.2h-1.2zM403.6 396.3h1.2v1.2h-1.2zM395.8 383.6h1.2v1.2h-1.2zM389.9 374.7h1.2v1.2h-1.2zM403.6 397.9h1.2v1.2h-1.2zM403.8 397.6h1.2v1.2h-1.2zM396.8 390.4h1.2v1.2h-1.2zM403.5 397.6h1.2v1.2h-1.2zM403.5 395.5h1.2v1.2h-1.2zM380.6 372.8h1.2v1.2h-1.2zM404.1 398.5h1.2v1.2h-1.2zM401.7 386.5h1.2v1.2h-1.2zM386.6 378.8h1.2v1.2h-1.2zM404.1 398.6h1.2v1.2h-1.2zM396.4 391.3h1.2v1.2h-1.2zM397.3 378.4h1.2v1.2h-1.2zM393.8 386.9h1.2v1.2h-1.2zM398.3 393.0h1.2v1.2h-1.2zM393.2 387.7h1.2v1.2h-1.2zM401.1 385.7h1.2v1.2h-1.2zM387.6 374.5h1.2v1.2h-1.2zM390.3 378.6h1.2v1.2h-1.2zM397.8 374.1h1.2v1.2h-1.2zM391.5 385.1h1.2v1.2h-1.2zM397.5 374.5h1.2v1.2h-1.2zM403.4 396.8h1.2v1.2h-1.2zM396.6 390.8h1.2v1.2h-1.2zM396.8 383.6h1.2v1.2h-1.2zM403.2 395.9h1.2v1.2h-1.2zM403.4 397.8h1.2v1.2h-1.2zM390.4 378.8h1.2v1.2h-1.2zM400.1 394.7h1.2v1.2h-1.2zM394.5 379.0h1.2v1.2h-1.2zM403.0 396.9h1.2v1.2h-1.2zM401.3 394.8h1.2v1.2h-1.2zM378.2 364.3h1.2v1.2h-1.2zM390.7 381.3h1.2v1.2h-1.2zM403.2 397.6h1.2v1.2h-1.2zM384.9 373.4h1.2v1.2h-1.2zM392.0 381.5h1.2v1.2h-1.2zM396.2 372.0h1.2v1.2h-1.2zM402.4 391.8h1.2v1.2h-1.2zM392.2 384.1h1.2v1.2h-1.2zM403.3 394.4h1.2v1.2h-1.2zM403.8 398.3h1.2v1.2h-1.2zM394.0 369.2h1.2v1.2h-1.2zM398.1 391.4h1.2v1.2h-1.2zM383.6 376.6h1.2v1.2h-1.2zM404.0 398.4h1.2v1.2h-1.2zM397.2 384.1h1.2v1.2h-1.2zM403.3 395.2h1.2v1.2h-1.2zM402.9 396.4h1.2v1.2h-1.2zM402.8 395.1h1.2v1.2h-1.2zM381.7 361.9h1.2v1.2h-1.2zM395.6 377.8h1.2v1.2h-1.2zM402.7 394.8h1.2v1.2h-1.2zM394.0 388.7h1.2v1.2h-1.2zM403.4 397.8h1.2v1.2h-1.2zM403.9 397.5h1.2v1.2h-1.2zM402.6 393.4h1.2v1.2h-1.2zM398.5 392.4h1.2v1.2h-1.2zM394.5 382.9h1.2v1.2h-1.2zM404.2 398.6h1.2v1.2h-1.2zM397.4 391.9h1.2v1.2h-1.2zM403.8 397.9h1.2v1.2h-1.2zM394.2 380.8h1.2v1.2h-1.2zM390.3 383.9h1.2v1.2h-1.2zM394.2 386.6h1.2v1.2h-1.2zM402.3 390.1h1.2v1.2h-1.2zM393.4 381.6h1.2v1.2h-1.2zM399.8 393.9h1.2v1.2h-1.2zM403.8 397.5h1.2v1.2h-1.2zM402.1 396.2h1.2v1.2h-1.2zM391.1 377.8h1.2v1.2h-1.2zM403.7 397.9h1.2v1.2h-1.2zM388.0 379.5h1.2v1.2h-1.2zM403.0 396.6h1.2v1.2h-1.2zM400.0 393.2h1.2v1.2h-1.2zM399.4 393.1h1.2v1.2h-1.2zM400.8 395.3h1.2v1.2h-1.2zM396.6 390.6h1.2v1.2h-1.2zM399.9 394.1h1.2v1.2h-1.2zM387.9 378.1h1.2v1.2h-1.2zM403.4 397.9h1.2v1.2h-1.2zM402.3 396.3h1.2v1.2h-1.2zM400.1 394.7h1.2v1.2h-1.2zM391.9 379.5h1.2v1.2h-1.2zM395.2 366.6h1.2v1.2h-1.2zM380.6 353.2h1.2v1.2h-1.2zM402.5 394.5h1.2v1.2h-1.2zM401.7 395.4h1.2v1.2h-1.2zM389.4 376.6h1.2v1.2h-1.2zM399.1 393.4h1.2v1.2h-1.2zM403.1 397.2h1.2v1.2h-1.2zM385.9 365.0h1.2v1.2h-1.2zM404.0 398.3h1.2v1.2h-1.2zM385.2 376.8h1.2v1.2h-1.2zM399.6 393.7h1.2v1.2h-1.2zM403.9 397.6h1.2v1.2h-1.2zM390.7 377.0h1.2v1.2h-1.2zM392.1 370.1h1.2v1.2h-1.2zM396.0 368.2h1.2v1.2h-1.2zM402.8 397.3h1.2v1.2h-1.2zM398.5 391.4h1.2v1.2h-1.2zM403.5 398.0h1.2v1.2h-1.2zM403.1 396.4h1.2v1.2h-1.2zM402.4 392.7h1.2v1.2h-1.2zM386.7 374.5h1.2v1.2h-1.2zM393.4 382.4h1.2v1.2h-1.2zM399.4 393.0h1.2v1.2h-1.2zM402.7 397.1h1.2v1.2h-1.2zM402.5 396.5h1.2v1.2h-1.2zM403.2 396.1h1.2v1.2h-1.2zM401.5 395.2h1.2v1.2h-1.2zM394.1 386.0h1.2v1.2h-1.2zM398.6 393.0h1.2v1.2h-1.2zM394.1 373.6h1.2v1.2h-1.2zM402.8 394.2h1.2v1.2h-1.2zM383.3 366.6h1.2v1.2h-1.2zM401.9 389.4h1.2v1.2h-1.2zM404.2 398.7h1.2v1.2h-1.2zM402.2 396.3h1.2v1.2h-1.2zM395.0 375.0h1.2v1.2h-1.2zM402.0 388.8h1.2v1.2h-1.2zM402.7 393.1h1.2v1.2h-1.2zM403.8 398.1h1.2v1.2h-1.2zM393.8 384.0h1.2v1.2h-1.2zM398.4 392.9h1.2v1.2h-1.2zM402.5 393.5h1.2v1.2h-1.2zM388.5 377.5h1.2v1.2h-1.2zM401.7 388.8h1.2v1.2h-1.2zM388.6 380.8h1.2v1.2h-1.2zM402.1 390.0h1.2v1.2h-1.2zM403.5 395.3h1.2v1.2h-1.2zM380.3 369.5h1.2v1.2h-1.2zM393.0 387.4h1.2v1.2h-1.2zM403.2 395.6h1.2v1.2h-1.2zM404.1 398.5h1.2v1.2h-1.2zM392.3 383.7h1.2v1.2h-1.2zM400.7 384.6h1.2v1.2h-1.2zM396.8 391.5h1.2v1.2h-1.2zM403.3 396.6h1.2v1.2h-1.2zM403.3 396.5h1.2v1.2h-1.2zM397.1 381.9h1.2v1.2h-1.2zM397.1 384.0h1.2v1.2h-1.2zM381.5 374.3h1.2v1.2h-1.2zM394.6 360.2h1.2v1.2h-1.2zM397.7 392.3h1.2v1.2h-1.2zM400.3 394.2h1.2v1.2h-1.2zM403.1 397.4h1.2v1.2h-1.2zM403.3 394.6h1.2v1.2h-1.2zM404.2 398.7h1.2v1.2h-1.2zM402.7 394.7h1.2v1.2h-1.2zM402.7 395.2h1.2v1.2h-1.2zM390.9 384.6h1.2v1.2h-1.2zM401.4 395.8h1.2v1.2h-1.2zM395.3 371.8h1.2v1.2h-1.2zM398.7 393.3h1.2v1.2h-1.2zM402.5 393.3h1.2v1.2h-1.2zM401.6 395.8h1.2v1.2h-1.2zM393.0 382.4h1.2v1.2h-1.2zM403.9 398.3h1.2v1.2h-1.2zM400.9 394.9h1.2v1.2h-1.2zM385.7 361.1h1.2v1.2h-1.2zM403.2 397.6h1.2v1.2h-1.2zM393.6 386.8h1.2v1.2h-1.2zM403.8 398.3h1.2v1.2h-1.2zM396.4 390.5h1.2v1.2h-1.2zM403.9 397.6h1.2v1.2h-1.2zM392.2 387.2h1.2v1.2h-1.2zM396.6 381.7h1.2v1.2h-1.2zM403.9 398.1h1.2v1.2h-1.2zM404.1 398.6h1.2v1.2h-1.2zM396.1 389.3h1.2v1.2h-1.2zM398.8 392.6h1.2v1.2h-1.2zM399.5 393.6h1.2v1.2h-1.2zM398.1 392.9h1.2v1.2h-1.2zM395.5 382.6h1.2v1.2h-1.2zM392.5 386.0h1.2v1.2h-1.2zM401.9 396.5h1.2v1.2h-1.2zM385.1 370.0h1.2v1.2h-1.2zM403.4 394.9h1.2v1.2h-1.2zM399.0 393.6h1.2v1.2h-1.2zM403.6 397.8h1.2v1.2h-1.2zM395.6 377.3h1.2v1.2h-1.2zM395.3 368.7h1.2v1.2h-1.2zM402.3 391.9h1.2v1.2h-1.2zM384.3 375.0h1.2v1.2h-1.2zM400.9 394.5h1.2v1.2h-1.2zM389.3 377.8h1.2v1.2h-1.2zM397.1 390.5h1.2v1.2h-1.2zM394.9 388.0h1.2v1.2h-1.2zM399.2 393.0h1.2v1.2h-1.2zM403.8 398.1h1.2v1.2h-1.2zM395.1 374.4h1.2v1.2h-1.2zM388.0 382.7h1.2v1.2h-1.2zM400.3 393.9h1.2v1.2h-1.2zM393.9 375.3h1.2v1.2h-1.2zM396.0 371.4h1.2v1.2h-1.2zM399.3 380.3h1.2v1.2h-1.2zM396.4 368.0h1.2v1.2h-1.2zM391.9 386.8h1.2v1.2h-1.2zM394.0 357.6h1.2v1.2h-1.2zM393.4 359.6h1.2v1.2h-1.2zM386.8 380.2h1.2v1.2h-1.2zM404.1 398.0h1.2v1.2h-1.2zM400.2 394.3h1.2v1.2h-1.2zM403.2 397.5h1.2v1.2h-1.2zM398.6 393.0h1.2v1.2h-1.2zM402.2 396.1h1.2v1.2h-1.2zM403.5 398.0h1.2v1.2h-1.2zM383.5 369.2h1.2v1.2h-1.2zM403.6 397.4h1.2v1.2h-1.2zM403.9 398.0h1.2v1.2h-1.2zM382.4 364.6h1.2v1.2h-1.2zM400.0 394.3h1.2v1.2h-1.2zM397.6 390.9h1.2v1.2h-1.2zM395.6 362.9h1.2v1.2h-1.2zM402.7 395.4h1.2v1.2h-1.2zM388.9 375.3h1.2v1.2h-1.2zM381.5 369.6h1.2v1.2h-1.2zM400.5 394.6h1.2v1.2h-1.2zM404.1 398.5h1.2v1.2h-1.2zM403.9 397.9h1.2v1.2h-1.2zM402.2 396.1h1.2v1.2h-1.2zM396.9 391.7h1.2v1.2h-1.2zM403.7 397.7h1.2v1.2h-1.2zM383.7 365.2h1.2v1.2h-1.2zM389.5 376.6h1.2v1.2h-1.2zM399.7 394.1h1.2v1.2h-1.2zM404.0 398.5h1.2v1.2h-1.2zM382.1 366.7h1.2v1.2h-1.2zM403.6 397.3h1.2v1.2h-1.2zM401.4 387.3h1.2v1.2h-1.2zM403.6 398.0h1.2v1.2h-1.2zM399.2 392.1h1.2v1.2h-1.2zM400.7 395.1h1.2v1.2h-1.2zM402.0 388.5h1.2v1.2h-1.2zM403.3 396.6h1.2v1.2h-1.2zM398.2 392.7h1.2v1.2h-1.2zM397.0 391.9h1.2v1.2h-1.2zM399.7 393.9h1.2v1.2h-1.2zM398.1 392.0h1.2v1.2h-1.2zM403.7 397.1h1.2v1.2h-1.2zM403.7 398.1h1.2v1.2h-1.2zM397.2 384.0h1.2v1.2h-1.2zM392.3 384.0h1.2v1.2h-1.2zM404.2 398.7h1.2v1.2h-1.2zM392.4 368.8h1.2v1.2h-1.2zM403.3 395.3h1.2v1.2h-1.2zM400.9 395.2h1.2v1.2h-1.2zM402.6 392.4h1.2v1.2h-1.2zM394.2 389.1h1.2v1.2h-1.2zM393.6 361.9h1.2v1.2h-1.2zM396.9 380.3h1.2v1.2h-1.2zM396.3 388.5h1.2v1.2h-1.2zM401.2 395.8h1.2v1.2h-1.2zM381.1 372.9h1.2v1.2h-1.2zM399.2 393.9h1.2v1.2h-1.2zM391.5 369.8h1.2v1.2h-1.2zM396.6 383.4h1.2v1.2h-1.2zM396.0 365.2h1.2v1.2h-1.2zM399.8 393.6h1.2v1.2h-1.2zM399.6 393.8h1.2v1.2h-1.2zM402.2 389.7h1.2v1.2h-1.2zM403.9 398.4h1.2v1.2h-1.2zM389.5 366.5h1.2v1.2h-1.2zM387.1 378.3h1.2v1.2h-1.2zM394.5 381.1h1.2v1.2h-1.2zM387.6 382.1h1.2v1.2h-1.2zM402.7 393.1h1.2v1.2h-1.2zM398.1 391.3h1.2v1.2h-1.2zM401.8 396.3h1.2v1.2h-1.2zM398.5 392.2h1.2v1.2h-1.2zM382.9 371.9h1.2v1.2h-1.2zM403.6 397.8h1.2v1.2h-1.2zM402.3 390.6h1.2v1.2h-1.2zM398.6 392.3h1.2v1.2h-1.2zM402.5 392.0h1.2v1.2h-1.2zM396.4 381.3h1.2v1.2h-1.2zM401.8 396.3h1.2v1.2h-1.2zM391.2 385.4h1.2v1.2h-1.2zM395.3 381.5h1.2v1.2h-1.2zM396.5 378.0h1.2v1.2h-1.2zM394.6 377.2h1.2v1.2h-1.2zM399.3 381.3h1.2v1.2h-1.2zM391.7 386.0h1.2v1.2h-1.2zM396.1 382.3h1.2v1.2h-1.2zM404.0 398.1h1.2v1.2h-1.2zM401.2 387.8h1.2v1.2h-1.2zM396.0 375.3h1.2v1.2h-1.2zM401.6 387.5h1.2v1.2h-1.2zM389.0 381.6h1.2v1.2h-1.2zM393.3 387.7h1.2v1.2h-1.2zM392.9 367.4h1.2v1.2h-1.2zM402.4 392.7h1.2v1.2h-1.2zM388.5 356.7h1.2v1.2h-1.2zM403.4 395.1h1.2v1.2h-1.2zM396.3 389.9h1.2v1.2h-1.2zM402.6 397.0h1.2v1.2h-1.2zM401.4 395.9h1.2v1.2h-1.2zM399.1 393.5h1.2v1.2h-1.2zM401.7 389.5h1.2v1.2h-1.2zM395.7 390.4h1.2v1.2h-1.2zM402.9 393.2h1.2v1.2h-1.2zM401.6 395.8h1.2v1.2h-1.2zM404.0 398.5h1.2v1.2h-1.2zM389.6 382.0h1.2v1.2h-1.2zM396.8 390.7h1.2v1.2h-1.2zM392.5 386.2h1.2v1.2h-1.2zM393.4 377.5h1.2v1.2h-1.2zM390.1 384.7h1.2v1.2h-1.2zM397.2 372.2h1.2v1.2h-1.2zM387.5 380.2h1.2v1.2h-1.2zM403.2 397.2h1.2v1.2h-1.2zM401.9 388.8h1.2v1.2h-1.2zM403.4 394.9h1.2v1.2h-1.2zM401.8 390.5h1.2v1.2h-1.2zM403.3 396.8h1.2v1.2h-1.2zM385.2 366.3h1.2v1.2h-1.2zM402.0 391.1h1.2v1.2h-1.2zM398.4 391.8h1.2v1.2h-1.2zM382.4 371.6h1.2v1.2h-1.2zM383.9 376.7h1.2v1.2h-1.2zM403.8 398.1h1.2v1.2h-1.2zM396.4 378.2h1.2v1.2h-1.2zM398.2 381.8h1.2v1.2h-1.2zM403.5 397.4h1.2v1.2h-1.2zM398.5 391.6h1.2v1.2h-1.2zM394.5 382.4h1.2v1.2h-1.2zM383.4 369.0h1.2v1.2h-1.2zM402.9 397.3h1.2v1.2h-1.2zM401.5 395.8h1.2v1.2h-1.2zM399.6 393.6h1.2v1.2h-1.2zM404.0 398.3h1.2v1.2h-1.2zM396.8 382.4h1.2v1.2h-1.2zM394.7 389.6h1.2v1.2h-1.2zM403.5 397.5h1.2v1.2h-1.2zM397.2 391.5h1.2v1.2h-1.2zM393.5 382.4h1.2v1.2h-1.2zM403.9 397.4h1.2v1.2h-1.2zM403.8 397.9h1.2v1.2h-1.2zM402.6 397.1h1.2v1.2h-1.2zM398.5 393.0h1.2v1.2h-1.2zM402.6 394.9h1.2v1.2h-1.2zM404.0 398.4h1.2v1.2h-1.2zM402.1 396.2h1.2v1.2h-1.2zM402.0 392.1h1.2v1.2h-1.2zM404.0 398.4h1.2v1.2h-1.2zM403.2 397.5h1.2v1.2h-1.2zM404.1 398.5h1.2v1.2h-1.2zM396.9 391.8h1.2v1.2h-1.2zM404.0 398.5h1.2v1.2h-1.2zM381.9 364.4h1.2v1.2h-1.2zM402.7 396.8h1.2v1.2h-1.2zM387.7 381.9h1.2v1.2h-1.2zM403.5 396.5h1.2v1.2h-1.2zM383.7 368.5h1.2v1.2h-1.2zM378.8 364.6h1.2v1.2h-1.2zM395.5 388.8h1.2v1.2h-1.2zM403.2 397.5h1.2v1.2h-1.2zM402.9 394.4h1.2v1.2h-1.2zM396.0 379.3h1.2v1.2h-1.2zM393.0 388.0h1.2v1.2h-1.2zM401.3 394.8h1.2v1.2h-1.2zM396.1 391.0h1.2v1.2h-1.2zM403.6 397.1h1.2v1.2h-1.2zM391.7 378.2h1.2v1.2h-1.2zM402.6 396.9h1.2v1.2h-1.2zM399.4 382.1h1.2v1.2h-1.2zM383.1 364.0h1.2v1.2h-1.2zM403.6 396.4h1.2v1.2h-1.2zM393.6 383.7h1.2v1.2h-1.2zM380.9 372.4h1.2v1.2h-1.2zM401.4 395.8h1.2v1.2h-1.2zM402.8 395.4h1.2v1.2h-1.2zM404.0 397.9h1.2v1.2h-1.2zM401.4 386.1h1.2v1.2h-1.2zM403.4 397.8h1.2v1.2h-1.2zM383.6 372.0h1.2v1.2h-1.2zM402.2 392.0h1.2v1.2h-1.2zM399.1 391.9h1.2v1.2h-1.2zM392.5 361.1h1.2v1.2h-1.2zM403.5 397.3h1.2v1.2h-1.2zM388.8 383.6h1.2v1.2h-1.2zM399.2 380.2h1.2v1.2h-1.2zM402.4 396.4h1.2v1.2h-1.2zM393.3 387.2h1.2v1.2h-1.2zM401.7 396.2h1.2v1.2h-1.2zM402.9 396.2h1.2v1.2h-1.2zM403.4 395.0h1.2v1.2h-1.2zM403.3 397.0h1.2v1.2h-1.2zM400.0 382.2h1.2v1.2h-1.2zM402.8 392.9h1.2v1.2h-1.2zM395.3 370.7h1.2v1.2h-1.2zM404.0 398.3h1.2v1.2h-1.2zM392.3 382.3h1.2v1.2h-1.2zM402.8 396.0h1.2v1.2h-1.2zM396.9 391.0h1.2v1.2h-1.2zM403.7 398.1h1.2v1.2h-1.2zM395.5 389.7h1.2v1.2h-1.2zM402.4 396.8h1.2v1.2h-1.2zM383.2 377.5h1.2v1.2h-1.2zM402.2 391.9h1.2v1.2h-1.2zM401.9 396.5h1.2v1.2h-1.2zM403.4 397.7h1.2v1.2h-1.2zM385.8 378.5h1.2v1.2h-1.2zM399.0 393.3h1.2v1.2h-1.2zM398.9 392.9h1.2v1.2h-1.2zM397.3 372.6h1.2v1.2h-1.2zM402.9 396.4h1.2v1.2h-1.2zM396.2 391.0h1.2v1.2h-1.2zM402.2 391.9h1.2v1.2h-1.2zM394.0 383.2h1.2v1.2h-1.2zM404.1 398.4h1.2v1.2h-1.2zM391.1 384.1h1.2v1.2h-1.2zM397.0 390.9h1.2v1.2h-1.2zM404.2 398.6h1.2v1.2h-1.2zM400.2 393.2h1.2v1.2h-1.2zM379.6 369.6h1.2v1.2h-1.2zM403.8 398.0h1.2v1.2h-1.2zM387.5 364.7h1.2v1.2h-1.2zM401.6 396.1h1.2v1.2h-1.2zM401.3 395.7h1.2v1.2h-1.2zM402.6 396.7h1.2v1.2h-1.2zM401.7 396.2h1.2v1.2h-1.2zM382.2 375.3h1.2v1.2h-1.2zM401.0 395.3h1.2v1.2h-1.2zM389.1 378.7h1.2v1.2h-1.2zM390.1 384.8h1.2v1.2h-1.2zM393.6 387.3h1.2v1.2h-1.2zM386.2 377.4h1.2v1.2h-1.2zM399.0 391.7h1.2v1.2h-1.2zM403.8 397.0h1.2v1.2h-1.2zM395.7 363.2h1.2v1.2h-1.2zM403.3 397.4h1.2v1.2h-1.2zM402.7 397.1h1.2v1.2h-1.2zM402.5 393.5h1.2v1.2h-1.2zM394.4 357.5h1.2v1.2h-1.2zM402.9 396.7h1.2v1.2h-1.2zM391.4 386.3h1.2v1.2h-1.2zM400.2 394.7h1.2v1.2h-1.2zM403.6 397.9h1.2v1.2h-1.2zM396.5 382.8h1.2v1.2h-1.2zM383.0 373.9h1.2v1.2h-1.2zM402.5 390.8h1.2v1.2h-1.2zM403.4 397.5h1.2v1.2h-1.2zM400.3 395.0h1.2v1.2h-1.2zM402.8 395.9h1.2v1.2h-1.2zM403.3 397.8h1.2v1.2h-1.2zM402.3 396.8h1.2v1.2h-1.2zM393.8 383.9h1.2v1.2h-1.2zM403.5 397.3h1.2v1.2h-1.2zM403.0 396.9h1.2v1.2h-1.2zM386.7 370.4h1.2v1.2h-1.2zM402.5 393.4h1.2v1.2h-1.2zM401.2 385.1h1.2v1.2h-1.2zM389.2 374.3h1.2v1.2h-1.2zM403.6 398.1h1.2v1.2h-1.2zM403.9 397.8h1.2v1.2h-1.2zM395.9 379.9h1.2v1.2h-1.2zM393.3 387.2h1.2v1.2h-1.2zM390.5 373.0h1.2v1.2h-1.2zM385.8 377.2h1.2v1.2h-1.2zM402.3 396.7h1.2v1.2h-1.2zM395.3 389.5h1.2v1.2h-1.2zM391.3 372.2h1.2v1.2h-1.2zM398.6 391.9h1.2v1.2h-1.2zM389.0 380.6h1.2v1.2h-1.2zM386.0 369.8h1.2v1.2h-1.2zM400.7 394.3h1.2v1.2h-1.2zM392.0 386.3h1.2v1.2h-1.2zM390.9 383.6h1.2v1.2h-1.2zM404.0 398.4h1.2v1.2h-1.2zM404.0 398.1h1.2v1.2h-1.2zM403.8 398.0h1.2v1.2h-1.2zM399.6 392.9h1.2v1.2h-1.2zM403.7 396.7h1.2v1.2h-1.2zM391.4 375.9h1.2v1.2h-1.2zM402.9 395.4h1.2v1.2h-1.2zM394.4 389.3h1.2v1.2h-1.2zM399.5 380.6h1.2v1.2h-1.2zM391.0 365.2h1.2v1.2h-1.2zM404.1 398.5h1.2v1.2h-1.2zM404.0 398.1h1.2v1.2h-1.2zM395.7 376.6h1.2v1.2h-1.2zM389.6 377.7h1.2v1.2h-1.2zM403.9 398.3h1.2v1.2h-1.2zM402.3 396.2h1.2v1.2h-1.2zM403.4 397.9h1.2v1.2h-1.2zM382.9 371.7h1.2v1.2h-1.2zM390.7 381.3h1.2v1.2h-1.2zM401.3 395.3h1.2v1.2h-1.2zM401.9 395.8h1.2v1.2h-1.2zM403.2 394.7h1.2v1.2h-1.2zM394.2 388.8h1.2v1.2h-1.2zM404.0 398.5h1.2v1.2h-1.2zM401.6 396.1h1.2v1.2h-1.2zM398.9 378.7h1.2v1.2h-1.2zM403.9 398.0h1.2v1.2h-1.2zM404.1 398.6h1.2v1.2h-1.2zM403.6 396.9h1.2v1.2h-1.2zM392.1 381.5h1.2v1.2h-1.2zM402.8 395.1h1.2v1.2h-1.2zM396.3 381.6h1.2v1.2h-1.2zM402.6 393.5h1.2v1.2h-1.2zM395.5 389.6h1.2v1.2h-1.2zM403.5 397.8h1.2v1.2h-1.2zM403.6 398.1h1.2v1.2h-1.2zM395.6 387.2h1.2v1.2h-1.2zM403.1 397.1h1.2v1.2h-1.2zM399.2 393.5h1.2v1.2h-1.2zM392.2 358.2h1.2v1.2h-1.2zM393.3 378.4h1.2v1.2h-1.2zM404.1 398.7h1.2v1.2h-1.2zM403.5 397.0h1.2v1.2h-1.2zM397.2 382.9h1.2v1.2h-1.2zM402.9 393.2h1.2v1.2h-1.2zM402.5 396.9h1.2v1.2h-1.2zM389.2 382.8h1.2v1.2h-1.2zM393.5 384.5h1.2v1.2h-1.2zM391.9 386.6h1.2v1.2h-1.2zM403.9 397.7h1.2v1.2h-1.2zM394.6 387.6h1.2v1.2h-1.2zM395.3 370.1h1.2v1.2h-1.2zM400.7 394.7h1.2v1.2h-1.2zM403.5 397.6h1.2v1.2h-1.2zM379.1 357.4h1.2v1.2h-1.2zM387.1 378.7h1.2v1.2h-1.2zM393.5 377.2h1.2v1.2h-1.2zM403.8 397.2h1.2v1.2h-1.2zM402.7 395.0h1.2v1.2h-1.2zM381.4 357.2h1.2v1.2h-1.2zM396.1 389.4h1.2v1.2h-1.2zM397.9 391.7h1.2v1.2h-1.2zM400.2 394.6h1.2v1.2h-1.2zM401.3 395.8h1.2v1.2h-1.2zM402.1 396.3h1.2v1.2h-1.2zM401.5 395.8h1.2v1.2h-1.2zM403.4 396.9h1.2v1.2h-1.2zM382.4 364.2h1.2v1.2h-1.2zM390.6 385.5h1.2v1.2h-1.2zM394.1 378.9h1.2v1.2h-1.2zM393.5 365.2h1.2v1.2h-1.2zM403.7 397.9h1.2v1.2h-1.2zM397.7 379.4h1.2v1.2h-1.2zM403.3 397.1h1.2v1.2h-1.2zM401.6 386.4h1.2v1.2h-1.2zM382.8 376.2h1.2v1.2h-1.2zM402.8 397.3h1.2v1.2h-1.2zM401.4 395.6h1.2v1.2h-1.2zM391.4 365.8h1.2v1.2h-1.2zM383.5 354.7h1.2v1.2h-1.2zM402.8 397.3h1.2v1.2h-1.2zM403.2 397.6h1.2v1.2h-1.2zM393.2 388.0h1.2v1.2h-1.2zM384.8 371.6h1.2v1.2h-1.2zM391.7 369.1h1.2v1.2h-1.2zM403.9 398.1h1.2v1.2h-1.2zM392.0 361.8h1.2v1.2h-1.2zM393.1 387.9h1.2v1.2h-1.2zM437.4 269.7h1.2v1.2h-1.2zM425.6 278.8h1.2v1.2h-1.2zM432.7 282.3h1.2v1.2h-1.2zM439.1 284.9h1.2v1.2h-1.2zM438.3 287.2h1.2v1.2h-1.2zM431.3 292.7h1.2v1.2h-1.2zM444.0 296.2h1.2v1.2h-1.2zM418.0 297.5h1.2v1.2h-1.2zM457.3 353.7h1.2v1.2h-1.2zM455.6 346.0h1.2v1.2h-1.2zM449.1 356.0h1.2v1.2h-1.2zM445.7 350.9h1.2v1.2h-1.2zM385.0 342.0h1.2v1.2h-1.2zM380.0 349.0h1.2v1.2h-1.2zM378.0 352.0h1.2v1.2h-1.2zM388.0 358.0h1.2v1.2h-1.2zM383.0 363.0h1.2v1.2h-1.2zM386.0 344.0h1.2v1.2h-1.2zM382.0 366.0h1.2v1.2h-1.2zM390.0 340.0h1.2v1.2h-1.2zM376.0 361.0h1.2v1.2h-1.2zM382.2 337.5h1.2v1.2h-1.2zM387.0 338.5h1.2v1.2h-1.2zM375.5 357.0h1.2v1.2h-1.2z" fill="#000"/>
<text x="17.4" y="433.3" font-size="13.6" font-weight="bold">D</text>
<text x="3.5" y="451.9" font-size="9.67">Methylation level</text>
<text x="8.8" y="463.3" font-size="7.7">Log (HpaII/MspI)</text>
<path d="M12.5 468L65.8 473.7H12.5Z" fill="#707070"/>
<rect x="12.60" y="476.6" width="5.63" height="7" fill="#ff0000"/>
<rect x="17.93" y="476.6" width="5.63" height="7" fill="#ff2500"/>
<rect x="23.27" y="476.6" width="5.63" height="7" fill="#ff4b00"/>
<rect x="28.60" y="476.6" width="5.63" height="7" fill="#ff7000"/>
<rect x="33.93" y="476.6" width="5.63" height="7" fill="#ff9600"/>
<rect x="39.27" y="476.6" width="5.63" height="7" fill="#ffbb00"/>
<rect x="44.60" y="476.6" width="5.63" height="7" fill="#ffe000"/>
<rect x="49.93" y="476.6" width="5.63" height="7" fill="#ffff17"/>
<rect x="55.27" y="476.6" width="5.63" height="7" fill="#ffff8c"/>
<text x="4.2" y="494.8" font-size="7.6">-3.49</text>
<text x="54.0" y="494.8" font-size="7.6">2.81</text>
<defs><filter id="hb" x="0" y="0" width="1" height="1"><feGaussianBlur stdDeviation="0.45"/></filter><clipPath id="hc"><rect x="66.70" y="496.70" width="171.30" height="136.30"/></clipPath></defs>
<g clip-path="url(#hc)"><g filter="url(#hb)" shape-rendering="crispEdges">
<rect x="65.70" y="495.70" width="173.30" height="138.30" fill="#ffa000"/>
<path d="M66.70 496.70h6.64v1.75h-6.64zM66.70 512.03h6.64v1.75h-6.64zM66.70 535.89h6.64v1.75h-6.64zM66.70 559.74h6.64v1.75h-6.64zM66.70 610.85h6.64v1.75h-6.64zM66.70 621.07h6.64v1.75h-6.64zM66.70 629.59h6.64v1.75h-6.64zM79.88 508.63h6.64v1.75h-6.64zM79.88 520.55h6.64v1.75h-6.64zM79.88 525.66h6.64v1.75h-6.64zM79.88 535.89h6.64v1.75h-6.64zM79.88 587.00h6.64v1.75h-6.64zM79.88 621.07h6.64v1.75h-6.64zM79.88 622.78h6.64v1.75h-6.64zM79.88 626.18h6.64v1.75h-6.64zM86.47 501.81h6.64v1.75h-6.64zM86.47 534.18h6.64v1.75h-6.64zM86.47 541.00h6.64v1.75h-6.64zM86.47 595.52h6.64v1.75h-6.64zM86.47 597.22h6.64v1.75h-6.64zM86.47 600.63h6.64v1.75h-6.64zM86.47 622.78h6.64v1.75h-6.64zM86.47 624.48h6.64v1.75h-6.64zM86.47 626.18h6.64v1.75h-6.64zM93.05 523.96h6.64v1.75h-6.64zM93.05 595.52h6.64v1.75h-6.64zM93.05 624.48h6.64v1.75h-6.64zM99.64 547.81h6.64v1.75h-6.64zM106.23 508.63h6.64v1.75h-6.64zM106.23 517.14h6.64v1.75h-6.64zM106.23 518.85h6.64v1.75h-6.64zM106.23 529.07h6.64v1.75h-6.64zM106.23 564.85h6.64v1.75h-6.64zM106.23 597.22h6.64v1.75h-6.64zM106.23 600.63h6.64v1.75h-6.64zM106.23 602.33h6.64v1.75h-6.64zM106.23 605.74h6.64v1.75h-6.64zM112.82 505.22h6.64v1.75h-6.64zM112.82 506.92h6.64v1.75h-6.64zM112.82 517.14h6.64v1.75h-6.64zM112.82 525.66h6.64v1.75h-6.64zM112.82 607.44h6.64v1.75h-6.64zM112.82 622.78h6.64v1.75h-6.64zM119.41 575.07h6.64v1.75h-6.64zM119.41 605.74h6.64v1.75h-6.64zM126.00 513.74h6.64v1.75h-6.64zM126.00 522.26h6.64v1.75h-6.64zM126.00 527.37h6.64v1.75h-6.64zM126.00 566.55h6.64v1.75h-6.64zM126.00 583.59h6.64v1.75h-6.64zM126.00 595.52h6.64v1.75h-6.64zM126.00 604.04h6.64v1.75h-6.64zM126.00 619.37h6.64v1.75h-6.64zM139.17 506.92h6.64v1.75h-6.64zM139.17 554.63h6.64v1.75h-6.64zM139.17 583.59h6.64v1.75h-6.64zM224.82 592.11h6.64v1.75h-6.64z" fill="#ffff00"/>
<path d="M66.70 498.40h6.64v1.75h-6.64zM66.70 525.66h6.64v1.75h-6.64zM66.70 529.07h6.64v1.75h-6.64zM66.70 622.78h6.64v1.75h-6.64zM79.88 532.48h6.64v1.75h-6.64zM79.88 559.74h6.64v1.75h-6.64zM79.88 571.66h6.64v1.75h-6.64zM79.88 602.33h6.64v1.75h-6.64zM79.88 615.96h6.64v1.75h-6.64zM79.88 631.30h6.64v1.75h-6.64zM86.47 583.59h6.64v1.75h-6.64zM86.47 619.37h6.64v1.75h-6.64zM106.23 530.77h6.64v1.75h-6.64zM106.23 554.63h6.64v1.75h-6.64z" fill="#ffff74"/>
<path d="M66.70 500.11h6.64v1.75h-6.64zM66.70 501.81h6.64v1.75h-6.64zM66.70 513.74h6.64v1.75h-6.64zM66.70 523.96h6.64v1.75h-6.64zM66.70 541.00h6.64v1.75h-6.64zM66.70 546.11h6.64v1.75h-6.64zM66.70 556.33h6.64v1.75h-6.64zM66.70 569.96h6.64v1.75h-6.64zM66.70 581.89h6.64v1.75h-6.64zM66.70 597.22h6.64v1.75h-6.64zM79.88 506.92h6.64v1.75h-6.64zM79.88 513.74h6.64v1.75h-6.64zM79.88 522.26h6.64v1.75h-6.64zM79.88 547.81h6.64v1.75h-6.64zM79.88 554.63h6.64v1.75h-6.64zM79.88 561.44h6.64v1.75h-6.64zM79.88 564.85h6.64v1.75h-6.64zM79.88 566.55h6.64v1.75h-6.64zM79.88 583.59h6.64v1.75h-6.64zM79.88 593.81h6.64v1.75h-6.64zM79.88 598.92h6.64v1.75h-6.64zM86.47 512.03h6.64v1.75h-6.64zM86.47 530.77h6.64v1.75h-6.64zM86.47 537.59h6.64v1.75h-6.64zM86.47 546.11h6.64v1.75h-6.64zM86.47 554.63h6.64v1.75h-6.64zM86.47 558.03h6.64v1.75h-6.64zM86.47 592.11h6.64v1.75h-6.64zM86.47 593.81h6.64v1.75h-6.64zM93.05 569.96h6.64v1.75h-6.64zM93.05 593.81h6.64v1.75h-6.64zM93.05 619.37h6.64v1.75h-6.64zM99.64 605.74h6.64v1.75h-6.64zM106.23 542.70h6.64v1.75h-6.64zM106.23 563.15h6.64v1.75h-6.64zM106.23 573.37h6.64v1.75h-6.64zM106.23 593.81h6.64v1.75h-6.64zM106.23 615.96h6.64v1.75h-6.64zM106.23 621.07h6.64v1.75h-6.64zM106.23 624.48h6.64v1.75h-6.64zM112.82 544.40h6.64v1.75h-6.64zM112.82 568.26h6.64v1.75h-6.64zM119.41 556.33h6.64v1.75h-6.64zM126.00 498.40h6.64v1.75h-6.64zM126.00 517.14h6.64v1.75h-6.64zM126.00 544.40h6.64v1.75h-6.64zM126.00 551.22h6.64v1.75h-6.64zM126.00 581.89h6.64v1.75h-6.64zM126.00 626.18h6.64v1.75h-6.64zM139.17 561.44h6.64v1.75h-6.64zM139.17 629.59h6.64v1.75h-6.64zM224.82 619.37h6.64v1.75h-6.64z" fill="#ffff2e"/>
<path d="M66.70 503.51h6.64v1.75h-6.64zM66.70 580.18h6.64v1.75h-6.64zM66.70 588.70h6.64v1.75h-6.64zM66.70 590.41h6.64v1.75h-6.64zM73.29 573.37h6.64v1.75h-6.64zM73.29 610.85h6.64v1.75h-6.64zM79.88 496.70h6.64v1.75h-6.64zM79.88 500.11h6.64v1.75h-6.64zM79.88 510.33h6.64v1.75h-6.64zM79.88 529.07h6.64v1.75h-6.64zM79.88 530.77h6.64v1.75h-6.64zM79.88 534.18h6.64v1.75h-6.64zM79.88 546.11h6.64v1.75h-6.64zM79.88 549.52h6.64v1.75h-6.64zM79.88 552.92h6.64v1.75h-6.64zM79.88 590.41h6.64v1.75h-6.64zM79.88 609.15h6.64v1.75h-6.64zM86.47 522.26h6.64v1.75h-6.64zM86.47 532.48h6.64v1.75h-6.64zM86.47 539.29h6.64v1.75h-6.64zM86.47 568.26h6.64v1.75h-6.64zM86.47 621.07h6.64v1.75h-6.64zM93.05 508.63h6.64v1.75h-6.64zM93.05 530.77h6.64v1.75h-6.64zM93.05 532.48h6.64v1.75h-6.64zM93.05 546.11h6.64v1.75h-6.64zM93.05 554.63h6.64v1.75h-6.64zM93.05 559.74h6.64v1.75h-6.64zM93.05 575.07h6.64v1.75h-6.64zM93.05 581.89h6.64v1.75h-6.64zM93.05 585.29h6.64v1.75h-6.64zM93.05 590.41h6.64v1.75h-6.64zM93.05 602.33h6.64v1.75h-6.64zM93.05 614.26h6.64v1.75h-6.64zM93.05 617.67h6.64v1.75h-6.64zM93.05 626.18h6.64v1.75h-6.64zM106.23 549.52h6.64v1.75h-6.64zM106.23 575.07h6.64v1.75h-6.64zM106.23 576.78h6.64v1.75h-6.64zM106.23 592.11h6.64v1.75h-6.64zM106.23 622.78h6.64v1.75h-6.64zM106.23 626.18h6.64v1.75h-6.64zM106.23 631.30h6.64v1.75h-6.64zM112.82 513.74h6.64v1.75h-6.64zM112.82 522.26h6.64v1.75h-6.64zM112.82 535.89h6.64v1.75h-6.64zM112.82 556.33h6.64v1.75h-6.64zM112.82 564.85h6.64v1.75h-6.64zM112.82 569.96h6.64v1.75h-6.64zM112.82 571.66h6.64v1.75h-6.64zM112.82 583.59h6.64v1.75h-6.64zM112.82 590.41h6.64v1.75h-6.64zM112.82 629.59h6.64v1.75h-6.64zM119.41 501.81h6.64v1.75h-6.64zM119.41 529.07h6.64v1.75h-6.64zM119.41 542.70h6.64v1.75h-6.64zM119.41 547.81h6.64v1.75h-6.64zM119.41 592.11h6.64v1.75h-6.64zM119.41 602.33h6.64v1.75h-6.64zM126.00 501.81h6.64v1.75h-6.64zM126.00 512.03h6.64v1.75h-6.64zM126.00 525.66h6.64v1.75h-6.64zM126.00 532.48h6.64v1.75h-6.64zM126.00 571.66h6.64v1.75h-6.64zM126.00 575.07h6.64v1.75h-6.64zM126.00 587.00h6.64v1.75h-6.64zM126.00 590.41h6.64v1.75h-6.64zM126.00 598.92h6.64v1.75h-6.64zM126.00 602.33h6.64v1.75h-6.64zM126.00 607.44h6.64v1.75h-6.64zM132.58 529.07h6.64v1.75h-6.64zM139.17 498.40h6.64v1.75h-6.64zM139.17 522.26h6.64v1.75h-6.64zM139.17 525.66h6.64v1.75h-6.64zM139.17 537.59h6.64v1.75h-6.64zM139.17 585.29h6.64v1.75h-6.64zM139.17 607.44h6.64v1.75h-6.64zM139.17 622.78h6.64v1.75h-6.64zM185.29 542.70h6.64v1.75h-6.64zM185.29 627.89h6.64v1.75h-6.64zM224.82 505.22h6.64v1.75h-6.64zM224.82 544.40h6.64v1.75h-6.64zM224.82 581.89h6.64v1.75h-6.64zM224.82 583.59h6.64v1.75h-6.64zM224.82 585.29h6.64v1.75h-6.64zM224.82 612.55h6.64v1.75h-6.64z" fill="#fff000"/>
<path d="M66.70 505.22h6.64v1.75h-6.64zM66.70 510.33h6.64v1.75h-6.64zM66.70 515.44h6.64v1.75h-6.64zM66.70 517.14h6.64v1.75h-6.64zM66.70 539.29h6.64v1.75h-6.64zM66.70 542.70h6.64v1.75h-6.64zM66.70 544.40h6.64v1.75h-6.64zM66.70 563.15h6.64v1.75h-6.64zM66.70 583.59h6.64v1.75h-6.64zM66.70 585.29h6.64v1.75h-6.64zM66.70 595.52h6.64v1.75h-6.64zM66.70 614.26h6.64v1.75h-6.64zM66.70 619.37h6.64v1.75h-6.64zM79.88 541.00h6.64v1.75h-6.64zM79.88 542.70h6.64v1.75h-6.64zM79.88 580.18h6.64v1.75h-6.64zM86.47 506.92h6.64v1.75h-6.64zM86.47 513.74h6.64v1.75h-6.64zM86.47 529.07h6.64v1.75h-6.64zM86.47 542.70h6.64v1.75h-6.64zM86.47 551.22h6.64v1.75h-6.64zM86.47 605.74h6.64v1.75h-6.64zM86.47 615.96h6.64v1.75h-6.64zM86.47 629.59h6.64v1.75h-6.64zM93.05 512.03h6.64v1.75h-6.64zM93.05 580.18h6.64v1.75h-6.64zM106.23 498.40h6.64v1.75h-6.64zM106.23 503.51h6.64v1.75h-6.64zM106.23 525.66h6.64v1.75h-6.64zM106.23 580.18h6.64v1.75h-6.64zM112.82 530.77h6.64v1.75h-6.64zM112.82 554.63h6.64v1.75h-6.64zM112.82 602.33h6.64v1.75h-6.64zM139.17 529.07h6.64v1.75h-6.64zM139.17 566.55h6.64v1.75h-6.64zM139.17 581.89h6.64v1.75h-6.64z" fill="#ffff46"/>
<path d="M66.70 506.92h6.64v1.75h-6.64zM66.70 617.67h6.64v1.75h-6.64zM73.29 525.66h6.64v1.75h-6.64zM73.29 542.70h6.64v1.75h-6.64zM73.29 547.81h6.64v1.75h-6.64zM73.29 556.33h6.64v1.75h-6.64zM73.29 559.74h6.64v1.75h-6.64zM73.29 581.89h6.64v1.75h-6.64zM79.88 617.67h6.64v1.75h-6.64zM79.88 627.89h6.64v1.75h-6.64zM86.47 520.55h6.64v1.75h-6.64zM86.47 535.89h6.64v1.75h-6.64zM93.05 506.92h6.64v1.75h-6.64zM93.05 520.55h6.64v1.75h-6.64zM93.05 547.81h6.64v1.75h-6.64zM93.05 556.33h6.64v1.75h-6.64zM93.05 583.59h6.64v1.75h-6.64zM99.64 498.40h6.64v1.75h-6.64zM99.64 522.26h6.64v1.75h-6.64zM99.64 532.48h6.64v1.75h-6.64zM99.64 537.59h6.64v1.75h-6.64zM99.64 556.33h6.64v1.75h-6.64zM99.64 593.81h6.64v1.75h-6.64zM99.64 615.96h6.64v1.75h-6.64zM99.64 626.18h6.64v1.75h-6.64zM99.64 629.59h6.64v1.75h-6.64zM106.23 523.96h6.64v1.75h-6.64zM106.23 627.89h6.64v1.75h-6.64zM112.82 498.40h6.64v1.75h-6.64zM112.82 518.85h6.64v1.75h-6.64zM112.82 549.52h6.64v1.75h-6.64zM112.82 593.81h6.64v1.75h-6.64zM112.82 604.04h6.64v1.75h-6.64zM112.82 619.37h6.64v1.75h-6.64zM119.41 498.40h6.64v1.75h-6.64zM119.41 508.63h6.64v1.75h-6.64zM119.41 513.74h6.64v1.75h-6.64zM119.41 527.37h6.64v1.75h-6.64zM119.41 534.18h6.64v1.75h-6.64zM119.41 569.96h6.64v1.75h-6.64zM119.41 578.48h6.64v1.75h-6.64zM119.41 585.29h6.64v1.75h-6.64zM119.41 595.52h6.64v1.75h-6.64zM119.41 604.04h6.64v1.75h-6.64zM119.41 614.26h6.64v1.75h-6.64zM119.41 622.78h6.64v1.75h-6.64zM126.00 535.89h6.64v1.75h-6.64zM126.00 558.03h6.64v1.75h-6.64zM126.00 621.07h6.64v1.75h-6.64zM132.58 564.85h6.64v1.75h-6.64zM132.58 568.26h6.64v1.75h-6.64zM139.17 527.37h6.64v1.75h-6.64zM139.17 534.18h6.64v1.75h-6.64zM139.17 571.66h6.64v1.75h-6.64zM139.17 595.52h6.64v1.75h-6.64zM185.29 534.18h6.64v1.75h-6.64zM185.29 535.89h6.64v1.75h-6.64zM185.29 564.85h6.64v1.75h-6.64zM185.29 581.89h6.64v1.75h-6.64zM185.29 610.85h6.64v1.75h-6.64zM185.29 614.26h6.64v1.75h-6.64zM205.06 583.59h6.64v1.75h-6.64zM224.82 496.70h6.64v1.75h-6.64zM224.82 512.03h6.64v1.75h-6.64zM224.82 513.74h6.64v1.75h-6.64zM224.82 546.11h6.64v1.75h-6.64zM224.82 615.96h6.64v1.75h-6.64z" fill="#ffd200"/>
<path d="M66.70 508.63h6.64v1.75h-6.64zM66.70 522.26h6.64v1.75h-6.64zM66.70 527.37h6.64v1.75h-6.64zM66.70 534.18h6.64v1.75h-6.64zM66.70 551.22h6.64v1.75h-6.64zM66.70 552.92h6.64v1.75h-6.64zM66.70 564.85h6.64v1.75h-6.64zM66.70 575.07h6.64v1.75h-6.64zM66.70 600.63h6.64v1.75h-6.64zM66.70 607.44h6.64v1.75h-6.64zM66.70 612.55h6.64v1.75h-6.64zM66.70 627.89h6.64v1.75h-6.64zM73.29 544.40h6.64v1.75h-6.64zM79.88 503.51h6.64v1.75h-6.64zM79.88 544.40h6.64v1.75h-6.64zM79.88 563.15h6.64v1.75h-6.64zM79.88 597.22h6.64v1.75h-6.64zM79.88 619.37h6.64v1.75h-6.64zM79.88 629.59h6.64v1.75h-6.64zM86.47 496.70h6.64v1.75h-6.64zM86.47 498.40h6.64v1.75h-6.64zM86.47 503.51h6.64v1.75h-6.64zM86.47 508.63h6.64v1.75h-6.64zM86.47 515.44h6.64v1.75h-6.64zM86.47 517.14h6.64v1.75h-6.64zM86.47 525.66h6.64v1.75h-6.64zM86.47 544.40h6.64v1.75h-6.64zM86.47 561.44h6.64v1.75h-6.64zM86.47 573.37h6.64v1.75h-6.64zM86.47 588.70h6.64v1.75h-6.64zM86.47 604.04h6.64v1.75h-6.64zM86.47 617.67h6.64v1.75h-6.64zM93.05 500.11h6.64v1.75h-6.64zM93.05 517.14h6.64v1.75h-6.64zM93.05 525.66h6.64v1.75h-6.64zM93.05 527.37h6.64v1.75h-6.64zM93.05 541.00h6.64v1.75h-6.64zM93.05 597.22h6.64v1.75h-6.64zM93.05 600.63h6.64v1.75h-6.64zM93.05 605.74h6.64v1.75h-6.64zM93.05 610.85h6.64v1.75h-6.64zM106.23 501.81h6.64v1.75h-6.64zM106.23 535.89h6.64v1.75h-6.64zM106.23 539.29h6.64v1.75h-6.64zM106.23 552.92h6.64v1.75h-6.64zM106.23 559.74h6.64v1.75h-6.64zM106.23 583.59h6.64v1.75h-6.64zM106.23 595.52h6.64v1.75h-6.64zM106.23 598.92h6.64v1.75h-6.64zM106.23 614.26h6.64v1.75h-6.64zM112.82 523.96h6.64v1.75h-6.64zM112.82 527.37h6.64v1.75h-6.64zM112.82 537.59h6.64v1.75h-6.64zM112.82 539.29h6.64v1.75h-6.64zM112.82 542.70h6.64v1.75h-6.64zM112.82 578.48h6.64v1.75h-6.64zM112.82 585.29h6.64v1.75h-6.64zM112.82 597.22h6.64v1.75h-6.64zM119.41 506.92h6.64v1.75h-6.64zM119.41 525.66h6.64v1.75h-6.64zM119.41 544.40h6.64v1.75h-6.64zM119.41 566.55h6.64v1.75h-6.64zM119.41 568.26h6.64v1.75h-6.64zM119.41 580.18h6.64v1.75h-6.64zM126.00 496.70h6.64v1.75h-6.64zM126.00 530.77h6.64v1.75h-6.64zM126.00 537.59h6.64v1.75h-6.64zM126.00 542.70h6.64v1.75h-6.64zM126.00 569.96h6.64v1.75h-6.64zM126.00 585.29h6.64v1.75h-6.64zM126.00 610.85h6.64v1.75h-6.64zM126.00 614.26h6.64v1.75h-6.64zM126.00 622.78h6.64v1.75h-6.64zM126.00 629.59h6.64v1.75h-6.64zM139.17 505.22h6.64v1.75h-6.64zM139.17 517.14h6.64v1.75h-6.64zM139.17 532.48h6.64v1.75h-6.64zM139.17 547.81h6.64v1.75h-6.64zM139.17 576.78h6.64v1.75h-6.64zM139.17 600.63h6.64v1.75h-6.64zM139.17 605.74h6.64v1.75h-6.64zM139.17 614.26h6.64v1.75h-6.64zM139.17 627.89h6.64v1.75h-6.64zM224.82 542.70h6.64v1.75h-6.64zM224.82 610.85h6.64v1.75h-6.64z" fill="#fff700"/>
<path d="M66.70 518.85h6.64v1.75h-6.64zM66.70 593.81h6.64v1.75h-6.64zM66.70 631.30h6.64v1.75h-6.64zM73.29 498.40h6.64v1.75h-6.64zM73.29 500.11h6.64v1.75h-6.64zM73.29 503.51h6.64v1.75h-6.64zM73.29 522.26h6.64v1.75h-6.64zM73.29 552.92h6.64v1.75h-6.64zM73.29 563.15h6.64v1.75h-6.64zM73.29 578.48h6.64v1.75h-6.64zM73.29 597.22h6.64v1.75h-6.64zM73.29 615.96h6.64v1.75h-6.64zM73.29 622.78h6.64v1.75h-6.64zM73.29 629.59h6.64v1.75h-6.64zM79.88 498.40h6.64v1.75h-6.64zM79.88 523.96h6.64v1.75h-6.64zM79.88 588.70h6.64v1.75h-6.64zM86.47 518.85h6.64v1.75h-6.64zM86.47 552.92h6.64v1.75h-6.64zM86.47 578.48h6.64v1.75h-6.64zM86.47 581.89h6.64v1.75h-6.64zM86.47 609.15h6.64v1.75h-6.64zM86.47 612.55h6.64v1.75h-6.64zM86.47 627.89h6.64v1.75h-6.64zM93.05 496.70h6.64v1.75h-6.64zM93.05 505.22h6.64v1.75h-6.64zM93.05 510.33h6.64v1.75h-6.64zM93.05 529.07h6.64v1.75h-6.64zM93.05 549.52h6.64v1.75h-6.64zM93.05 552.92h6.64v1.75h-6.64zM93.05 571.66h6.64v1.75h-6.64zM93.05 609.15h6.64v1.75h-6.64zM99.64 510.33h6.64v1.75h-6.64zM99.64 523.96h6.64v1.75h-6.64zM99.64 527.37h6.64v1.75h-6.64zM99.64 542.70h6.64v1.75h-6.64zM99.64 571.66h6.64v1.75h-6.64zM106.23 527.37h6.64v1.75h-6.64zM106.23 590.41h6.64v1.75h-6.64zM106.23 604.04h6.64v1.75h-6.64zM112.82 508.63h6.64v1.75h-6.64zM112.82 532.48h6.64v1.75h-6.64zM112.82 581.89h6.64v1.75h-6.64zM112.82 587.00h6.64v1.75h-6.64zM112.82 598.92h6.64v1.75h-6.64zM112.82 610.85h6.64v1.75h-6.64zM112.82 617.67h6.64v1.75h-6.64zM112.82 624.48h6.64v1.75h-6.64zM112.82 627.89h6.64v1.75h-6.64zM119.41 500.11h6.64v1.75h-6.64zM119.41 510.33h6.64v1.75h-6.64zM119.41 512.03h6.64v1.75h-6.64zM119.41 532.48h6.64v1.75h-6.64zM119.41 561.44h6.64v1.75h-6.64zM126.00 505.22h6.64v1.75h-6.64zM126.00 534.18h6.64v1.75h-6.64zM126.00 539.29h6.64v1.75h-6.64zM126.00 617.67h6.64v1.75h-6.64zM132.58 619.37h6.64v1.75h-6.64zM139.17 520.55h6.64v1.75h-6.64zM139.17 539.29h6.64v1.75h-6.64zM139.17 558.03h6.64v1.75h-6.64zM139.17 573.37h6.64v1.75h-6.64zM139.17 578.48h6.64v1.75h-6.64zM139.17 580.18h6.64v1.75h-6.64zM139.17 588.70h6.64v1.75h-6.64zM139.17 598.92h6.64v1.75h-6.64zM139.17 609.15h6.64v1.75h-6.64zM139.17 610.85h6.64v1.75h-6.64zM139.17 612.55h6.64v1.75h-6.64zM139.17 621.07h6.64v1.75h-6.64zM185.29 512.03h6.64v1.75h-6.64zM185.29 605.74h6.64v1.75h-6.64zM205.06 621.07h6.64v1.75h-6.64zM224.82 503.51h6.64v1.75h-6.64zM224.82 539.29h6.64v1.75h-6.64zM224.82 561.44h6.64v1.75h-6.64zM224.82 564.85h6.64v1.75h-6.64zM224.82 605.74h6.64v1.75h-6.64zM224.82 621.07h6.64v1.75h-6.64z" fill="#ffd900"/>
<path d="M66.70 520.55h6.64v1.75h-6.64zM66.70 549.52h6.64v1.75h-6.64zM66.70 558.03h6.64v1.75h-6.64zM66.70 571.66h6.64v1.75h-6.64zM66.70 604.04h6.64v1.75h-6.64zM73.29 532.48h6.64v1.75h-6.64zM73.29 566.55h6.64v1.75h-6.64zM73.29 619.37h6.64v1.75h-6.64zM79.88 501.81h6.64v1.75h-6.64zM79.88 505.22h6.64v1.75h-6.64zM79.88 604.04h6.64v1.75h-6.64zM79.88 607.44h6.64v1.75h-6.64zM86.47 505.22h6.64v1.75h-6.64zM86.47 549.52h6.64v1.75h-6.64zM86.47 576.78h6.64v1.75h-6.64zM86.47 580.18h6.64v1.75h-6.64zM86.47 598.92h6.64v1.75h-6.64zM86.47 610.85h6.64v1.75h-6.64zM86.47 614.26h6.64v1.75h-6.64zM93.05 518.85h6.64v1.75h-6.64zM93.05 534.18h6.64v1.75h-6.64zM93.05 573.37h6.64v1.75h-6.64zM93.05 578.48h6.64v1.75h-6.64zM93.05 588.70h6.64v1.75h-6.64zM93.05 621.07h6.64v1.75h-6.64zM93.05 627.89h6.64v1.75h-6.64zM99.64 496.70h6.64v1.75h-6.64zM99.64 592.11h6.64v1.75h-6.64zM99.64 602.33h6.64v1.75h-6.64zM99.64 621.07h6.64v1.75h-6.64zM99.64 624.48h6.64v1.75h-6.64zM99.64 631.30h6.64v1.75h-6.64zM106.23 505.22h6.64v1.75h-6.64zM106.23 534.18h6.64v1.75h-6.64zM106.23 569.96h6.64v1.75h-6.64zM106.23 629.59h6.64v1.75h-6.64zM112.82 496.70h6.64v1.75h-6.64zM112.82 520.55h6.64v1.75h-6.64zM112.82 534.18h6.64v1.75h-6.64zM112.82 561.44h6.64v1.75h-6.64zM112.82 588.70h6.64v1.75h-6.64zM112.82 592.11h6.64v1.75h-6.64zM112.82 600.63h6.64v1.75h-6.64zM112.82 612.55h6.64v1.75h-6.64zM112.82 614.26h6.64v1.75h-6.64zM112.82 631.30h6.64v1.75h-6.64zM119.41 496.70h6.64v1.75h-6.64zM119.41 503.51h6.64v1.75h-6.64zM119.41 517.14h6.64v1.75h-6.64zM119.41 518.85h6.64v1.75h-6.64zM119.41 522.26h6.64v1.75h-6.64zM119.41 530.77h6.64v1.75h-6.64zM119.41 537.59h6.64v1.75h-6.64zM119.41 546.11h6.64v1.75h-6.64zM119.41 551.22h6.64v1.75h-6.64zM119.41 571.66h6.64v1.75h-6.64zM119.41 583.59h6.64v1.75h-6.64zM119.41 600.63h6.64v1.75h-6.64zM119.41 610.85h6.64v1.75h-6.64zM119.41 615.96h6.64v1.75h-6.64zM119.41 621.07h6.64v1.75h-6.64zM119.41 627.89h6.64v1.75h-6.64zM119.41 631.30h6.64v1.75h-6.64zM126.00 500.11h6.64v1.75h-6.64zM126.00 506.92h6.64v1.75h-6.64zM126.00 508.63h6.64v1.75h-6.64zM126.00 518.85h6.64v1.75h-6.64zM126.00 568.26h6.64v1.75h-6.64zM126.00 576.78h6.64v1.75h-6.64zM126.00 592.11h6.64v1.75h-6.64zM126.00 597.22h6.64v1.75h-6.64zM126.00 615.96h6.64v1.75h-6.64zM126.00 624.48h6.64v1.75h-6.64zM139.17 496.70h6.64v1.75h-6.64zM139.17 510.33h6.64v1.75h-6.64zM139.17 552.92h6.64v1.75h-6.64zM139.17 556.33h6.64v1.75h-6.64zM139.17 575.07h6.64v1.75h-6.64zM139.17 587.00h6.64v1.75h-6.64zM139.17 592.11h6.64v1.75h-6.64zM139.17 593.81h6.64v1.75h-6.64zM139.17 604.04h6.64v1.75h-6.64zM139.17 624.48h6.64v1.75h-6.64zM185.29 583.59h6.64v1.75h-6.64zM224.82 518.85h6.64v1.75h-6.64zM224.82 547.81h6.64v1.75h-6.64zM224.82 556.33h6.64v1.75h-6.64zM224.82 569.96h6.64v1.75h-6.64zM224.82 614.26h6.64v1.75h-6.64z" fill="#ffe000"/>
<path d="M66.70 530.77h6.64v1.75h-6.64zM66.70 561.44h6.64v1.75h-6.64zM66.70 566.55h6.64v1.75h-6.64zM66.70 615.96h6.64v1.75h-6.64zM66.70 626.18h6.64v1.75h-6.64zM73.29 554.63h6.64v1.75h-6.64zM79.88 518.85h6.64v1.75h-6.64zM79.88 568.26h6.64v1.75h-6.64zM79.88 585.29h6.64v1.75h-6.64zM79.88 592.11h6.64v1.75h-6.64zM79.88 595.52h6.64v1.75h-6.64zM79.88 610.85h6.64v1.75h-6.64zM86.47 510.33h6.64v1.75h-6.64zM86.47 547.81h6.64v1.75h-6.64zM86.47 563.15h6.64v1.75h-6.64zM86.47 566.55h6.64v1.75h-6.64zM86.47 569.96h6.64v1.75h-6.64zM86.47 575.07h6.64v1.75h-6.64zM93.05 537.59h6.64v1.75h-6.64zM93.05 542.70h6.64v1.75h-6.64zM93.05 563.15h6.64v1.75h-6.64zM93.05 568.26h6.64v1.75h-6.64zM93.05 592.11h6.64v1.75h-6.64zM93.05 604.04h6.64v1.75h-6.64zM93.05 607.44h6.64v1.75h-6.64zM93.05 629.59h6.64v1.75h-6.64zM106.23 500.11h6.64v1.75h-6.64zM106.23 532.48h6.64v1.75h-6.64zM106.23 547.81h6.64v1.75h-6.64zM106.23 566.55h6.64v1.75h-6.64zM106.23 568.26h6.64v1.75h-6.64zM106.23 578.48h6.64v1.75h-6.64zM106.23 585.29h6.64v1.75h-6.64zM112.82 500.11h6.64v1.75h-6.64zM112.82 595.52h6.64v1.75h-6.64zM112.82 626.18h6.64v1.75h-6.64zM126.00 529.07h6.64v1.75h-6.64zM126.00 541.00h6.64v1.75h-6.64zM126.00 546.11h6.64v1.75h-6.64zM126.00 573.37h6.64v1.75h-6.64zM126.00 605.74h6.64v1.75h-6.64zM139.17 542.70h6.64v1.75h-6.64zM139.17 619.37h6.64v1.75h-6.64z" fill="#ffff17"/>
<path d="M66.70 532.48h6.64v1.75h-6.64zM66.70 547.81h6.64v1.75h-6.64zM66.70 568.26h6.64v1.75h-6.64zM66.70 602.33h6.64v1.75h-6.64zM66.70 624.48h6.64v1.75h-6.64zM79.88 512.03h6.64v1.75h-6.64zM79.88 556.33h6.64v1.75h-6.64zM79.88 558.03h6.64v1.75h-6.64zM79.88 600.63h6.64v1.75h-6.64zM79.88 614.26h6.64v1.75h-6.64zM86.47 556.33h6.64v1.75h-6.64zM93.05 566.55h6.64v1.75h-6.64zM106.23 537.59h6.64v1.75h-6.64zM106.23 556.33h6.64v1.75h-6.64zM106.23 581.89h6.64v1.75h-6.64zM126.00 580.18h6.64v1.75h-6.64zM126.00 631.30h6.64v1.75h-6.64z" fill="#ffff8c"/>
<path d="M66.70 537.59h6.64v1.75h-6.64zM66.70 554.63h6.64v1.75h-6.64zM66.70 573.37h6.64v1.75h-6.64zM66.70 578.48h6.64v1.75h-6.64zM66.70 592.11h6.64v1.75h-6.64zM66.70 598.92h6.64v1.75h-6.64zM66.70 605.74h6.64v1.75h-6.64zM79.88 517.14h6.64v1.75h-6.64zM79.88 537.59h6.64v1.75h-6.64zM79.88 551.22h6.64v1.75h-6.64zM79.88 569.96h6.64v1.75h-6.64zM79.88 605.74h6.64v1.75h-6.64zM86.47 500.11h6.64v1.75h-6.64zM86.47 523.96h6.64v1.75h-6.64zM86.47 602.33h6.64v1.75h-6.64zM106.23 512.03h6.64v1.75h-6.64zM106.23 522.26h6.64v1.75h-6.64zM126.00 547.81h6.64v1.75h-6.64zM126.00 554.63h6.64v1.75h-6.64zM139.17 544.40h6.64v1.75h-6.64z" fill="#ffff5d"/>
<path d="M66.70 576.78h6.64v1.75h-6.64zM66.70 587.00h6.64v1.75h-6.64zM79.88 539.29h6.64v1.75h-6.64zM79.88 573.37h6.64v1.75h-6.64zM79.88 575.07h6.64v1.75h-6.64zM79.88 576.78h6.64v1.75h-6.64zM79.88 578.48h6.64v1.75h-6.64zM79.88 581.89h6.64v1.75h-6.64zM79.88 624.48h6.64v1.75h-6.64zM86.47 559.74h6.64v1.75h-6.64zM86.47 564.85h6.64v1.75h-6.64zM86.47 590.41h6.64v1.75h-6.64zM93.05 522.26h6.64v1.75h-6.64zM93.05 561.44h6.64v1.75h-6.64zM93.05 564.85h6.64v1.75h-6.64zM93.05 598.92h6.64v1.75h-6.64zM93.05 615.96h6.64v1.75h-6.64zM93.05 622.78h6.64v1.75h-6.64zM99.64 505.22h6.64v1.75h-6.64zM99.64 544.40h6.64v1.75h-6.64zM99.64 622.78h6.64v1.75h-6.64zM106.23 496.70h6.64v1.75h-6.64zM106.23 506.92h6.64v1.75h-6.64zM106.23 510.33h6.64v1.75h-6.64zM106.23 541.00h6.64v1.75h-6.64zM106.23 544.40h6.64v1.75h-6.64zM106.23 546.11h6.64v1.75h-6.64zM106.23 551.22h6.64v1.75h-6.64zM106.23 561.44h6.64v1.75h-6.64zM106.23 588.70h6.64v1.75h-6.64zM106.23 607.44h6.64v1.75h-6.64zM106.23 609.15h6.64v1.75h-6.64zM106.23 612.55h6.64v1.75h-6.64zM106.23 619.37h6.64v1.75h-6.64zM112.82 501.81h6.64v1.75h-6.64zM112.82 512.03h6.64v1.75h-6.64zM112.82 529.07h6.64v1.75h-6.64zM112.82 546.11h6.64v1.75h-6.64zM112.82 547.81h6.64v1.75h-6.64zM112.82 551.22h6.64v1.75h-6.64zM112.82 559.74h6.64v1.75h-6.64zM112.82 563.15h6.64v1.75h-6.64zM112.82 566.55h6.64v1.75h-6.64zM112.82 575.07h6.64v1.75h-6.64zM112.82 576.78h6.64v1.75h-6.64zM112.82 605.74h6.64v1.75h-6.64zM112.82 615.96h6.64v1.75h-6.64zM112.82 621.07h6.64v1.75h-6.64zM119.41 523.96h6.64v1.75h-6.64zM119.41 554.63h6.64v1.75h-6.64zM119.41 581.89h6.64v1.75h-6.64zM119.41 619.37h6.64v1.75h-6.64zM119.41 626.18h6.64v1.75h-6.64zM119.41 629.59h6.64v1.75h-6.64zM126.00 523.96h6.64v1.75h-6.64zM126.00 559.74h6.64v1.75h-6.64zM126.00 561.44h6.64v1.75h-6.64zM126.00 578.48h6.64v1.75h-6.64zM126.00 600.63h6.64v1.75h-6.64zM126.00 627.89h6.64v1.75h-6.64zM139.17 512.03h6.64v1.75h-6.64zM139.17 518.85h6.64v1.75h-6.64zM139.17 523.96h6.64v1.75h-6.64zM139.17 530.77h6.64v1.75h-6.64zM139.17 546.11h6.64v1.75h-6.64zM139.17 563.15h6.64v1.75h-6.64zM139.17 564.85h6.64v1.75h-6.64zM139.17 569.96h6.64v1.75h-6.64zM139.17 602.33h6.64v1.75h-6.64zM139.17 615.96h6.64v1.75h-6.64zM139.17 626.18h6.64v1.75h-6.64zM185.29 518.85h6.64v1.75h-6.64zM185.29 525.66h6.64v1.75h-6.64zM185.29 544.40h6.64v1.75h-6.64zM185.29 590.41h6.64v1.75h-6.64zM185.29 615.96h6.64v1.75h-6.64zM224.82 554.63h6.64v1.75h-6.64zM224.82 609.15h6.64v1.75h-6.64zM224.82 622.78h6.64v1.75h-6.64z" fill="#ffe800"/>
<path d="M66.70 609.15h6.64v1.75h-6.64zM73.29 496.70h6.64v1.75h-6.64zM73.29 501.81h6.64v1.75h-6.64zM73.29 506.92h6.64v1.75h-6.64zM73.29 512.03h6.64v1.75h-6.64zM73.29 539.29h6.64v1.75h-6.64zM73.29 551.22h6.64v1.75h-6.64zM73.29 593.81h6.64v1.75h-6.64zM73.29 598.92h6.64v1.75h-6.64zM73.29 617.67h6.64v1.75h-6.64zM73.29 626.18h6.64v1.75h-6.64zM86.47 571.66h6.64v1.75h-6.64zM93.05 498.40h6.64v1.75h-6.64zM93.05 513.74h6.64v1.75h-6.64zM93.05 515.44h6.64v1.75h-6.64zM93.05 539.29h6.64v1.75h-6.64zM93.05 587.00h6.64v1.75h-6.64zM99.64 506.92h6.64v1.75h-6.64zM99.64 515.44h6.64v1.75h-6.64zM99.64 552.92h6.64v1.75h-6.64zM99.64 563.15h6.64v1.75h-6.64zM99.64 609.15h6.64v1.75h-6.64zM106.23 520.55h6.64v1.75h-6.64zM106.23 571.66h6.64v1.75h-6.64zM106.23 587.00h6.64v1.75h-6.64zM112.82 503.51h6.64v1.75h-6.64zM112.82 541.00h6.64v1.75h-6.64zM112.82 552.92h6.64v1.75h-6.64zM112.82 580.18h6.64v1.75h-6.64zM119.41 552.92h6.64v1.75h-6.64zM119.41 590.41h6.64v1.75h-6.64zM119.41 609.15h6.64v1.75h-6.64zM126.00 503.51h6.64v1.75h-6.64zM126.00 520.55h6.64v1.75h-6.64zM126.00 549.52h6.64v1.75h-6.64zM126.00 563.15h6.64v1.75h-6.64zM132.58 539.29h6.64v1.75h-6.64zM132.58 542.70h6.64v1.75h-6.64zM132.58 561.44h6.64v1.75h-6.64zM139.17 513.74h6.64v1.75h-6.64zM139.17 597.22h6.64v1.75h-6.64zM185.29 496.70h6.64v1.75h-6.64zM185.29 498.40h6.64v1.75h-6.64zM185.29 501.81h6.64v1.75h-6.64zM185.29 517.14h6.64v1.75h-6.64zM185.29 554.63h6.64v1.75h-6.64zM185.29 559.74h6.64v1.75h-6.64zM185.29 563.15h6.64v1.75h-6.64zM185.29 569.96h6.64v1.75h-6.64zM185.29 588.70h6.64v1.75h-6.64zM185.29 621.07h6.64v1.75h-6.64zM185.29 624.48h6.64v1.75h-6.64zM191.88 554.63h6.64v1.75h-6.64zM191.88 619.37h6.64v1.75h-6.64zM205.06 542.70h6.64v1.75h-6.64zM205.06 607.44h6.64v1.75h-6.64zM205.06 631.30h6.64v1.75h-6.64zM224.82 532.48h6.64v1.75h-6.64zM224.82 535.89h6.64v1.75h-6.64zM224.82 597.22h6.64v1.75h-6.64zM224.82 598.92h6.64v1.75h-6.64zM224.82 626.18h6.64v1.75h-6.64z" fill="#ffc300"/>
<path d="M73.29 505.22h6.64v1.75h-6.64zM73.29 513.74h6.64v1.75h-6.64zM73.29 529.07h6.64v1.75h-6.64zM73.29 535.89h6.64v1.75h-6.64zM73.29 564.85h6.64v1.75h-6.64zM73.29 568.26h6.64v1.75h-6.64zM73.29 575.07h6.64v1.75h-6.64zM73.29 585.29h6.64v1.75h-6.64zM73.29 602.33h6.64v1.75h-6.64zM73.29 609.15h6.64v1.75h-6.64zM99.64 501.81h6.64v1.75h-6.64zM99.64 503.51h6.64v1.75h-6.64zM99.64 534.18h6.64v1.75h-6.64zM99.64 546.11h6.64v1.75h-6.64zM99.64 568.26h6.64v1.75h-6.64zM99.64 583.59h6.64v1.75h-6.64zM99.64 588.70h6.64v1.75h-6.64zM99.64 607.44h6.64v1.75h-6.64zM119.41 520.55h6.64v1.75h-6.64zM119.41 541.00h6.64v1.75h-6.64zM119.41 558.03h6.64v1.75h-6.64zM119.41 563.15h6.64v1.75h-6.64zM119.41 598.92h6.64v1.75h-6.64zM119.41 612.55h6.64v1.75h-6.64zM132.58 503.51h6.64v1.75h-6.64zM132.58 522.26h6.64v1.75h-6.64zM132.58 532.48h6.64v1.75h-6.64zM132.58 535.89h6.64v1.75h-6.64zM132.58 547.81h6.64v1.75h-6.64zM132.58 575.07h6.64v1.75h-6.64zM132.58 585.29h6.64v1.75h-6.64zM132.58 592.11h6.64v1.75h-6.64zM132.58 593.81h6.64v1.75h-6.64zM132.58 631.30h6.64v1.75h-6.64zM139.17 503.51h6.64v1.75h-6.64zM172.12 583.59h6.64v1.75h-6.64zM178.70 542.70h6.64v1.75h-6.64zM178.70 624.48h6.64v1.75h-6.64zM185.29 515.44h6.64v1.75h-6.64zM185.29 522.26h6.64v1.75h-6.64zM185.29 527.37h6.64v1.75h-6.64zM185.29 578.48h6.64v1.75h-6.64zM185.29 612.55h6.64v1.75h-6.64zM191.88 500.11h6.64v1.75h-6.64zM191.88 518.85h6.64v1.75h-6.64zM191.88 581.89h6.64v1.75h-6.64zM191.88 627.89h6.64v1.75h-6.64zM198.47 554.63h6.64v1.75h-6.64zM198.47 583.59h6.64v1.75h-6.64zM205.06 498.40h6.64v1.75h-6.64zM205.06 522.26h6.64v1.75h-6.64zM205.06 535.89h6.64v1.75h-6.64zM205.06 564.85h6.64v1.75h-6.64zM205.06 627.89h6.64v1.75h-6.64zM211.65 518.85h6.64v1.75h-6.64zM211.65 554.63h6.64v1.75h-6.64zM211.65 585.29h6.64v1.75h-6.64zM211.65 592.11h6.64v1.75h-6.64zM218.23 583.59h6.64v1.75h-6.64zM224.82 522.26h6.64v1.75h-6.64zM224.82 530.77h6.64v1.75h-6.64zM224.82 537.59h6.64v1.75h-6.64zM224.82 568.26h6.64v1.75h-6.64zM224.82 571.66h6.64v1.75h-6.64zM224.82 576.78h6.64v1.75h-6.64zM224.82 588.70h6.64v1.75h-6.64zM224.82 617.67h6.64v1.75h-6.64zM224.82 631.30h6.64v1.75h-6.64zM231.41 544.40h6.64v1.75h-6.64zM231.41 556.33h6.64v1.75h-6.64zM231.41 600.63h6.64v1.75h-6.64z" fill="#ffac00"/>
<path d="M73.29 508.63h6.64v1.75h-6.64zM73.29 518.85h6.64v1.75h-6.64zM73.29 527.37h6.64v1.75h-6.64zM73.29 571.66h6.64v1.75h-6.64zM73.29 600.63h6.64v1.75h-6.64zM79.88 527.37h6.64v1.75h-6.64zM86.47 527.37h6.64v1.75h-6.64zM93.05 503.51h6.64v1.75h-6.64zM93.05 551.22h6.64v1.75h-6.64zM99.64 520.55h6.64v1.75h-6.64zM99.64 525.66h6.64v1.75h-6.64zM99.64 535.89h6.64v1.75h-6.64zM99.64 539.29h6.64v1.75h-6.64zM99.64 554.63h6.64v1.75h-6.64zM99.64 569.96h6.64v1.75h-6.64zM99.64 575.07h6.64v1.75h-6.64zM99.64 578.48h6.64v1.75h-6.64zM99.64 614.26h6.64v1.75h-6.64zM112.82 609.15h6.64v1.75h-6.64zM119.41 564.85h6.64v1.75h-6.64zM119.41 573.37h6.64v1.75h-6.64zM119.41 593.81h6.64v1.75h-6.64zM119.41 607.44h6.64v1.75h-6.64zM119.41 617.67h6.64v1.75h-6.64zM126.00 510.33h6.64v1.75h-6.64zM126.00 588.70h6.64v1.75h-6.64zM126.00 609.15h6.64v1.75h-6.64zM132.58 580.18h6.64v1.75h-6.64zM132.58 602.33h6.64v1.75h-6.64zM139.17 500.11h6.64v1.75h-6.64zM139.17 515.44h6.64v1.75h-6.64zM139.17 549.52h6.64v1.75h-6.64zM139.17 551.22h6.64v1.75h-6.64zM172.12 590.41h6.64v1.75h-6.64zM178.70 583.59h6.64v1.75h-6.64zM185.29 510.33h6.64v1.75h-6.64zM185.29 529.07h6.64v1.75h-6.64zM185.29 539.29h6.64v1.75h-6.64zM185.29 561.44h6.64v1.75h-6.64zM185.29 592.11h6.64v1.75h-6.64zM185.29 598.92h6.64v1.75h-6.64zM185.29 600.63h6.64v1.75h-6.64zM185.29 609.15h6.64v1.75h-6.64zM185.29 617.67h6.64v1.75h-6.64zM198.47 496.70h6.64v1.75h-6.64zM198.47 542.70h6.64v1.75h-6.64zM198.47 614.26h6.64v1.75h-6.64zM198.47 619.37h6.64v1.75h-6.64zM205.06 547.81h6.64v1.75h-6.64zM205.06 605.74h6.64v1.75h-6.64zM205.06 610.85h6.64v1.75h-6.64zM211.65 619.37h6.64v1.75h-6.64zM224.82 498.40h6.64v1.75h-6.64zM224.82 517.14h6.64v1.75h-6.64zM224.82 523.96h6.64v1.75h-6.64zM224.82 529.07h6.64v1.75h-6.64zM224.82 541.00h6.64v1.75h-6.64zM224.82 559.74h6.64v1.75h-6.64zM224.82 563.15h6.64v1.75h-6.64zM224.82 627.89h6.64v1.75h-6.64zM224.82 629.59h6.64v1.75h-6.64zM231.41 518.85h6.64v1.75h-6.64zM231.41 583.59h6.64v1.75h-6.64zM231.41 610.85h6.64v1.75h-6.64zM231.41 619.37h6.64v1.75h-6.64z" fill="#ffbb00"/>
<path d="M73.29 510.33h6.64v1.75h-6.64zM73.29 523.96h6.64v1.75h-6.64zM73.29 530.77h6.64v1.75h-6.64zM73.29 546.11h6.64v1.75h-6.64zM73.29 558.03h6.64v1.75h-6.64zM73.29 580.18h6.64v1.75h-6.64zM73.29 583.59h6.64v1.75h-6.64zM73.29 588.70h6.64v1.75h-6.64zM73.29 605.74h6.64v1.75h-6.64zM73.29 607.44h6.64v1.75h-6.64zM73.29 614.26h6.64v1.75h-6.64zM73.29 621.07h6.64v1.75h-6.64zM93.05 558.03h6.64v1.75h-6.64zM99.64 513.74h6.64v1.75h-6.64zM99.64 517.14h6.64v1.75h-6.64zM99.64 518.85h6.64v1.75h-6.64zM99.64 529.07h6.64v1.75h-6.64zM99.64 559.74h6.64v1.75h-6.64zM99.64 566.55h6.64v1.75h-6.64zM99.64 573.37h6.64v1.75h-6.64zM99.64 580.18h6.64v1.75h-6.64zM99.64 585.29h6.64v1.75h-6.64zM99.64 587.00h6.64v1.75h-6.64zM99.64 590.41h6.64v1.75h-6.64zM99.64 595.52h6.64v1.75h-6.64zM99.64 598.92h6.64v1.75h-6.64zM99.64 604.04h6.64v1.75h-6.64zM99.64 617.67h6.64v1.75h-6.64zM99.64 627.89h6.64v1.75h-6.64zM112.82 515.44h6.64v1.75h-6.64zM119.41 515.44h6.64v1.75h-6.64zM119.41 549.52h6.64v1.75h-6.64zM119.41 597.22h6.64v1.75h-6.64zM126.00 552.92h6.64v1.75h-6.64zM126.00 593.81h6.64v1.75h-6.64zM132.58 496.70h6.64v1.75h-6.64zM132.58 500.11h6.64v1.75h-6.64zM132.58 515.44h6.64v1.75h-6.64zM132.58 523.96h6.64v1.75h-6.64zM132.58 541.00h6.64v1.75h-6.64zM132.58 554.63h6.64v1.75h-6.64zM132.58 556.33h6.64v1.75h-6.64zM132.58 559.74h6.64v1.75h-6.64zM132.58 566.55h6.64v1.75h-6.64zM132.58 576.78h6.64v1.75h-6.64zM132.58 578.48h6.64v1.75h-6.64zM132.58 600.63h6.64v1.75h-6.64zM132.58 605.74h6.64v1.75h-6.64zM132.58 615.96h6.64v1.75h-6.64zM139.17 501.81h6.64v1.75h-6.64zM139.17 617.67h6.64v1.75h-6.64zM185.29 500.11h6.64v1.75h-6.64zM185.29 503.51h6.64v1.75h-6.64zM185.29 520.55h6.64v1.75h-6.64zM185.29 530.77h6.64v1.75h-6.64zM185.29 576.78h6.64v1.75h-6.64zM185.29 626.18h6.64v1.75h-6.64zM191.88 605.74h6.64v1.75h-6.64zM198.47 544.40h6.64v1.75h-6.64zM198.47 604.04h6.64v1.75h-6.64zM198.47 621.07h6.64v1.75h-6.64zM205.06 496.70h6.64v1.75h-6.64zM205.06 544.40h6.64v1.75h-6.64zM205.06 554.63h6.64v1.75h-6.64zM205.06 575.07h6.64v1.75h-6.64zM205.06 595.52h6.64v1.75h-6.64zM205.06 614.26h6.64v1.75h-6.64zM205.06 615.96h6.64v1.75h-6.64zM205.06 619.37h6.64v1.75h-6.64zM211.65 583.59h6.64v1.75h-6.64zM211.65 604.04h6.64v1.75h-6.64zM224.82 500.11h6.64v1.75h-6.64zM224.82 501.81h6.64v1.75h-6.64zM224.82 515.44h6.64v1.75h-6.64zM224.82 534.18h6.64v1.75h-6.64zM224.82 587.00h6.64v1.75h-6.64zM224.82 604.04h6.64v1.75h-6.64zM224.82 624.48h6.64v1.75h-6.64zM231.41 527.37h6.64v1.75h-6.64zM231.41 554.63h6.64v1.75h-6.64z" fill="#ffb300"/>
<path d="M73.29 515.44h6.64v1.75h-6.64zM73.29 534.18h6.64v1.75h-6.64zM73.29 549.52h6.64v1.75h-6.64zM73.29 631.30h6.64v1.75h-6.64zM99.64 508.63h6.64v1.75h-6.64zM99.64 530.77h6.64v1.75h-6.64zM99.64 541.00h6.64v1.75h-6.64zM99.64 551.22h6.64v1.75h-6.64zM99.64 564.85h6.64v1.75h-6.64zM99.64 581.89h6.64v1.75h-6.64zM99.64 610.85h6.64v1.75h-6.64zM119.41 505.22h6.64v1.75h-6.64zM119.41 624.48h6.64v1.75h-6.64zM132.58 501.81h6.64v1.75h-6.64zM132.58 517.14h6.64v1.75h-6.64zM132.58 537.59h6.64v1.75h-6.64zM132.58 573.37h6.64v1.75h-6.64zM132.58 621.07h6.64v1.75h-6.64zM145.76 619.37h6.64v1.75h-6.64zM178.70 503.51h6.64v1.75h-6.64zM178.70 544.40h6.64v1.75h-6.64zM178.70 585.29h6.64v1.75h-6.64zM178.70 592.11h6.64v1.75h-6.64zM178.70 619.37h6.64v1.75h-6.64zM185.29 505.22h6.64v1.75h-6.64zM185.29 508.63h6.64v1.75h-6.64zM185.29 537.59h6.64v1.75h-6.64zM185.29 556.33h6.64v1.75h-6.64zM185.29 597.22h6.64v1.75h-6.64zM185.29 631.30h6.64v1.75h-6.64zM191.88 510.33h6.64v1.75h-6.64zM191.88 544.40h6.64v1.75h-6.64zM191.88 585.29h6.64v1.75h-6.64zM191.88 600.63h6.64v1.75h-6.64zM191.88 614.26h6.64v1.75h-6.64zM198.47 522.26h6.64v1.75h-6.64zM198.47 592.11h6.64v1.75h-6.64zM198.47 605.74h6.64v1.75h-6.64zM198.47 609.15h6.64v1.75h-6.64zM205.06 510.33h6.64v1.75h-6.64zM205.06 513.74h6.64v1.75h-6.64zM205.06 546.11h6.64v1.75h-6.64zM205.06 592.11h6.64v1.75h-6.64zM205.06 600.63h6.64v1.75h-6.64zM205.06 629.59h6.64v1.75h-6.64zM211.65 544.40h6.64v1.75h-6.64zM211.65 564.85h6.64v1.75h-6.64zM211.65 605.74h6.64v1.75h-6.64zM211.65 622.78h6.64v1.75h-6.64zM211.65 626.18h6.64v1.75h-6.64zM224.82 508.63h6.64v1.75h-6.64zM224.82 525.66h6.64v1.75h-6.64zM224.82 551.22h6.64v1.75h-6.64zM224.82 558.03h6.64v1.75h-6.64zM224.82 573.37h6.64v1.75h-6.64zM224.82 602.33h6.64v1.75h-6.64zM231.41 542.70h6.64v1.75h-6.64zM231.41 624.48h6.64v1.75h-6.64z" fill="#ffa500"/>
<path d="M73.29 517.14h6.64v1.75h-6.64zM73.29 537.59h6.64v1.75h-6.64zM73.29 541.00h6.64v1.75h-6.64zM73.29 561.44h6.64v1.75h-6.64zM73.29 569.96h6.64v1.75h-6.64zM73.29 576.78h6.64v1.75h-6.64zM73.29 627.89h6.64v1.75h-6.64zM79.88 515.44h6.64v1.75h-6.64zM79.88 612.55h6.64v1.75h-6.64zM86.47 585.29h6.64v1.75h-6.64zM86.47 587.00h6.64v1.75h-6.64zM86.47 607.44h6.64v1.75h-6.64zM86.47 631.30h6.64v1.75h-6.64zM93.05 501.81h6.64v1.75h-6.64zM93.05 535.89h6.64v1.75h-6.64zM93.05 544.40h6.64v1.75h-6.64zM93.05 576.78h6.64v1.75h-6.64zM93.05 631.30h6.64v1.75h-6.64zM99.64 512.03h6.64v1.75h-6.64zM99.64 549.52h6.64v1.75h-6.64zM99.64 600.63h6.64v1.75h-6.64zM106.23 513.74h6.64v1.75h-6.64zM106.23 515.44h6.64v1.75h-6.64zM106.23 558.03h6.64v1.75h-6.64zM106.23 610.85h6.64v1.75h-6.64zM106.23 617.67h6.64v1.75h-6.64zM112.82 510.33h6.64v1.75h-6.64zM112.82 558.03h6.64v1.75h-6.64zM112.82 573.37h6.64v1.75h-6.64zM119.41 535.89h6.64v1.75h-6.64zM119.41 559.74h6.64v1.75h-6.64zM119.41 576.78h6.64v1.75h-6.64zM126.00 556.33h6.64v1.75h-6.64zM126.00 564.85h6.64v1.75h-6.64zM126.00 612.55h6.64v1.75h-6.64zM132.58 506.92h6.64v1.75h-6.64zM132.58 569.96h6.64v1.75h-6.64zM139.17 508.63h6.64v1.75h-6.64zM139.17 535.89h6.64v1.75h-6.64zM139.17 541.00h6.64v1.75h-6.64zM139.17 559.74h6.64v1.75h-6.64zM139.17 568.26h6.64v1.75h-6.64zM139.17 590.41h6.64v1.75h-6.64zM139.17 631.30h6.64v1.75h-6.64zM185.29 541.00h6.64v1.75h-6.64zM185.29 575.07h6.64v1.75h-6.64zM185.29 585.29h6.64v1.75h-6.64zM185.29 595.52h6.64v1.75h-6.64zM185.29 604.04h6.64v1.75h-6.64zM185.29 619.37h6.64v1.75h-6.64zM185.29 622.78h6.64v1.75h-6.64zM191.88 583.59h6.64v1.75h-6.64zM205.06 518.85h6.64v1.75h-6.64zM205.06 569.96h6.64v1.75h-6.64zM205.06 624.48h6.64v1.75h-6.64zM224.82 527.37h6.64v1.75h-6.64zM224.82 575.07h6.64v1.75h-6.64zM224.82 578.48h6.64v1.75h-6.64zM224.82 590.41h6.64v1.75h-6.64zM224.82 595.52h6.64v1.75h-6.64zM224.82 600.63h6.64v1.75h-6.64zM224.82 607.44h6.64v1.75h-6.64zM231.41 592.11h6.64v1.75h-6.64z" fill="#ffca00"/>
<path d="M73.29 520.55h6.64v1.75h-6.64zM73.29 587.00h6.64v1.75h-6.64zM93.05 612.55h6.64v1.75h-6.64zM132.58 510.33h6.64v1.75h-6.64zM132.58 513.74h6.64v1.75h-6.64zM132.58 558.03h6.64v1.75h-6.64zM132.58 583.59h6.64v1.75h-6.64zM132.58 590.41h6.64v1.75h-6.64zM132.58 597.22h6.64v1.75h-6.64zM145.76 554.63h6.64v1.75h-6.64zM158.94 592.11h6.64v1.75h-6.64zM178.70 500.11h6.64v1.75h-6.64zM178.70 505.22h6.64v1.75h-6.64zM178.70 535.89h6.64v1.75h-6.64zM178.70 554.63h6.64v1.75h-6.64zM178.70 559.74h6.64v1.75h-6.64zM178.70 564.85h6.64v1.75h-6.64zM178.70 610.85h6.64v1.75h-6.64zM185.29 513.74h6.64v1.75h-6.64zM185.29 532.48h6.64v1.75h-6.64zM185.29 549.52h6.64v1.75h-6.64zM185.29 558.03h6.64v1.75h-6.64zM185.29 566.55h6.64v1.75h-6.64zM185.29 593.81h6.64v1.75h-6.64zM191.88 498.40h6.64v1.75h-6.64zM191.88 503.51h6.64v1.75h-6.64zM191.88 515.44h6.64v1.75h-6.64zM191.88 569.96h6.64v1.75h-6.64zM191.88 573.37h6.64v1.75h-6.64zM191.88 578.48h6.64v1.75h-6.64zM191.88 626.18h6.64v1.75h-6.64zM191.88 629.59h6.64v1.75h-6.64zM198.47 517.14h6.64v1.75h-6.64zM198.47 518.85h6.64v1.75h-6.64zM198.47 546.11h6.64v1.75h-6.64zM198.47 566.55h6.64v1.75h-6.64zM198.47 587.00h6.64v1.75h-6.64zM198.47 600.63h6.64v1.75h-6.64zM198.47 627.89h6.64v1.75h-6.64zM205.06 508.63h6.64v1.75h-6.64zM205.06 563.15h6.64v1.75h-6.64zM205.06 578.48h6.64v1.75h-6.64zM211.65 542.70h6.64v1.75h-6.64zM211.65 581.89h6.64v1.75h-6.64zM211.65 621.07h6.64v1.75h-6.64zM218.23 619.37h6.64v1.75h-6.64zM224.82 552.92h6.64v1.75h-6.64zM231.41 515.44h6.64v1.75h-6.64zM231.41 529.07h6.64v1.75h-6.64zM231.41 541.00h6.64v1.75h-6.64zM231.41 585.29h6.64v1.75h-6.64zM231.41 595.52h6.64v1.75h-6.64zM231.41 605.74h6.64v1.75h-6.64zM231.41 607.44h6.64v1.75h-6.64zM231.41 614.26h6.64v1.75h-6.64zM231.41 617.67h6.64v1.75h-6.64zM231.41 621.07h6.64v1.75h-6.64z" fill="#ff8e00"/>
<path d="M73.29 590.41h6.64v1.75h-6.64zM73.29 595.52h6.64v1.75h-6.64zM73.29 604.04h6.64v1.75h-6.64zM99.64 558.03h6.64v1.75h-6.64zM99.64 561.44h6.64v1.75h-6.64zM99.64 576.78h6.64v1.75h-6.64zM99.64 597.22h6.64v1.75h-6.64zM119.41 539.29h6.64v1.75h-6.64zM119.41 587.00h6.64v1.75h-6.64zM119.41 588.70h6.64v1.75h-6.64zM132.58 498.40h6.64v1.75h-6.64zM132.58 525.66h6.64v1.75h-6.64zM132.58 530.77h6.64v1.75h-6.64zM132.58 544.40h6.64v1.75h-6.64zM132.58 595.52h6.64v1.75h-6.64zM132.58 612.55h6.64v1.75h-6.64zM132.58 622.78h6.64v1.75h-6.64zM158.94 610.85h6.64v1.75h-6.64zM165.53 590.41h6.64v1.75h-6.64zM178.70 534.18h6.64v1.75h-6.64zM178.70 569.96h6.64v1.75h-6.64zM178.70 581.89h6.64v1.75h-6.64zM178.70 593.81h6.64v1.75h-6.64zM178.70 614.26h6.64v1.75h-6.64zM178.70 621.07h6.64v1.75h-6.64zM178.70 627.89h6.64v1.75h-6.64zM178.70 629.59h6.64v1.75h-6.64zM178.70 631.30h6.64v1.75h-6.64zM185.29 506.92h6.64v1.75h-6.64zM185.29 547.81h6.64v1.75h-6.64zM185.29 568.26h6.64v1.75h-6.64zM185.29 571.66h6.64v1.75h-6.64zM185.29 587.00h6.64v1.75h-6.64zM191.88 505.22h6.64v1.75h-6.64zM191.88 534.18h6.64v1.75h-6.64zM191.88 547.81h6.64v1.75h-6.64zM191.88 571.66h6.64v1.75h-6.64zM191.88 610.85h6.64v1.75h-6.64zM191.88 612.55h6.64v1.75h-6.64zM191.88 622.78h6.64v1.75h-6.64zM198.47 498.40h6.64v1.75h-6.64zM198.47 503.51h6.64v1.75h-6.64zM198.47 527.37h6.64v1.75h-6.64zM198.47 569.96h6.64v1.75h-6.64zM205.06 503.51h6.64v1.75h-6.64zM205.06 505.22h6.64v1.75h-6.64zM205.06 527.37h6.64v1.75h-6.64zM205.06 568.26h6.64v1.75h-6.64zM205.06 571.66h6.64v1.75h-6.64zM205.06 581.89h6.64v1.75h-6.64zM205.06 585.29h6.64v1.75h-6.64zM211.65 520.55h6.64v1.75h-6.64zM211.65 614.26h6.64v1.75h-6.64zM224.82 510.33h6.64v1.75h-6.64zM224.82 580.18h6.64v1.75h-6.64zM224.82 593.81h6.64v1.75h-6.64zM231.41 539.29h6.64v1.75h-6.64zM231.41 564.85h6.64v1.75h-6.64zM231.41 568.26h6.64v1.75h-6.64zM231.41 571.66h6.64v1.75h-6.64z" fill="#ff9d00"/>
<path d="M73.29 592.11h6.64v1.75h-6.64zM99.64 612.55h6.64v1.75h-6.64zM126.00 515.44h6.64v1.75h-6.64zM132.58 508.63h6.64v1.75h-6.64zM132.58 512.03h6.64v1.75h-6.64zM132.58 527.37h6.64v1.75h-6.64zM132.58 546.11h6.64v1.75h-6.64zM132.58 551.22h6.64v1.75h-6.64zM132.58 563.15h6.64v1.75h-6.64zM132.58 604.04h6.64v1.75h-6.64zM132.58 607.44h6.64v1.75h-6.64zM132.58 610.85h6.64v1.75h-6.64zM132.58 617.67h6.64v1.75h-6.64zM158.94 569.96h6.64v1.75h-6.64zM172.12 624.48h6.64v1.75h-6.64zM178.70 496.70h6.64v1.75h-6.64zM178.70 520.55h6.64v1.75h-6.64zM178.70 539.29h6.64v1.75h-6.64zM178.70 587.00h6.64v1.75h-6.64zM178.70 604.04h6.64v1.75h-6.64zM178.70 609.15h6.64v1.75h-6.64zM178.70 612.55h6.64v1.75h-6.64zM178.70 615.96h6.64v1.75h-6.64zM185.29 546.11h6.64v1.75h-6.64zM185.29 607.44h6.64v1.75h-6.64zM191.88 529.07h6.64v1.75h-6.64zM191.88 542.70h6.64v1.75h-6.64zM191.88 564.85h6.64v1.75h-6.64zM191.88 590.41h6.64v1.75h-6.64zM191.88 609.15h6.64v1.75h-6.64zM191.88 617.67h6.64v1.75h-6.64zM191.88 624.48h6.64v1.75h-6.64zM191.88 631.30h6.64v1.75h-6.64zM198.47 512.03h6.64v1.75h-6.64zM198.47 520.55h6.64v1.75h-6.64zM198.47 564.85h6.64v1.75h-6.64zM198.47 585.29h6.64v1.75h-6.64zM198.47 595.52h6.64v1.75h-6.64zM198.47 615.96h6.64v1.75h-6.64zM205.06 512.03h6.64v1.75h-6.64zM205.06 523.96h6.64v1.75h-6.64zM205.06 525.66h6.64v1.75h-6.64zM205.06 534.18h6.64v1.75h-6.64zM205.06 556.33h6.64v1.75h-6.64zM205.06 559.74h6.64v1.75h-6.64zM205.06 590.41h6.64v1.75h-6.64zM205.06 609.15h6.64v1.75h-6.64zM205.06 617.67h6.64v1.75h-6.64zM211.65 569.96h6.64v1.75h-6.64zM211.65 571.66h6.64v1.75h-6.64zM211.65 587.00h6.64v1.75h-6.64zM211.65 590.41h6.64v1.75h-6.64zM211.65 595.52h6.64v1.75h-6.64zM211.65 607.44h6.64v1.75h-6.64zM211.65 617.67h6.64v1.75h-6.64zM211.65 624.48h6.64v1.75h-6.64zM218.23 542.70h6.64v1.75h-6.64zM224.82 506.92h6.64v1.75h-6.64zM224.82 520.55h6.64v1.75h-6.64zM231.41 503.51h6.64v1.75h-6.64zM231.41 523.96h6.64v1.75h-6.64zM231.41 575.07h6.64v1.75h-6.64zM231.41 576.78h6.64v1.75h-6.64z" fill="#ff9600"/>
<path d="M73.29 612.55h6.64v1.75h-6.64zM99.64 500.11h6.64v1.75h-6.64zM132.58 505.22h6.64v1.75h-6.64zM132.58 518.85h6.64v1.75h-6.64zM132.58 520.55h6.64v1.75h-6.64zM132.58 598.92h6.64v1.75h-6.64zM132.58 629.59h6.64v1.75h-6.64zM145.76 501.81h6.64v1.75h-6.64zM145.76 546.11h6.64v1.75h-6.64zM145.76 583.59h6.64v1.75h-6.64zM145.76 590.41h6.64v1.75h-6.64zM145.76 609.15h6.64v1.75h-6.64zM145.76 612.55h6.64v1.75h-6.64zM145.76 614.26h6.64v1.75h-6.64zM152.35 583.59h6.64v1.75h-6.64zM152.35 592.11h6.64v1.75h-6.64zM152.35 624.48h6.64v1.75h-6.64zM158.94 542.70h6.64v1.75h-6.64zM158.94 605.74h6.64v1.75h-6.64zM172.12 564.85h6.64v1.75h-6.64zM172.12 592.11h6.64v1.75h-6.64zM172.12 621.07h6.64v1.75h-6.64zM178.70 529.07h6.64v1.75h-6.64zM178.70 556.33h6.64v1.75h-6.64zM178.70 568.26h6.64v1.75h-6.64zM178.70 580.18h6.64v1.75h-6.64zM178.70 590.41h6.64v1.75h-6.64zM178.70 598.92h6.64v1.75h-6.64zM178.70 602.33h6.64v1.75h-6.64zM178.70 605.74h6.64v1.75h-6.64zM185.29 552.92h6.64v1.75h-6.64zM185.29 573.37h6.64v1.75h-6.64zM191.88 520.55h6.64v1.75h-6.64zM191.88 535.89h6.64v1.75h-6.64zM191.88 561.44h6.64v1.75h-6.64zM191.88 595.52h6.64v1.75h-6.64zM191.88 604.04h6.64v1.75h-6.64zM191.88 607.44h6.64v1.75h-6.64zM191.88 621.07h6.64v1.75h-6.64zM198.47 513.74h6.64v1.75h-6.64zM198.47 515.44h6.64v1.75h-6.64zM198.47 539.29h6.64v1.75h-6.64zM198.47 551.22h6.64v1.75h-6.64zM198.47 563.15h6.64v1.75h-6.64zM198.47 598.92h6.64v1.75h-6.64zM205.06 501.81h6.64v1.75h-6.64zM205.06 506.92h6.64v1.75h-6.64zM205.06 515.44h6.64v1.75h-6.64zM205.06 552.92h6.64v1.75h-6.64zM205.06 604.04h6.64v1.75h-6.64zM211.65 505.22h6.64v1.75h-6.64zM211.65 512.03h6.64v1.75h-6.64zM211.65 602.33h6.64v1.75h-6.64zM211.65 609.15h6.64v1.75h-6.64zM211.65 627.89h6.64v1.75h-6.64zM211.65 629.59h6.64v1.75h-6.64zM218.23 500.11h6.64v1.75h-6.64zM218.23 527.37h6.64v1.75h-6.64zM218.23 556.33h6.64v1.75h-6.64zM218.23 592.11h6.64v1.75h-6.64zM218.23 612.55h6.64v1.75h-6.64zM218.23 615.96h6.64v1.75h-6.64zM224.82 549.52h6.64v1.75h-6.64zM224.82 566.55h6.64v1.75h-6.64zM231.41 505.22h6.64v1.75h-6.64zM231.41 512.03h6.64v1.75h-6.64zM231.41 513.74h6.64v1.75h-6.64zM231.41 520.55h6.64v1.75h-6.64zM231.41 551.22h6.64v1.75h-6.64zM231.41 580.18h6.64v1.75h-6.64zM231.41 581.89h6.64v1.75h-6.64zM231.41 598.92h6.64v1.75h-6.64z" fill="#ff7f00"/>
<path d="M73.29 624.48h6.64v1.75h-6.64zM132.58 549.52h6.64v1.75h-6.64zM132.58 552.92h6.64v1.75h-6.64zM132.58 581.89h6.64v1.75h-6.64zM132.58 588.70h6.64v1.75h-6.64zM132.58 614.26h6.64v1.75h-6.64zM132.58 624.48h6.64v1.75h-6.64zM132.58 626.18h6.64v1.75h-6.64zM152.35 505.22h6.64v1.75h-6.64zM152.35 605.74h6.64v1.75h-6.64zM158.94 513.74h6.64v1.75h-6.64zM158.94 544.40h6.64v1.75h-6.64zM158.94 583.59h6.64v1.75h-6.64zM158.94 609.15h6.64v1.75h-6.64zM158.94 622.78h6.64v1.75h-6.64zM165.53 583.59h6.64v1.75h-6.64zM165.53 605.74h6.64v1.75h-6.64zM165.53 619.37h6.64v1.75h-6.64zM172.12 600.63h6.64v1.75h-6.64zM178.70 498.40h6.64v1.75h-6.64zM178.70 517.14h6.64v1.75h-6.64zM178.70 525.66h6.64v1.75h-6.64zM178.70 532.48h6.64v1.75h-6.64zM178.70 541.00h6.64v1.75h-6.64zM178.70 563.15h6.64v1.75h-6.64zM178.70 626.18h6.64v1.75h-6.64zM185.29 523.96h6.64v1.75h-6.64zM185.29 580.18h6.64v1.75h-6.64zM185.29 602.33h6.64v1.75h-6.64zM191.88 496.70h6.64v1.75h-6.64zM191.88 501.81h6.64v1.75h-6.64zM191.88 525.66h6.64v1.75h-6.64zM191.88 549.52h6.64v1.75h-6.64zM191.88 556.33h6.64v1.75h-6.64zM191.88 558.03h6.64v1.75h-6.64zM191.88 592.11h6.64v1.75h-6.64zM198.47 541.00h6.64v1.75h-6.64zM198.47 588.70h6.64v1.75h-6.64zM198.47 607.44h6.64v1.75h-6.64zM198.47 610.85h6.64v1.75h-6.64zM198.47 626.18h6.64v1.75h-6.64zM205.06 517.14h6.64v1.75h-6.64zM205.06 539.29h6.64v1.75h-6.64zM205.06 549.52h6.64v1.75h-6.64zM205.06 580.18h6.64v1.75h-6.64zM205.06 587.00h6.64v1.75h-6.64zM205.06 588.70h6.64v1.75h-6.64zM205.06 612.55h6.64v1.75h-6.64zM205.06 622.78h6.64v1.75h-6.64zM205.06 626.18h6.64v1.75h-6.64zM211.65 496.70h6.64v1.75h-6.64zM211.65 500.11h6.64v1.75h-6.64zM211.65 513.74h6.64v1.75h-6.64zM211.65 517.14h6.64v1.75h-6.64zM211.65 541.00h6.64v1.75h-6.64zM211.65 563.15h6.64v1.75h-6.64zM211.65 580.18h6.64v1.75h-6.64zM211.65 600.63h6.64v1.75h-6.64zM211.65 615.96h6.64v1.75h-6.64zM218.23 604.04h6.64v1.75h-6.64zM218.23 614.26h6.64v1.75h-6.64zM218.23 631.30h6.64v1.75h-6.64zM231.41 498.40h6.64v1.75h-6.64zM231.41 559.74h6.64v1.75h-6.64zM231.41 569.96h6.64v1.75h-6.64zM231.41 593.81h6.64v1.75h-6.64zM231.41 609.15h6.64v1.75h-6.64z" fill="#ff8600"/>
<path d="M99.64 619.37h6.64v1.75h-6.64zM132.58 534.18h6.64v1.75h-6.64zM145.76 522.26h6.64v1.75h-6.64zM145.76 564.85h6.64v1.75h-6.64zM145.76 569.96h6.64v1.75h-6.64zM152.35 542.70h6.64v1.75h-6.64zM152.35 544.40h6.64v1.75h-6.64zM152.35 609.15h6.64v1.75h-6.64zM158.94 564.85h6.64v1.75h-6.64zM158.94 581.89h6.64v1.75h-6.64zM158.94 619.37h6.64v1.75h-6.64zM158.94 621.07h6.64v1.75h-6.64zM165.53 534.18h6.64v1.75h-6.64zM165.53 544.40h6.64v1.75h-6.64zM165.53 564.85h6.64v1.75h-6.64zM172.12 605.74h6.64v1.75h-6.64zM172.12 610.85h6.64v1.75h-6.64zM172.12 622.78h6.64v1.75h-6.64zM178.70 501.81h6.64v1.75h-6.64zM178.70 506.92h6.64v1.75h-6.64zM178.70 546.11h6.64v1.75h-6.64zM178.70 561.44h6.64v1.75h-6.64zM178.70 575.07h6.64v1.75h-6.64zM178.70 600.63h6.64v1.75h-6.64zM178.70 607.44h6.64v1.75h-6.64zM178.70 617.67h6.64v1.75h-6.64zM191.88 508.63h6.64v1.75h-6.64zM191.88 513.74h6.64v1.75h-6.64zM191.88 523.96h6.64v1.75h-6.64zM191.88 527.37h6.64v1.75h-6.64zM191.88 537.59h6.64v1.75h-6.64zM191.88 546.11h6.64v1.75h-6.64zM191.88 563.15h6.64v1.75h-6.64zM191.88 576.78h6.64v1.75h-6.64zM191.88 587.00h6.64v1.75h-6.64zM191.88 593.81h6.64v1.75h-6.64zM198.47 525.66h6.64v1.75h-6.64zM198.47 535.89h6.64v1.75h-6.64zM198.47 537.59h6.64v1.75h-6.64zM198.47 547.81h6.64v1.75h-6.64zM198.47 556.33h6.64v1.75h-6.64zM198.47 561.44h6.64v1.75h-6.64zM198.47 575.07h6.64v1.75h-6.64zM198.47 578.48h6.64v1.75h-6.64zM198.47 581.89h6.64v1.75h-6.64zM198.47 612.55h6.64v1.75h-6.64zM198.47 622.78h6.64v1.75h-6.64zM198.47 624.48h6.64v1.75h-6.64zM205.06 500.11h6.64v1.75h-6.64zM205.06 529.07h6.64v1.75h-6.64zM205.06 532.48h6.64v1.75h-6.64zM205.06 541.00h6.64v1.75h-6.64zM205.06 561.44h6.64v1.75h-6.64zM205.06 593.81h6.64v1.75h-6.64zM211.65 508.63h6.64v1.75h-6.64zM211.65 515.44h6.64v1.75h-6.64zM211.65 522.26h6.64v1.75h-6.64zM211.65 527.37h6.64v1.75h-6.64zM211.65 529.07h6.64v1.75h-6.64zM211.65 534.18h6.64v1.75h-6.64zM211.65 547.81h6.64v1.75h-6.64zM211.65 551.22h6.64v1.75h-6.64zM211.65 610.85h6.64v1.75h-6.64zM211.65 612.55h6.64v1.75h-6.64zM218.23 498.40h6.64v1.75h-6.64zM218.23 518.85h6.64v1.75h-6.64zM218.23 558.03h6.64v1.75h-6.64zM218.23 595.52h6.64v1.75h-6.64zM218.23 610.85h6.64v1.75h-6.64zM218.23 626.18h6.64v1.75h-6.64zM231.41 496.70h6.64v1.75h-6.64zM231.41 501.81h6.64v1.75h-6.64zM231.41 525.66h6.64v1.75h-6.64zM231.41 534.18h6.64v1.75h-6.64zM231.41 563.15h6.64v1.75h-6.64zM231.41 602.33h6.64v1.75h-6.64zM231.41 612.55h6.64v1.75h-6.64z" fill="#ff7800"/>
<path d="M132.58 571.66h6.64v1.75h-6.64zM145.76 500.11h6.64v1.75h-6.64zM145.76 505.22h6.64v1.75h-6.64zM145.76 523.96h6.64v1.75h-6.64zM145.76 534.18h6.64v1.75h-6.64zM145.76 568.26h6.64v1.75h-6.64zM145.76 585.29h6.64v1.75h-6.64zM152.35 525.66h6.64v1.75h-6.64zM152.35 604.04h6.64v1.75h-6.64zM152.35 614.26h6.64v1.75h-6.64zM158.94 503.51h6.64v1.75h-6.64zM158.94 532.48h6.64v1.75h-6.64zM158.94 534.18h6.64v1.75h-6.64zM158.94 561.44h6.64v1.75h-6.64zM158.94 600.63h6.64v1.75h-6.64zM158.94 624.48h6.64v1.75h-6.64zM165.53 578.48h6.64v1.75h-6.64zM165.53 627.89h6.64v1.75h-6.64zM172.12 496.70h6.64v1.75h-6.64zM172.12 498.40h6.64v1.75h-6.64zM172.12 505.22h6.64v1.75h-6.64zM172.12 518.85h6.64v1.75h-6.64zM172.12 529.07h6.64v1.75h-6.64zM172.12 534.18h6.64v1.75h-6.64zM172.12 542.70h6.64v1.75h-6.64zM172.12 554.63h6.64v1.75h-6.64zM172.12 569.96h6.64v1.75h-6.64zM172.12 581.89h6.64v1.75h-6.64zM172.12 587.00h6.64v1.75h-6.64zM172.12 595.52h6.64v1.75h-6.64zM178.70 510.33h6.64v1.75h-6.64zM178.70 518.85h6.64v1.75h-6.64zM178.70 527.37h6.64v1.75h-6.64zM178.70 537.59h6.64v1.75h-6.64zM178.70 576.78h6.64v1.75h-6.64zM191.88 530.77h6.64v1.75h-6.64zM191.88 551.22h6.64v1.75h-6.64zM191.88 552.92h6.64v1.75h-6.64zM191.88 580.18h6.64v1.75h-6.64zM191.88 588.70h6.64v1.75h-6.64zM198.47 501.81h6.64v1.75h-6.64zM198.47 508.63h6.64v1.75h-6.64zM198.47 552.92h6.64v1.75h-6.64zM198.47 558.03h6.64v1.75h-6.64zM198.47 559.74h6.64v1.75h-6.64zM198.47 593.81h6.64v1.75h-6.64zM198.47 597.22h6.64v1.75h-6.64zM198.47 602.33h6.64v1.75h-6.64zM198.47 629.59h6.64v1.75h-6.64zM198.47 631.30h6.64v1.75h-6.64zM205.06 551.22h6.64v1.75h-6.64zM205.06 558.03h6.64v1.75h-6.64zM205.06 573.37h6.64v1.75h-6.64zM205.06 576.78h6.64v1.75h-6.64zM211.65 523.96h6.64v1.75h-6.64zM211.65 539.29h6.64v1.75h-6.64zM211.65 556.33h6.64v1.75h-6.64zM211.65 566.55h6.64v1.75h-6.64zM211.65 588.70h6.64v1.75h-6.64zM218.23 496.70h6.64v1.75h-6.64zM218.23 503.51h6.64v1.75h-6.64zM218.23 517.14h6.64v1.75h-6.64zM218.23 535.89h6.64v1.75h-6.64zM218.23 575.07h6.64v1.75h-6.64zM218.23 581.89h6.64v1.75h-6.64zM218.23 585.29h6.64v1.75h-6.64zM218.23 605.74h6.64v1.75h-6.64zM231.41 522.26h6.64v1.75h-6.64zM231.41 535.89h6.64v1.75h-6.64zM231.41 537.59h6.64v1.75h-6.64zM231.41 604.04h6.64v1.75h-6.64zM231.41 626.18h6.64v1.75h-6.64zM231.41 627.89h6.64v1.75h-6.64z" fill="#ff6900"/>
<path d="M132.58 587.00h6.64v1.75h-6.64zM145.76 527.37h6.64v1.75h-6.64zM145.76 535.89h6.64v1.75h-6.64zM145.76 541.00h6.64v1.75h-6.64zM145.76 542.70h6.64v1.75h-6.64zM145.76 563.15h6.64v1.75h-6.64zM145.76 581.89h6.64v1.75h-6.64zM145.76 595.52h6.64v1.75h-6.64zM145.76 605.74h6.64v1.75h-6.64zM145.76 621.07h6.64v1.75h-6.64zM145.76 626.18h6.64v1.75h-6.64zM152.35 496.70h6.64v1.75h-6.64zM158.94 501.81h6.64v1.75h-6.64zM158.94 508.63h6.64v1.75h-6.64zM158.94 520.55h6.64v1.75h-6.64zM158.94 585.29h6.64v1.75h-6.64zM158.94 588.70h6.64v1.75h-6.64zM158.94 590.41h6.64v1.75h-6.64zM158.94 626.18h6.64v1.75h-6.64zM158.94 627.89h6.64v1.75h-6.64zM158.94 631.30h6.64v1.75h-6.64zM165.53 525.66h6.64v1.75h-6.64zM165.53 530.77h6.64v1.75h-6.64zM165.53 563.15h6.64v1.75h-6.64zM165.53 575.07h6.64v1.75h-6.64zM165.53 595.52h6.64v1.75h-6.64zM165.53 604.04h6.64v1.75h-6.64zM165.53 609.15h6.64v1.75h-6.64zM165.53 612.55h6.64v1.75h-6.64zM165.53 615.96h6.64v1.75h-6.64zM165.53 622.78h6.64v1.75h-6.64zM165.53 626.18h6.64v1.75h-6.64zM172.12 501.81h6.64v1.75h-6.64zM172.12 503.51h6.64v1.75h-6.64zM172.12 522.26h6.64v1.75h-6.64zM172.12 532.48h6.64v1.75h-6.64zM172.12 563.15h6.64v1.75h-6.64zM172.12 571.66h6.64v1.75h-6.64zM172.12 604.04h6.64v1.75h-6.64zM172.12 607.44h6.64v1.75h-6.64zM172.12 627.89h6.64v1.75h-6.64zM178.70 512.03h6.64v1.75h-6.64zM178.70 515.44h6.64v1.75h-6.64zM178.70 547.81h6.64v1.75h-6.64zM178.70 595.52h6.64v1.75h-6.64zM185.29 551.22h6.64v1.75h-6.64zM191.88 506.92h6.64v1.75h-6.64zM191.88 539.29h6.64v1.75h-6.64zM191.88 575.07h6.64v1.75h-6.64zM191.88 602.33h6.64v1.75h-6.64zM198.47 534.18h6.64v1.75h-6.64zM198.47 549.52h6.64v1.75h-6.64zM198.47 573.37h6.64v1.75h-6.64zM211.65 498.40h6.64v1.75h-6.64zM211.65 510.33h6.64v1.75h-6.64zM211.65 525.66h6.64v1.75h-6.64zM211.65 537.59h6.64v1.75h-6.64zM218.23 515.44h6.64v1.75h-6.64zM218.23 544.40h6.64v1.75h-6.64zM218.23 561.44h6.64v1.75h-6.64zM218.23 629.59h6.64v1.75h-6.64zM231.41 506.92h6.64v1.75h-6.64zM231.41 510.33h6.64v1.75h-6.64zM231.41 532.48h6.64v1.75h-6.64zM231.41 547.81h6.64v1.75h-6.64zM231.41 552.92h6.64v1.75h-6.64zM231.41 566.55h6.64v1.75h-6.64zM231.41 573.37h6.64v1.75h-6.64zM231.41 615.96h6.64v1.75h-6.64zM231.41 622.78h6.64v1.75h-6.64z" fill="#ff6100"/>
<path d="M132.58 609.15h6.64v1.75h-6.64zM132.58 627.89h6.64v1.75h-6.64zM145.76 503.51h6.64v1.75h-6.64zM145.76 512.03h6.64v1.75h-6.64zM145.76 513.74h6.64v1.75h-6.64zM145.76 515.44h6.64v1.75h-6.64zM145.76 518.85h6.64v1.75h-6.64zM145.76 561.44h6.64v1.75h-6.64zM145.76 571.66h6.64v1.75h-6.64zM145.76 575.07h6.64v1.75h-6.64zM145.76 592.11h6.64v1.75h-6.64zM145.76 604.04h6.64v1.75h-6.64zM145.76 610.85h6.64v1.75h-6.64zM145.76 615.96h6.64v1.75h-6.64zM152.35 503.51h6.64v1.75h-6.64zM152.35 518.85h6.64v1.75h-6.64zM152.35 564.85h6.64v1.75h-6.64zM152.35 600.63h6.64v1.75h-6.64zM152.35 612.55h6.64v1.75h-6.64zM152.35 619.37h6.64v1.75h-6.64zM158.94 573.37h6.64v1.75h-6.64zM158.94 587.00h6.64v1.75h-6.64zM158.94 595.52h6.64v1.75h-6.64zM158.94 614.26h6.64v1.75h-6.64zM158.94 615.96h6.64v1.75h-6.64zM165.53 542.70h6.64v1.75h-6.64zM165.53 554.63h6.64v1.75h-6.64zM165.53 600.63h6.64v1.75h-6.64zM165.53 610.85h6.64v1.75h-6.64zM172.12 500.11h6.64v1.75h-6.64zM172.12 544.40h6.64v1.75h-6.64zM172.12 549.52h6.64v1.75h-6.64zM172.12 612.55h6.64v1.75h-6.64zM172.12 615.96h6.64v1.75h-6.64zM172.12 631.30h6.64v1.75h-6.64zM178.70 508.63h6.64v1.75h-6.64zM178.70 522.26h6.64v1.75h-6.64zM178.70 530.77h6.64v1.75h-6.64zM178.70 549.52h6.64v1.75h-6.64zM178.70 552.92h6.64v1.75h-6.64zM178.70 571.66h6.64v1.75h-6.64zM178.70 578.48h6.64v1.75h-6.64zM178.70 622.78h6.64v1.75h-6.64zM185.29 629.59h6.64v1.75h-6.64zM191.88 512.03h6.64v1.75h-6.64zM191.88 541.00h6.64v1.75h-6.64zM191.88 559.74h6.64v1.75h-6.64zM191.88 566.55h6.64v1.75h-6.64zM191.88 568.26h6.64v1.75h-6.64zM191.88 615.96h6.64v1.75h-6.64zM198.47 500.11h6.64v1.75h-6.64zM198.47 505.22h6.64v1.75h-6.64zM198.47 523.96h6.64v1.75h-6.64zM198.47 571.66h6.64v1.75h-6.64zM198.47 576.78h6.64v1.75h-6.64zM198.47 590.41h6.64v1.75h-6.64zM205.06 520.55h6.64v1.75h-6.64zM205.06 530.77h6.64v1.75h-6.64zM205.06 537.59h6.64v1.75h-6.64zM205.06 597.22h6.64v1.75h-6.64zM205.06 598.92h6.64v1.75h-6.64zM211.65 501.81h6.64v1.75h-6.64zM211.65 503.51h6.64v1.75h-6.64zM211.65 530.77h6.64v1.75h-6.64zM211.65 535.89h6.64v1.75h-6.64zM211.65 552.92h6.64v1.75h-6.64zM211.65 561.44h6.64v1.75h-6.64zM211.65 578.48h6.64v1.75h-6.64zM211.65 631.30h6.64v1.75h-6.64zM218.23 564.85h6.64v1.75h-6.64zM218.23 569.96h6.64v1.75h-6.64zM218.23 578.48h6.64v1.75h-6.64zM218.23 590.41h6.64v1.75h-6.64zM218.23 621.07h6.64v1.75h-6.64zM231.41 517.14h6.64v1.75h-6.64zM231.41 530.77h6.64v1.75h-6.64zM231.41 546.11h6.64v1.75h-6.64zM231.41 558.03h6.64v1.75h-6.64zM231.41 561.44h6.64v1.75h-6.64zM231.41 587.00h6.64v1.75h-6.64z" fill="#ff7000"/>
<path d="M145.76 496.70h6.64v1.75h-6.64zM145.76 517.14h6.64v1.75h-6.64zM145.76 537.59h6.64v1.75h-6.64zM145.76 547.81h6.64v1.75h-6.64zM145.76 580.18h6.64v1.75h-6.64zM145.76 597.22h6.64v1.75h-6.64zM145.76 602.33h6.64v1.75h-6.64zM145.76 627.89h6.64v1.75h-6.64zM152.35 500.11h6.64v1.75h-6.64zM152.35 529.07h6.64v1.75h-6.64zM152.35 566.55h6.64v1.75h-6.64zM152.35 568.26h6.64v1.75h-6.64zM152.35 581.89h6.64v1.75h-6.64zM152.35 587.00h6.64v1.75h-6.64zM152.35 595.52h6.64v1.75h-6.64zM158.94 500.11h6.64v1.75h-6.64zM158.94 515.44h6.64v1.75h-6.64zM158.94 523.96h6.64v1.75h-6.64zM158.94 530.77h6.64v1.75h-6.64zM158.94 549.52h6.64v1.75h-6.64zM158.94 568.26h6.64v1.75h-6.64zM158.94 575.07h6.64v1.75h-6.64zM158.94 612.55h6.64v1.75h-6.64zM165.53 517.14h6.64v1.75h-6.64zM165.53 520.55h6.64v1.75h-6.64zM165.53 539.29h6.64v1.75h-6.64zM165.53 541.00h6.64v1.75h-6.64zM165.53 561.44h6.64v1.75h-6.64zM165.53 587.00h6.64v1.75h-6.64zM165.53 592.11h6.64v1.75h-6.64zM172.12 513.74h6.64v1.75h-6.64zM172.12 515.44h6.64v1.75h-6.64zM172.12 537.59h6.64v1.75h-6.64zM172.12 539.29h6.64v1.75h-6.64zM172.12 593.81h6.64v1.75h-6.64zM172.12 602.33h6.64v1.75h-6.64zM198.47 617.67h6.64v1.75h-6.64zM211.65 506.92h6.64v1.75h-6.64zM211.65 532.48h6.64v1.75h-6.64zM211.65 558.03h6.64v1.75h-6.64zM211.65 573.37h6.64v1.75h-6.64zM211.65 575.07h6.64v1.75h-6.64zM218.23 508.63h6.64v1.75h-6.64zM218.23 520.55h6.64v1.75h-6.64zM218.23 529.07h6.64v1.75h-6.64zM218.23 530.77h6.64v1.75h-6.64zM218.23 546.11h6.64v1.75h-6.64zM218.23 568.26h6.64v1.75h-6.64zM218.23 598.92h6.64v1.75h-6.64zM218.23 600.63h6.64v1.75h-6.64zM231.41 500.11h6.64v1.75h-6.64zM231.41 588.70h6.64v1.75h-6.64zM231.41 629.59h6.64v1.75h-6.64z" fill="#ff4b00"/>
<path d="M145.76 498.40h6.64v1.75h-6.64zM152.35 552.92h6.64v1.75h-6.64zM152.35 561.44h6.64v1.75h-6.64zM152.35 576.78h6.64v1.75h-6.64zM152.35 578.48h6.64v1.75h-6.64zM152.35 626.18h6.64v1.75h-6.64zM165.53 597.22h6.64v1.75h-6.64z" fill="#ff1600"/>
<path d="M145.76 506.92h6.64v1.75h-6.64zM145.76 510.33h6.64v1.75h-6.64zM145.76 532.48h6.64v1.75h-6.64zM145.76 544.40h6.64v1.75h-6.64zM145.76 558.03h6.64v1.75h-6.64zM145.76 600.63h6.64v1.75h-6.64zM145.76 629.59h6.64v1.75h-6.64zM152.35 534.18h6.64v1.75h-6.64zM152.35 556.33h6.64v1.75h-6.64zM152.35 607.44h6.64v1.75h-6.64zM152.35 617.67h6.64v1.75h-6.64zM152.35 621.07h6.64v1.75h-6.64zM152.35 627.89h6.64v1.75h-6.64zM152.35 631.30h6.64v1.75h-6.64zM158.94 505.22h6.64v1.75h-6.64zM158.94 527.37h6.64v1.75h-6.64zM158.94 529.07h6.64v1.75h-6.64zM158.94 554.63h6.64v1.75h-6.64zM158.94 556.33h6.64v1.75h-6.64zM158.94 593.81h6.64v1.75h-6.64zM165.53 496.70h6.64v1.75h-6.64zM165.53 503.51h6.64v1.75h-6.64zM165.53 513.74h6.64v1.75h-6.64zM165.53 515.44h6.64v1.75h-6.64zM165.53 523.96h6.64v1.75h-6.64zM165.53 527.37h6.64v1.75h-6.64zM165.53 571.66h6.64v1.75h-6.64zM165.53 585.29h6.64v1.75h-6.64zM165.53 614.26h6.64v1.75h-6.64zM172.12 530.77h6.64v1.75h-6.64zM172.12 546.11h6.64v1.75h-6.64zM172.12 556.33h6.64v1.75h-6.64zM172.12 559.74h6.64v1.75h-6.64zM172.12 561.44h6.64v1.75h-6.64zM172.12 568.26h6.64v1.75h-6.64zM172.12 576.78h6.64v1.75h-6.64zM172.12 578.48h6.64v1.75h-6.64zM172.12 609.15h6.64v1.75h-6.64zM172.12 614.26h6.64v1.75h-6.64zM178.70 558.03h6.64v1.75h-6.64zM178.70 566.55h6.64v1.75h-6.64zM178.70 573.37h6.64v1.75h-6.64zM191.88 522.26h6.64v1.75h-6.64zM191.88 532.48h6.64v1.75h-6.64zM191.88 598.92h6.64v1.75h-6.64zM198.47 529.07h6.64v1.75h-6.64zM198.47 532.48h6.64v1.75h-6.64zM211.65 559.74h6.64v1.75h-6.64zM211.65 597.22h6.64v1.75h-6.64zM211.65 598.92h6.64v1.75h-6.64zM218.23 525.66h6.64v1.75h-6.64zM218.23 554.63h6.64v1.75h-6.64zM218.23 559.74h6.64v1.75h-6.64zM218.23 597.22h6.64v1.75h-6.64zM218.23 602.33h6.64v1.75h-6.64zM218.23 609.15h6.64v1.75h-6.64z" fill="#ff5200"/>
<path d="M145.76 508.63h6.64v1.75h-6.64zM145.76 549.52h6.64v1.75h-6.64zM145.76 551.22h6.64v1.75h-6.64zM145.76 556.33h6.64v1.75h-6.64zM145.76 573.37h6.64v1.75h-6.64zM145.76 576.78h6.64v1.75h-6.64zM152.35 523.96h6.64v1.75h-6.64zM152.35 549.52h6.64v1.75h-6.64zM152.35 558.03h6.64v1.75h-6.64zM152.35 610.85h6.64v1.75h-6.64zM158.94 559.74h6.64v1.75h-6.64zM158.94 563.15h6.64v1.75h-6.64zM158.94 607.44h6.64v1.75h-6.64zM165.53 529.07h6.64v1.75h-6.64zM165.53 537.59h6.64v1.75h-6.64zM165.53 549.52h6.64v1.75h-6.64zM165.53 552.92h6.64v1.75h-6.64zM165.53 569.96h6.64v1.75h-6.64zM165.53 624.48h6.64v1.75h-6.64zM172.12 523.96h6.64v1.75h-6.64zM172.12 551.22h6.64v1.75h-6.64zM172.12 573.37h6.64v1.75h-6.64zM172.12 580.18h6.64v1.75h-6.64zM218.23 506.92h6.64v1.75h-6.64zM218.23 513.74h6.64v1.75h-6.64zM218.23 522.26h6.64v1.75h-6.64zM218.23 539.29h6.64v1.75h-6.64zM218.23 566.55h6.64v1.75h-6.64zM218.23 580.18h6.64v1.75h-6.64zM218.23 593.81h6.64v1.75h-6.64zM218.23 607.44h6.64v1.75h-6.64z" fill="#ff3400"/>
<path d="M145.76 520.55h6.64v1.75h-6.64zM145.76 530.77h6.64v1.75h-6.64zM145.76 593.81h6.64v1.75h-6.64zM145.76 631.30h6.64v1.75h-6.64zM152.35 501.81h6.64v1.75h-6.64zM152.35 510.33h6.64v1.75h-6.64zM152.35 512.03h6.64v1.75h-6.64zM152.35 527.37h6.64v1.75h-6.64zM152.35 537.59h6.64v1.75h-6.64zM152.35 551.22h6.64v1.75h-6.64zM152.35 569.96h6.64v1.75h-6.64zM152.35 575.07h6.64v1.75h-6.64zM152.35 602.33h6.64v1.75h-6.64zM158.94 512.03h6.64v1.75h-6.64zM158.94 517.14h6.64v1.75h-6.64zM158.94 522.26h6.64v1.75h-6.64zM158.94 566.55h6.64v1.75h-6.64zM158.94 617.67h6.64v1.75h-6.64zM158.94 629.59h6.64v1.75h-6.64zM165.53 546.11h6.64v1.75h-6.64zM165.53 551.22h6.64v1.75h-6.64zM165.53 576.78h6.64v1.75h-6.64zM165.53 581.89h6.64v1.75h-6.64zM165.53 602.33h6.64v1.75h-6.64zM165.53 617.67h6.64v1.75h-6.64zM172.12 535.89h6.64v1.75h-6.64zM172.12 552.92h6.64v1.75h-6.64zM172.12 558.03h6.64v1.75h-6.64zM172.12 588.70h6.64v1.75h-6.64zM172.12 598.92h6.64v1.75h-6.64zM178.70 551.22h6.64v1.75h-6.64zM218.23 532.48h6.64v1.75h-6.64zM218.23 547.81h6.64v1.75h-6.64zM218.23 549.52h6.64v1.75h-6.64zM218.23 617.67h6.64v1.75h-6.64zM218.23 627.89h6.64v1.75h-6.64zM231.41 597.22h6.64v1.75h-6.64z" fill="#ff3c00"/>
<path d="M145.76 525.66h6.64v1.75h-6.64zM145.76 529.07h6.64v1.75h-6.64zM145.76 578.48h6.64v1.75h-6.64zM145.76 622.78h6.64v1.75h-6.64zM145.76 624.48h6.64v1.75h-6.64zM152.35 498.40h6.64v1.75h-6.64zM152.35 515.44h6.64v1.75h-6.64zM152.35 535.89h6.64v1.75h-6.64zM152.35 554.63h6.64v1.75h-6.64zM152.35 571.66h6.64v1.75h-6.64zM152.35 585.29h6.64v1.75h-6.64zM152.35 588.70h6.64v1.75h-6.64zM152.35 590.41h6.64v1.75h-6.64zM152.35 615.96h6.64v1.75h-6.64zM152.35 629.59h6.64v1.75h-6.64zM158.94 496.70h6.64v1.75h-6.64zM158.94 498.40h6.64v1.75h-6.64zM158.94 518.85h6.64v1.75h-6.64zM158.94 541.00h6.64v1.75h-6.64zM158.94 578.48h6.64v1.75h-6.64zM158.94 580.18h6.64v1.75h-6.64zM158.94 604.04h6.64v1.75h-6.64zM165.53 500.11h6.64v1.75h-6.64zM165.53 505.22h6.64v1.75h-6.64zM165.53 518.85h6.64v1.75h-6.64zM165.53 556.33h6.64v1.75h-6.64zM165.53 559.74h6.64v1.75h-6.64zM165.53 621.07h6.64v1.75h-6.64zM172.12 508.63h6.64v1.75h-6.64zM172.12 525.66h6.64v1.75h-6.64zM172.12 541.00h6.64v1.75h-6.64zM172.12 547.81h6.64v1.75h-6.64zM172.12 575.07h6.64v1.75h-6.64zM172.12 585.29h6.64v1.75h-6.64zM172.12 619.37h6.64v1.75h-6.64zM178.70 513.74h6.64v1.75h-6.64zM178.70 523.96h6.64v1.75h-6.64zM178.70 588.70h6.64v1.75h-6.64zM178.70 597.22h6.64v1.75h-6.64zM191.88 517.14h6.64v1.75h-6.64zM191.88 597.22h6.64v1.75h-6.64zM198.47 506.92h6.64v1.75h-6.64zM198.47 510.33h6.64v1.75h-6.64zM198.47 530.77h6.64v1.75h-6.64zM198.47 568.26h6.64v1.75h-6.64zM198.47 580.18h6.64v1.75h-6.64zM205.06 602.33h6.64v1.75h-6.64zM211.65 546.11h6.64v1.75h-6.64zM211.65 568.26h6.64v1.75h-6.64zM211.65 576.78h6.64v1.75h-6.64zM211.65 593.81h6.64v1.75h-6.64zM218.23 501.81h6.64v1.75h-6.64zM218.23 505.22h6.64v1.75h-6.64zM218.23 537.59h6.64v1.75h-6.64zM218.23 563.15h6.64v1.75h-6.64zM218.23 587.00h6.64v1.75h-6.64zM231.41 508.63h6.64v1.75h-6.64zM231.41 578.48h6.64v1.75h-6.64zM231.41 590.41h6.64v1.75h-6.64zM231.41 631.30h6.64v1.75h-6.64z" fill="#ff5900"/>
<path d="M145.76 539.29h6.64v1.75h-6.64zM145.76 566.55h6.64v1.75h-6.64zM152.35 580.18h6.64v1.75h-6.64zM152.35 597.22h6.64v1.75h-6.64zM158.94 506.92h6.64v1.75h-6.64zM165.53 508.63h6.64v1.75h-6.64zM165.53 580.18h6.64v1.75h-6.64zM172.12 597.22h6.64v1.75h-6.64z" fill="#ff1e00"/>
<path d="M145.76 552.92h6.64v1.75h-6.64zM152.35 559.74h6.64v1.75h-6.64zM158.94 598.92h6.64v1.75h-6.64zM165.53 506.92h6.64v1.75h-6.64zM165.53 532.48h6.64v1.75h-6.64zM165.53 573.37h6.64v1.75h-6.64zM165.53 598.92h6.64v1.75h-6.64zM165.53 607.44h6.64v1.75h-6.64zM165.53 629.59h6.64v1.75h-6.64zM218.23 552.92h6.64v1.75h-6.64zM218.23 588.70h6.64v1.75h-6.64z" fill="#ff2d00"/>
<path d="M145.76 559.74h6.64v1.75h-6.64zM145.76 587.00h6.64v1.75h-6.64zM145.76 598.92h6.64v1.75h-6.64zM145.76 607.44h6.64v1.75h-6.64zM145.76 617.67h6.64v1.75h-6.64zM152.35 513.74h6.64v1.75h-6.64zM152.35 532.48h6.64v1.75h-6.64zM152.35 539.29h6.64v1.75h-6.64zM152.35 546.11h6.64v1.75h-6.64zM152.35 547.81h6.64v1.75h-6.64zM152.35 563.15h6.64v1.75h-6.64zM158.94 539.29h6.64v1.75h-6.64zM158.94 571.66h6.64v1.75h-6.64zM158.94 576.78h6.64v1.75h-6.64zM165.53 498.40h6.64v1.75h-6.64zM165.53 512.03h6.64v1.75h-6.64zM165.53 535.89h6.64v1.75h-6.64zM165.53 547.81h6.64v1.75h-6.64zM165.53 558.03h6.64v1.75h-6.64zM165.53 566.55h6.64v1.75h-6.64zM165.53 568.26h6.64v1.75h-6.64zM165.53 588.70h6.64v1.75h-6.64zM165.53 631.30h6.64v1.75h-6.64zM172.12 506.92h6.64v1.75h-6.64zM172.12 510.33h6.64v1.75h-6.64zM172.12 512.03h6.64v1.75h-6.64zM172.12 517.14h6.64v1.75h-6.64zM172.12 520.55h6.64v1.75h-6.64zM172.12 527.37h6.64v1.75h-6.64zM172.12 626.18h6.64v1.75h-6.64zM172.12 629.59h6.64v1.75h-6.64zM205.06 566.55h6.64v1.75h-6.64zM211.65 549.52h6.64v1.75h-6.64zM218.23 512.03h6.64v1.75h-6.64zM218.23 534.18h6.64v1.75h-6.64zM218.23 541.00h6.64v1.75h-6.64zM218.23 571.66h6.64v1.75h-6.64zM218.23 622.78h6.64v1.75h-6.64zM218.23 624.48h6.64v1.75h-6.64zM231.41 549.52h6.64v1.75h-6.64z" fill="#ff4300"/>
<path d="M145.76 588.70h6.64v1.75h-6.64zM152.35 506.92h6.64v1.75h-6.64zM152.35 508.63h6.64v1.75h-6.64zM152.35 517.14h6.64v1.75h-6.64zM152.35 520.55h6.64v1.75h-6.64zM152.35 522.26h6.64v1.75h-6.64zM152.35 530.77h6.64v1.75h-6.64zM152.35 541.00h6.64v1.75h-6.64zM152.35 573.37h6.64v1.75h-6.64zM152.35 593.81h6.64v1.75h-6.64zM152.35 622.78h6.64v1.75h-6.64zM158.94 510.33h6.64v1.75h-6.64zM158.94 525.66h6.64v1.75h-6.64zM158.94 537.59h6.64v1.75h-6.64zM158.94 546.11h6.64v1.75h-6.64zM158.94 547.81h6.64v1.75h-6.64zM158.94 551.22h6.64v1.75h-6.64zM158.94 558.03h6.64v1.75h-6.64zM158.94 597.22h6.64v1.75h-6.64zM165.53 501.81h6.64v1.75h-6.64zM165.53 510.33h6.64v1.75h-6.64zM165.53 593.81h6.64v1.75h-6.64zM172.12 566.55h6.64v1.75h-6.64zM218.23 510.33h6.64v1.75h-6.64zM218.23 523.96h6.64v1.75h-6.64zM218.23 551.22h6.64v1.75h-6.64zM218.23 573.37h6.64v1.75h-6.64zM218.23 576.78h6.64v1.75h-6.64z" fill="#ff2500"/>
<path d="M152.35 598.92h6.64v1.75h-6.64zM158.94 535.89h6.64v1.75h-6.64zM172.12 617.67h6.64v1.75h-6.64z" fill="#ff0f00"/>
<path d="M158.94 552.92h6.64v1.75h-6.64zM158.94 602.33h6.64v1.75h-6.64zM165.53 522.26h6.64v1.75h-6.64z" fill="#ff0700"/>
</g></g>
<path d="M145.76 496.7V633.0" stroke="#fff" stroke-width="0.8"/>
<path d="M70.0 474.6V496.7M76.6 486.5V496.7M83.2 486.5V496.7M76.6 486.5H83.2M79.9 481.7V486.5M89.8 488.5V496.7M96.3 488.5V496.7M89.8 488.5H96.3M93.1 485.2V488.5M102.9 487.5V496.7M109.5 490.4V496.7M116.1 490.4V496.7M109.5 490.4H116.1M112.8 487.5V490.4M102.9 487.5H112.8M107.9 485.2V487.5M93.1 485.2H107.9M100.5 481.7V485.2M79.9 481.7H100.5M90.2 477.5V481.7M122.7 480.3V496.7M129.3 483.5V496.7M135.9 486.3V496.7M142.5 486.3V496.7M135.9 486.3H142.5M139.2 483.5V486.3M129.3 483.5H139.2M134.2 480.3V483.5M122.7 480.3H134.2M128.5 477.5V480.3M90.2 477.5H128.5M109.3 474.6V477.5M70.0 474.6H109.3M89.7 459.3V474.6M149.1 484.6V496.7M155.6 487.8V496.7M162.2 487.8V496.7M155.6 487.8H162.2M158.9 484.6V487.8M149.1 484.6H158.9M154.0 479.6V484.6M168.8 484.3V496.7M175.4 484.3V496.7M168.8 484.3H175.4M172.1 479.6V484.3M154.0 479.6H172.1M163.1 467.0V479.6M182.0 483.2V496.7M188.6 484.3V496.7M195.2 484.3V496.7M188.6 484.3H195.2M191.9 483.2V484.3M182.0 483.2H191.9M186.9 475.7V483.2M201.8 476.3V496.7M208.4 485.3V496.7M214.9 485.3V496.7M208.4 485.3H214.9M211.6 481.4V485.3M221.5 484.6V496.7M228.1 487.0V496.7M234.7 487.0V496.7M228.1 487.0H234.7M231.4 484.6V487.0M221.5 484.6H231.4M226.5 481.4V484.6M211.6 481.4H226.5M219.1 476.3V481.4M201.8 476.3H219.1M210.4 475.7V476.3M186.9 475.7H210.4M198.7 467.0V475.7M163.1 467.0H198.7M180.9 459.3V467.0M89.7 459.3H180.9" stroke="#8a8a8a" stroke-width="0.9" fill="none"/>
<rect x="57.6" y="497.2" width="7.4" height="135.6" fill="#d2d2d2"/>
<path d="M63.0 496.87H65.2M63.0 497.20H65.2M63.0 496.87V497.20M62.6 497.03H63.0M63.0 497.47H65.2M64.0 497.74H65.2M64.0 497.97H65.2M64.0 497.74V497.97M63.0 497.86H64.0M63.0 497.47V497.86M62.6 497.66H63.0M62.6 497.03V497.66M61.6 497.35H62.6M62.9 498.23H65.2M62.9 498.48H65.2M62.9 498.23V498.48M62.2 498.35H62.9M62.2 498.72H65.2M62.2 498.35V498.72M61.6 498.54H62.2M61.6 497.35V498.54M60.3 497.94H61.6M63.9 499.02H65.2M63.9 499.29H65.2M63.9 499.02V499.29M63.3 499.16H63.9M63.7 499.50H65.2M63.7 499.83H65.2M63.7 499.50V499.83M63.3 499.67H63.7M63.3 499.16V499.67M60.7 499.41H63.3M64.0 500.14H65.2M64.0 500.39H65.2M64.0 500.14V500.39M61.8 500.26H64.0M61.8 500.73H65.2M61.8 500.26V500.73M60.7 500.50H61.8M60.7 499.41V500.50M60.3 499.95H60.7M60.3 497.94V499.95M58.9 498.95H60.3M63.2 501.11H65.2M63.6 501.37H65.2M63.6 501.62H65.2M63.6 501.37V501.62M63.2 501.49H63.6M63.2 501.11V501.49M62.0 501.30H63.2M64.9 501.88H65.2M64.9 502.10H65.2M64.9 501.88V502.10M63.5 501.99H64.9M63.5 502.37H65.2M63.5 501.99V502.37M62.0 502.18H63.5M62.0 501.30V502.18M61.6 501.74H62.0M63.1 502.64H65.2M63.1 502.94H65.2M63.1 502.64V502.94M62.7 502.79H63.1M62.7 503.23H65.2M62.7 502.79V503.23M61.6 503.01H62.7M61.6 501.74V503.01M60.2 502.38H61.6M62.8 503.52H65.2M62.8 503.82H65.2M62.8 503.52V503.82M61.7 503.67H62.8M63.2 504.14H65.2M63.2 504.47H65.2M63.2 504.14V504.47M62.8 504.31H63.2M63.5 504.79H65.2M63.5 505.09H65.2M63.5 504.79V505.09M62.8 504.94H63.5M62.8 504.31V504.94M61.7 504.62H62.8M61.7 503.67V504.62M60.2 504.15H61.7M60.2 502.38V504.15M58.9 503.26H60.2M58.9 498.95V503.26M54.7 501.11H58.9M63.0 505.37H65.2M63.0 505.71H65.2M63.0 505.37V505.71M62.6 505.54H63.0M64.2 506.10H65.2M64.2 506.36H65.2M64.2 506.10V506.36M63.8 506.23H64.2M63.8 506.61H65.2M63.8 506.23V506.61M62.6 506.42H63.8M62.6 505.54V506.42M61.6 505.98H62.6M62.0 506.97H65.2M62.0 507.36H65.2M62.0 506.97V507.36M61.6 507.17H62.0M61.6 505.98V507.17M60.1 506.57H61.6M64.2 507.76H65.2M64.2 508.06H65.2M64.2 507.76V508.06M63.8 507.91H64.2M64.2 508.31H65.2M64.2 508.59H65.2M64.2 508.31V508.59M63.8 508.45H64.2M63.8 507.91V508.45M62.9 508.18H63.8M63.8 508.88H65.2M63.8 509.16H65.2M63.8 508.88V509.16M62.9 509.02H63.8M62.9 508.18V509.02M60.1 508.60H62.9M60.1 506.57V508.60M57.9 507.59H60.1M63.6 509.43H65.2M63.6 509.74H65.2M63.6 509.43V509.74M61.8 509.59H63.6M63.0 510.09H65.2M63.0 510.48H65.2M63.0 510.09V510.48M61.8 510.29H63.0M61.8 509.59V510.29M60.9 509.94H61.8M62.8 510.85H65.2M62.8 511.12H65.2M62.8 510.85V511.12M61.5 510.99H62.8M63.3 511.35H65.2M64.4 511.58H65.2M64.4 511.83H65.2M64.4 511.58V511.83M63.3 511.71H64.4M63.3 511.35V511.71M62.9 511.53H63.3M62.9 512.14H65.2M62.9 511.53V512.14M61.5 511.84H62.9M61.5 510.99V511.84M60.9 511.41H61.5M60.9 509.94V511.41M59.7 510.67H60.9M63.3 512.45H65.2M64.8 512.69H65.2M64.8 512.91H65.2M64.8 512.69V512.91M63.3 512.80H64.8M63.3 512.45V512.80M62.8 512.62H63.3M64.0 513.14H65.2M64.0 513.37H65.2M64.0 513.14V513.37M63.6 513.26H64.0M64.0 513.71H65.2M64.0 514.00H65.2M64.0 513.71V514.00M63.6 513.85H64.0M63.6 513.26V513.85M63.2 513.55H63.6M64.2 514.21H65.2M64.2 514.46H65.2M64.2 514.21V514.46M63.2 514.34H64.2M63.2 513.55V514.34M62.8 513.94H63.2M62.8 512.62V513.94M59.7 513.28H62.8M59.7 510.67V513.28M57.9 511.98H59.7M57.9 507.59V511.98M54.7 509.78H57.9M54.7 501.11V509.78M51.2 505.44H54.7M63.2 514.77H65.2M63.2 515.13H65.2M63.2 514.77V515.13M62.2 514.95H63.2M63.7 515.43H65.2M63.7 515.76H65.2M63.7 515.43V515.76M62.2 515.59H63.7M62.2 514.95V515.59M61.0 515.27H62.2M62.7 516.21H65.2M63.1 516.53H65.2M63.1 516.84H65.2M63.1 516.53V516.84M62.7 516.69H63.1M62.7 516.21V516.69M62.3 516.45H62.7M63.6 517.13H65.2M63.6 517.41H65.2M63.6 517.13V517.41M62.3 517.27H63.6M62.3 516.45V517.27M61.5 516.86H62.3M63.2 517.80H65.2M63.2 518.18H65.2M63.2 517.80V518.18M61.5 517.99H63.2M61.5 516.86V517.99M61.0 517.42H61.5M61.0 515.27V517.42M58.0 516.35H61.0M63.0 518.51H65.2M63.0 518.84H65.2M63.0 518.51V518.84M61.7 518.67H63.0M64.3 519.20H65.2M64.3 519.55H65.2M64.3 519.20V519.55M62.7 519.37H64.3M63.6 519.86H65.2M63.6 520.23H65.2M63.6 519.86V520.23M62.7 520.05H63.6M62.7 519.37V520.05M61.7 519.71H62.7M61.7 518.67V519.71M59.5 519.19H61.7M64.1 520.62H65.2M64.1 520.94H65.2M64.1 520.62V520.94M63.7 520.78H64.1M64.5 521.23H65.2M64.5 521.49H65.2M64.5 521.23V521.49M64.1 521.36H64.5M64.5 521.73H65.2M64.5 521.96H65.2M64.5 521.73V521.96M64.1 521.85H64.5M64.1 521.36V521.85M63.7 521.60H64.1M63.7 520.78V521.60M61.0 521.19H63.7M63.5 522.26H65.2M63.9 522.60H65.2M63.9 522.85H65.2M63.9 522.60V522.85M63.5 522.72H63.9M63.5 522.26V522.72M62.9 522.49H63.5M63.3 523.13H65.2M63.3 523.42H65.2M63.3 523.13V523.42M62.9 523.28H63.3M62.9 522.49V523.28M61.0 522.88H62.9M61.0 521.19V522.88M59.5 522.04H61.0M59.5 519.19V522.04M58.0 520.61H59.5M58.0 516.35V520.61M54.7 518.48H58.0M62.9 523.73H65.2M62.9 524.06H65.2M62.9 523.73V524.06M62.5 523.89H62.9M64.2 524.28H65.2M64.2 524.52H65.2M64.2 524.28V524.52M62.5 524.40H64.2M62.5 523.89V524.40M60.3 524.15H62.5M62.7 524.89H65.2M63.1 525.22H65.2M63.1 525.51H65.2M63.1 525.22V525.51M62.7 525.37H63.1M62.7 524.89V525.37M62.3 525.13H62.7M63.1 525.78H65.2M63.1 526.02H65.2M63.1 525.78V526.02M62.7 525.90H63.1M63.3 526.33H65.2M63.3 526.62H65.2M63.3 526.33V526.62M62.7 526.47H63.3M62.7 525.90V526.47M62.3 526.19H62.7M62.3 525.13V526.19M60.3 525.66H62.3M60.3 524.15V525.66M58.4 524.90H60.3M62.4 526.89H65.2M63.7 527.19H65.2M63.7 527.42H65.2M63.7 527.19V527.42M63.1 527.30H63.7M63.1 527.62H65.2M63.1 527.30V527.62M62.4 527.46H63.1M62.4 526.89V527.46M61.1 527.17H62.4M62.3 527.87H65.2M62.3 528.17H65.2M62.3 527.87V528.17M61.9 528.02H62.3M63.3 528.47H65.2M63.3 528.77H65.2M63.3 528.47V528.77M61.9 528.62H63.3M61.9 528.02V528.62M61.5 528.32H61.9M63.1 529.04H65.2M63.1 529.31H65.2M63.1 529.04V529.31M62.7 529.17H63.1M62.7 529.61H65.2M62.7 529.17V529.61M61.5 529.39H62.7M61.5 528.32V529.39M61.1 528.85H61.5M61.1 527.17V528.85M60.7 528.01H61.1M63.6 529.88H65.2M64.0 530.20H65.2M64.0 530.44H65.2M64.0 530.20V530.44M63.6 530.32H64.0M63.6 529.88V530.32M62.8 530.10H63.6M62.8 530.69H65.2M62.8 530.10V530.69M61.7 530.39H62.8M63.4 530.99H65.2M63.4 531.28H65.2M63.4 530.99V531.28M61.7 531.13H63.4M61.7 530.39V531.13M61.3 530.76H61.7M63.8 531.65H65.2M63.8 532.01H65.2M63.8 531.65V532.01M63.4 531.83H63.8M63.4 532.34H65.2M63.4 531.83V532.34M61.3 532.08H63.4M61.3 530.76V532.08M60.7 531.42H61.3M60.7 528.01V531.42M58.4 529.72H60.7M58.4 524.90V529.72M54.7 527.31H58.4M54.7 518.48V527.31M51.2 522.90H54.7M51.2 505.44V522.90M49.2 514.60H51.2M51.2 514.60V514.17M62.5 532.68H65.2M62.5 532.94H65.2M62.5 532.68V532.94M62.1 532.81H62.5M62.1 533.25H65.2M62.1 532.81V533.25M61.3 533.03H62.1M62.7 533.64H65.2M62.7 533.93H65.2M62.7 533.64V533.93M62.3 533.78H62.7M63.1 534.13H65.2M63.1 534.42H65.2M63.1 534.13V534.42M62.7 534.27H63.1M62.7 534.76H65.2M62.7 534.27V534.76M62.3 534.51H62.7M62.3 533.78V534.51M61.3 534.15H62.3M61.3 533.03V534.15M60.9 533.59H61.3M63.4 535.06H65.2M63.4 535.43H65.2M63.4 535.06V535.43M62.2 535.24H63.4M63.8 535.78H65.2M63.8 536.02H65.2M63.8 535.78V536.02M62.2 535.90H63.8M62.2 535.24V535.90M60.9 535.57H62.2M60.9 533.59V535.57M57.6 534.58H60.9M63.8 536.31H65.2M63.8 536.60H65.2M63.8 536.31V536.60M63.4 536.46H63.8M63.4 536.91H65.2M63.4 536.46V536.91M61.3 536.68H63.4M61.9 537.28H65.2M61.9 537.56H65.2M61.9 537.28V537.56M61.3 537.42H61.9M61.3 536.68V537.42M60.9 537.05H61.3M63.6 537.82H65.2M63.6 538.21H65.2M63.6 537.82V538.21M63.2 538.01H63.6M63.6 538.51H65.2M63.6 538.78H65.2M63.6 538.51V538.78M63.2 538.65H63.6M63.2 538.01V538.65M61.6 538.33H63.2M63.1 539.05H65.2M63.1 539.32H65.2M63.1 539.05V539.32M62.7 539.19H63.1M63.5 539.67H65.2M63.5 539.93H65.2M63.5 539.67V539.93M63.1 539.80H63.5M63.1 540.19H65.2M63.1 539.80V540.19M62.7 540.00H63.1M62.7 539.19V540.00M61.6 539.59H62.7M61.6 538.33V539.59M60.9 538.96H61.6M60.9 537.05V538.96M59.0 538.00H60.9M62.8 540.51H65.2M62.8 540.85H65.2M62.8 540.51V540.85M62.4 540.68H62.8M63.6 541.12H65.2M63.6 541.35H65.2M63.6 541.12V541.35M63.2 541.24H63.6M63.2 541.61H65.2M63.2 541.24V541.61M62.8 541.42H63.2M63.3 541.83H65.2M63.3 542.09H65.2M63.3 541.83V542.09M62.8 541.96H63.3M62.8 541.42V541.96M62.4 541.69H62.8M62.4 540.68V541.69M59.0 541.18H62.4M59.0 538.00V541.18M57.6 539.59H59.0M57.6 534.58V539.59M54.8 537.09H57.6M63.4 542.33H65.2M63.4 542.59H65.2M63.4 542.33V542.59M63.0 542.46H63.4M63.4 542.95H65.2M63.4 543.30H65.2M63.4 542.95V543.30M63.0 543.12H63.4M63.0 542.46V543.12M60.6 542.79H63.0M63.6 543.66H65.2M63.6 543.97H65.2M63.6 543.66V543.97M61.0 543.82H63.6M63.0 544.22H65.2M63.0 544.52H65.2M63.0 544.22V544.52M62.4 544.37H63.0M63.1 544.87H65.2M63.1 545.21H65.2M63.1 544.87V545.21M62.4 545.04H63.1M62.4 544.37V545.04M61.0 544.70H62.4M61.0 543.82V544.70M60.6 544.26H61.0M60.6 542.79V544.26M59.3 543.53H60.6M63.7 545.50H65.2M63.7 545.77H65.2M63.7 545.50V545.77M63.3 545.64H63.7M64.4 545.99H65.2M64.4 546.24H65.2M64.4 545.99V546.24M63.3 546.11H64.4M63.3 545.64V546.11M61.3 545.88H63.3M63.9 546.54H65.2M63.9 546.82H65.2M63.9 546.54V546.82M61.3 546.68H63.9M61.3 545.88V546.68M59.3 546.28H61.3M59.3 543.53V546.28M56.6 544.90H59.3M62.3 547.16H65.2M63.0 547.60H65.2M63.0 548.03H65.2M63.0 547.60V548.03M62.3 547.82H63.0M62.3 547.16V547.82M60.8 547.49H62.3M62.8 548.46H65.2M63.3 548.80H65.2M63.3 549.08H65.2M63.3 548.80V549.08M62.8 548.94H63.3M62.8 548.46V548.94M62.4 548.70H62.8M62.8 549.44H65.2M62.8 549.74H65.2M62.8 549.44V549.74M62.4 549.59H62.8M62.4 548.70V549.59M60.8 549.15H62.4M60.8 547.49V549.15M60.4 548.32H60.8M63.5 549.95H65.2M63.5 550.18H65.2M63.5 549.95V550.18M63.1 550.06H63.5M63.6 550.41H65.2M63.6 550.71H65.2M63.6 550.41V550.71M63.1 550.56H63.6M63.1 550.06V550.56M61.3 550.31H63.1M63.2 551.04H65.2M63.2 551.34H65.2M63.2 551.04V551.34M62.8 551.19H63.2M65.3 551.64H65.2M65.3 551.88H65.2M65.3 551.64V551.88M62.8 551.76H65.3M62.8 551.19V551.76M61.3 551.47H62.8M61.3 550.31V551.47M60.4 550.89H61.3M60.4 548.32V550.89M56.6 549.60H60.4M56.6 544.90V549.60M54.8 547.25H56.6M54.8 537.09V547.25M49.2 542.30H54.8M54.8 542.30V542.17M64.2 541.69H65.2M64.2 541.98H65.2M64.2 541.69V541.98M62.1 541.84H64.2M62.7 542.22H65.2M63.1 542.49H65.2M63.1 542.75H65.2M63.1 542.49V542.75M62.7 542.62H63.1M62.7 542.22V542.62M62.1 542.42H62.7M62.1 541.84V542.42M60.9 542.13H62.1M62.9 543.03H65.2M62.9 543.28H65.2M62.9 543.03V543.28M62.4 543.15H62.9M64.0 543.60H65.2M64.0 544.01H65.2M64.0 543.60V544.01M62.4 543.81H64.0M62.4 543.15V543.81M62.0 543.48H62.4M63.7 544.39H65.2M64.1 544.73H65.2M64.1 545.01H65.2M64.1 544.73V545.01M63.7 544.87H64.1M63.7 544.39V544.87M62.0 544.63H63.7M62.0 543.48V544.63M60.9 544.05H62.0M60.9 542.13V544.05M58.8 543.09H60.9M63.4 545.23H65.2M63.4 545.51H65.2M63.4 545.23V545.51M63.0 545.37H63.4M63.0 545.91H65.2M63.0 545.37V545.91M62.1 545.64H63.0M63.1 546.35H65.2M63.1 546.79H65.2M63.1 546.35V546.79M62.1 546.57H63.1M62.1 545.64V546.57M58.8 546.10H62.1M58.8 543.09V546.10M57.4 544.60H58.8M63.3 547.16H65.2M63.3 547.44H65.2M63.3 547.16V547.44M62.9 547.30H63.3M62.9 547.70H65.2M62.9 547.30V547.70M61.2 547.50H62.9M63.5 548.07H65.2M63.5 548.41H65.2M63.5 548.07V548.41M62.6 548.24H63.5M63.1 548.72H65.2M63.5 549.07H65.2M63.5 549.44H65.2M63.5 549.07V549.44M63.1 549.25H63.5M63.1 548.72V549.25M62.6 548.99H63.1M62.6 548.24V548.99M61.2 548.62H62.6M61.2 547.50V548.62M59.6 548.06H61.2M64.0 549.81H65.2M64.4 550.14H65.2M64.4 550.41H65.2M64.4 550.14V550.41M64.0 550.28H64.4M64.0 549.81V550.28M61.2 550.04H64.0M63.4 550.74H65.2M63.4 551.06H65.2M63.4 550.74V551.06M62.5 550.90H63.4M62.5 551.37H65.2M62.5 550.90V551.37M61.2 551.13H62.5M61.2 550.04V551.13M60.0 550.59H61.2M63.7 551.66H65.2M63.7 551.91H65.2M63.7 551.66V551.91M63.3 551.79H63.7M63.3 552.28H65.2M63.3 551.79V552.28M60.0 552.03H63.3M60.0 550.59V552.03M59.6 551.31H60.0M59.6 548.06V551.31M57.4 549.68H59.6M57.4 544.60V549.68M50.5 547.00H57.4M57.4 547.00V547.14M63.2 552.69H65.2M64.1 553.05H65.2M64.1 553.37H65.2M64.1 553.05V553.37M63.2 553.21H64.1M63.2 552.69V553.21M61.5 552.95H63.2M62.6 553.64H65.2M62.6 553.90H65.2M62.6 553.64V553.90M62.2 553.77H62.6M62.2 554.17H65.2M62.2 553.77V554.17M61.5 553.97H62.2M61.5 552.95V553.97M60.3 553.46H61.5M63.2 554.40H65.2M63.2 554.72H65.2M63.2 554.40V554.72M61.7 554.56H63.2M62.4 555.15H65.2M63.9 555.50H65.2M63.9 555.76H65.2M63.9 555.50V555.76M62.8 555.63H63.9M62.8 556.04H65.2M62.8 555.63V556.04M62.4 555.83H62.8M62.4 555.15V555.83M61.7 555.49H62.4M61.7 554.56V555.49M60.3 555.03H61.7M60.3 553.46V555.03M58.8 554.24H60.3M63.3 556.35H65.2M63.3 556.67H65.2M63.3 556.35V556.67M61.9 556.51H63.3M63.4 557.00H65.2M63.4 557.30H65.2M63.4 557.00V557.30M62.8 557.15H63.4M62.8 557.56H65.2M62.8 557.15V557.56M61.9 557.35H62.8M61.9 556.51V557.35M61.5 556.93H61.9M63.0 557.90H65.2M63.4 558.21H65.2M63.4 558.45H65.2M63.4 558.21V558.45M63.0 558.33H63.4M63.0 557.90V558.33M61.5 558.12H63.0M61.5 556.93V558.12M59.6 557.52H61.5M62.6 558.74H65.2M62.6 558.99H65.2M62.6 558.74V558.99M61.7 558.86H62.6M63.2 559.18H65.2M63.2 559.46H65.2M63.2 559.18V559.46M61.7 559.32H63.2M61.7 558.86V559.32M61.2 559.09H61.7M63.1 559.83H65.2M63.5 560.14H65.2M63.5 560.38H65.2M63.5 560.14V560.38M63.1 560.26H63.5M63.1 559.83V560.26M61.2 560.04H63.1M61.2 559.09V560.04M59.6 559.57H61.2M59.6 557.52V559.57M58.8 558.55H59.6M58.8 554.24V558.55M55.8 556.39H58.8M63.8 560.66H65.2M63.8 561.01H65.2M63.8 560.66V561.01M61.1 560.84H63.8M63.5 561.41H65.2M63.5 561.75H65.2M63.5 561.41V561.75M63.1 561.58H63.5M63.5 562.05H65.2M64.3 562.36H65.2M64.3 562.65H65.2M64.3 562.36V562.65M63.5 562.50H64.3M63.5 562.05V562.50M63.1 562.28H63.5M63.1 561.58V562.28M61.1 561.93H63.1M61.1 560.84V561.93M59.9 561.38H61.1M64.1 562.97H65.2M64.1 563.38H65.2M64.1 562.97V563.38M63.7 563.18H64.1M63.7 563.78H65.2M63.7 563.18V563.78M61.6 563.48H63.7M62.4 564.13H65.2M62.4 564.46H65.2M62.4 564.13V564.46M62.0 564.30H62.4M62.0 564.81H65.2M62.0 564.30V564.81M61.6 564.55H62.0M61.6 563.48V564.55M59.9 564.01H61.6M59.9 561.38V564.01M58.7 562.70H59.9M63.5 565.15H65.2M63.5 565.45H65.2M63.5 565.15V565.45M63.1 565.30H63.5M63.1 565.78H65.2M63.1 565.30V565.78M61.7 565.54H63.1M63.3 566.10H65.2M63.3 566.39H65.2M63.3 566.10V566.39M62.1 566.25H63.3M62.1 566.77H65.2M62.1 566.25V566.77M61.7 566.51H62.1M61.7 565.54V566.51M61.3 566.02H61.7M63.0 567.08H65.2M63.0 567.35H65.2M63.0 567.08V567.35M62.1 567.21H63.0M63.5 567.60H65.2M63.5 567.88H65.2M63.5 567.60V567.88M62.5 567.74H63.5M62.5 568.28H65.2M62.5 567.74V568.28M62.1 568.01H62.5M62.1 567.21V568.01M61.3 567.61H62.1M61.3 566.02V567.61M58.7 566.82H61.3M58.7 562.70V566.82M55.8 564.76H58.7M55.8 556.39V564.76M50.5 560.50H55.8M55.8 560.50V560.58M63.2 568.62H65.2M63.2 568.91H65.2M63.2 568.62V568.91M62.8 568.77H63.2M62.8 569.23H65.2M62.8 568.77V569.23M61.5 569.00H62.8M65.0 569.49H65.2M65.0 569.74H65.2M65.0 569.49V569.74M62.7 569.62H65.0M63.7 569.97H65.2M63.7 570.23H65.2M63.7 569.97V570.23M62.7 570.10H63.7M62.7 569.62V570.10M61.5 569.86H62.7M61.5 569.00V569.86M60.6 569.43H61.5M63.5 570.59H65.2M63.9 570.96H65.2M64.3 571.27H65.2M64.3 571.57H65.2M64.3 571.27V571.57M63.9 571.42H64.3M63.9 570.96V571.42M63.5 571.19H63.9M63.5 570.59V571.19M63.1 570.89H63.5M63.5 571.95H65.2M63.9 572.38H65.2M63.9 572.71H65.2M63.9 572.38V572.71M63.5 572.55H63.9M63.5 571.95V572.55M63.1 572.25H63.5M63.1 570.89V572.25M60.6 571.57H63.1M60.6 569.43V571.57M57.9 570.50H60.6M63.3 573.02H65.2M63.3 573.39H65.2M63.3 573.02V573.39M61.6 573.20H63.3M63.4 573.73H65.2M63.8 574.01H65.2M63.8 574.26H65.2M63.8 574.01V574.26M63.4 574.13H63.8M63.4 573.73V574.13M62.0 573.93H63.4M63.6 574.47H65.2M63.6 574.72H65.2M63.6 574.47V574.72M63.2 574.60H63.6M63.2 575.00H65.2M63.2 574.60V575.00M62.0 574.80H63.2M62.0 573.93V574.80M61.6 574.37H62.0M61.6 573.20V574.37M60.3 573.78H61.6M63.1 575.27H65.2M63.1 575.53H65.2M63.1 575.27V575.53M62.6 575.40H63.1M63.9 575.72H65.2M63.9 575.97H65.2M63.9 575.72V575.97M62.6 575.84H63.9M62.6 575.40V575.84M62.0 575.62H62.6M63.8 576.31H65.2M63.8 576.63H65.2M63.8 576.31V576.63M63.4 576.47H63.8M63.4 576.97H65.2M63.4 576.47V576.97M62.0 576.72H63.4M62.0 575.62V576.72M60.3 576.17H62.0M60.3 573.78V576.17M57.9 574.98H60.3M57.9 570.50V574.98M56.2 572.74H57.9M62.2 577.30H65.2M62.9 577.57H65.2M62.9 577.87H65.2M62.9 577.57V577.87M62.2 577.72H62.9M62.2 577.30V577.72M61.3 577.51H62.2M62.9 578.17H65.2M62.9 578.41H65.2M62.9 578.17V578.41M62.5 578.29H62.9M64.0 578.64H65.2M64.0 578.91H65.2M64.0 578.64V578.91M62.5 578.78H64.0M62.5 578.29V578.78M61.8 578.53H62.5M63.0 579.26H65.2M63.8 579.57H65.2M63.8 579.80H65.2M63.8 579.57V579.80M63.0 579.68H63.8M63.0 579.26V579.68M61.8 579.47H63.0M61.8 578.53V579.47M61.3 579.00H61.8M61.3 577.51V579.00M59.0 578.26H61.3M62.9 580.11H65.2M63.3 580.50H65.2M63.3 580.85H65.2M63.3 580.50V580.85M62.9 580.68H63.3M62.9 580.11V580.68M60.4 580.39H62.9M62.6 581.10H65.2M63.4 581.34H65.2M63.4 581.59H65.2M63.4 581.34V581.59M62.6 581.46H63.4M62.6 581.10V581.46M62.2 581.28H62.6M62.2 581.90H65.2M62.2 581.28V581.90M61.6 581.59H62.2M62.8 582.16H65.2M62.8 582.41H65.2M62.8 582.16V582.41M62.4 582.29H62.8M62.8 582.73H65.2M62.8 583.07H65.2M62.8 582.73V583.07M62.4 582.90H62.8M62.4 582.29V582.90M61.6 582.59H62.4M61.6 581.59V582.59M60.4 582.09H61.6M60.4 580.39V582.09M59.0 581.24H60.4M59.0 578.26V581.24M56.2 579.75H59.0M56.2 572.74V579.75M52.5 576.24H56.2M63.2 583.35H65.2M63.2 583.64H65.2M63.2 583.35V583.64M62.3 583.49H63.2M62.3 584.05H65.2M62.3 583.49V584.05M61.4 583.77H62.3M63.8 584.38H65.2M63.8 584.64H65.2M63.8 584.38V584.64M61.4 584.51H63.8M61.4 583.77V584.51M59.6 584.14H61.4M62.3 584.98H65.2M63.3 585.32H65.2M63.7 585.64H65.2M63.7 585.89H65.2M63.7 585.64V585.89M63.3 585.76H63.7M63.3 585.32V585.76M62.3 585.54H63.3M62.3 584.98V585.54M61.3 585.26H62.3M62.5 586.20H65.2M63.3 586.57H65.2M63.3 586.88H65.2M63.3 586.57V586.88M62.9 586.72H63.3M62.9 587.17H65.2M62.9 586.72V587.17M62.5 586.94H62.9M62.5 586.20V586.94M61.3 586.57H62.5M61.3 585.26V586.57M59.6 585.92H61.3M59.6 584.14V585.92M58.6 585.03H59.6M63.7 587.48H65.2M63.7 587.74H65.2M63.7 587.48V587.74M62.5 587.61H63.7M63.8 587.95H65.2M63.8 588.25H65.2M63.8 587.95V588.25M62.5 588.10H63.8M62.5 587.61V588.10M61.2 587.85H62.5M63.1 588.54H65.2M63.1 588.88H65.2M63.1 588.54V588.88M62.5 588.71H63.1M62.9 589.27H65.2M64.2 589.57H65.2M64.2 589.83H65.2M64.2 589.57V589.83M63.3 589.70H64.2M63.3 590.10H65.2M63.3 589.70V590.10M62.9 589.90H63.3M62.9 589.27V589.90M62.5 589.59H62.9M62.5 588.71V589.59M61.2 589.15H62.5M61.2 587.85V589.15M58.6 588.50H61.2M58.6 585.03V588.50M56.8 586.76H58.6M62.6 590.42H65.2M62.6 590.78H65.2M62.6 590.42V590.78M62.1 590.60H62.6M64.5 591.03H65.2M64.5 591.26H65.2M64.5 591.03V591.26M62.9 591.15H64.5M62.9 591.54H65.2M62.9 591.15V591.54M62.5 591.34H62.9M62.9 591.78H65.2M62.9 592.07H65.2M62.9 591.78V592.07M62.5 591.93H62.9M62.5 591.34V591.93M62.1 591.64H62.5M62.1 590.60V591.64M60.9 591.12H62.1M64.0 592.33H65.2M64.0 592.56H65.2M64.0 592.33V592.56M62.1 592.45H64.0M63.2 592.81H65.2M63.2 593.08H65.2M63.2 592.81V593.08M62.1 592.94H63.2M62.1 592.45V592.94M60.9 592.69H62.1M60.9 591.12V592.69M59.8 591.91H60.9M62.9 593.39H65.2M62.9 593.72H65.2M62.9 593.39V593.72M62.3 593.56H62.9M64.2 594.04H65.2M64.2 594.29H65.2M64.2 594.04V594.29M62.9 594.16H64.2M62.9 594.56H65.2M62.9 594.16V594.56M62.3 594.36H62.9M62.3 593.56V594.36M59.8 593.96H62.3M59.8 591.91V593.96M57.5 592.93H59.8M63.9 594.81H65.2M63.9 595.08H65.2M63.9 594.81V595.08M62.6 594.95H63.9M63.1 595.39H65.2M63.1 595.70H65.2M63.1 595.39V595.70M62.6 595.55H63.1M62.6 594.95V595.55M62.2 595.25H62.6M64.1 596.04H65.2M64.1 596.32H65.2M64.1 596.04V596.32M62.2 596.18H64.1M62.2 595.25V596.18M59.9 595.72H62.2M63.1 596.61H65.2M63.1 596.92H65.2M63.1 596.61V596.92M61.8 596.76H63.1M64.5 597.17H65.2M64.5 597.43H65.2M64.5 597.17V597.43M64.1 597.30H64.5M64.1 597.78H65.2M64.1 597.30V597.78M61.8 597.54H64.1M61.8 596.76V597.54M59.9 597.15H61.8M59.9 595.72V597.15M57.5 596.43H59.9M57.5 592.93V596.43M56.8 594.68H57.5M56.8 586.76V594.68M52.5 590.72H56.8M52.5 576.24V590.72M49.4 583.70H52.5M52.5 583.70V583.48M63.1 590.17H65.2M63.1 590.51H65.2M63.1 590.17V590.51M62.7 590.34H63.1M63.2 590.81H65.2M63.2 591.07H65.2M63.2 590.81V591.07M62.7 590.94H63.2M62.7 590.34V590.94M61.2 590.64H62.7M63.3 591.37H65.2M63.3 591.64H65.2M63.3 591.37V591.64M62.8 591.51H63.3M62.8 591.90H65.2M62.8 591.51V591.90M61.2 591.71H62.8M61.2 590.64V591.71M58.9 591.17H61.2M62.4 592.23H65.2M62.4 592.58H65.2M62.4 592.23V592.58M62.0 592.41H62.4M63.2 592.91H65.2M63.2 593.21H65.2M63.2 592.91V593.21M62.8 593.06H63.2M62.8 593.53H65.2M62.8 593.06V593.53M62.0 593.29H62.8M62.0 592.41V593.29M61.3 592.85H62.0M63.7 593.76H65.2M63.7 594.00H65.2M63.7 593.76V594.00M62.6 593.88H63.7M62.6 594.31H65.2M62.6 593.88V594.31M62.1 594.09H62.6M63.1 594.57H65.2M63.5 594.88H65.2M63.5 595.17H65.2M63.5 594.88V595.17M63.1 595.02H63.5M63.1 594.57V595.02M62.5 594.80H63.1M63.2 595.42H65.2M63.2 595.66H65.2M63.2 595.42V595.66M62.5 595.54H63.2M62.5 594.80V595.54M62.1 595.17H62.5M62.1 594.09V595.17M61.3 594.63H62.1M61.3 592.85V594.63M58.9 593.74H61.3M58.9 591.17V593.74M57.2 592.46H58.9M63.0 595.96H65.2M63.0 596.28H65.2M63.0 595.96V596.28M61.8 596.12H63.0M63.4 596.58H65.2M63.4 596.93H65.2M63.4 596.58V596.93M61.8 596.75H63.4M61.8 596.12V596.75M60.8 596.44H61.8M62.6 597.33H65.2M64.9 597.68H65.2M64.9 597.98H65.2M64.9 597.68V597.98M62.6 597.83H64.9M62.6 597.33V597.83M62.2 597.58H62.6M62.6 598.33H65.2M62.6 598.69H65.2M62.6 598.33V598.69M62.2 598.51H62.6M62.2 597.58V598.51M60.8 598.04H62.2M60.8 596.44V598.04M59.2 597.24H60.8M64.2 598.97H65.2M64.2 599.29H65.2M64.2 598.97V599.29M61.9 599.13H64.2M62.3 599.72H65.2M62.7 600.08H65.2M62.7 600.44H65.2M62.7 600.08V600.44M62.3 600.26H62.7M62.3 599.72V600.26M61.9 599.99H62.3M61.9 599.13V599.99M61.5 599.56H61.9M62.8 600.80H65.2M63.3 601.12H65.2M63.3 601.41H65.2M63.3 601.12V601.41M62.8 601.27H63.3M62.8 600.80V601.27M61.5 601.03H62.8M61.5 599.56V601.03M59.2 600.30H61.5M59.2 597.24V600.30M57.2 598.77H59.2M57.2 592.46V598.77M49.4 595.60H57.2M57.2 595.60V595.61M63.4 598.10H65.2M63.4 598.37H65.2M63.4 598.10V598.37M62.1 598.23H63.4M63.2 598.70H65.2M63.2 599.01H65.2M63.2 598.70V599.01M62.1 598.86H63.2M62.1 598.23V598.86M61.7 598.54H62.1M62.5 599.30H65.2M62.5 599.58H65.2M62.5 599.30V599.58M61.7 599.44H62.5M61.7 598.54V599.44M61.3 598.99H61.7M62.9 599.93H65.2M63.8 600.23H65.2M63.8 600.45H65.2M63.8 600.23V600.45M62.9 600.34H63.8M62.9 599.93V600.34M61.7 600.14H62.9M63.4 600.82H65.2M63.4 601.22H65.2M63.4 600.82V601.22M62.1 601.02H63.4M63.6 601.50H65.2M63.6 601.80H65.2M63.6 601.50V601.80M62.1 601.65H63.6M62.1 601.02V601.65M61.7 601.34H62.1M61.7 600.14V601.34M61.3 600.74H61.7M61.3 598.99V600.74M58.5 599.86H61.3M63.8 602.21H65.2M63.8 602.57H65.2M63.8 602.21V602.57M61.6 602.39H63.8M63.9 602.90H65.2M63.9 603.25H65.2M63.9 602.90V603.25M62.0 603.08H63.9M64.5 603.53H65.2M64.5 603.78H65.2M64.5 603.53V603.78M62.0 603.65H64.5M62.0 603.08V603.65M61.6 603.37H62.0M61.6 602.39V603.37M60.7 602.88H61.6M63.2 603.99H65.2M63.2 604.27H65.2M63.2 603.99V604.27M62.2 604.13H63.2M63.3 604.64H65.2M63.3 605.01H65.2M63.3 604.64V605.01M62.2 604.83H63.3M62.2 604.13V604.83M61.8 604.48H62.2M63.6 605.33H65.2M63.6 605.60H65.2M63.6 605.33V605.60M62.3 605.46H63.6M62.3 605.88H65.2M62.3 605.46V605.88M61.8 605.67H62.3M61.8 604.48V605.67M60.7 605.08H61.8M60.7 602.88V605.08M58.5 603.98H60.7M58.5 599.86V603.98M51.5 600.40H58.5M58.5 600.40V601.92M63.4 601.70H65.2M63.8 602.07H65.2M64.2 602.34H65.2M64.2 602.58H65.2M64.2 602.34V602.58M63.8 602.46H64.2M63.8 602.07V602.46M63.4 602.27H63.8M63.4 601.70V602.27M61.2 601.98H63.4M62.8 602.94H65.2M62.8 603.33H65.2M62.8 602.94V603.33M61.2 603.13H62.8M61.2 601.98V603.13M60.7 602.56H61.2M63.2 603.66H65.2M63.2 604.00H65.2M63.2 603.66V604.00M62.8 603.83H63.2M63.2 604.33H65.2M63.6 604.61H65.2M63.6 604.88H65.2M63.6 604.61V604.88M63.2 604.75H63.6M63.2 604.33V604.75M62.8 604.54H63.2M62.8 603.83V604.54M60.7 604.18H62.8M60.7 602.56V604.18M58.9 603.37H60.7M63.0 605.17H65.2M63.0 605.45H65.2M63.0 605.17V605.45M61.8 605.31H63.0M64.1 605.66H65.2M64.1 605.98H65.2M64.1 605.66V605.98M63.7 605.82H64.1M63.7 606.40H65.2M63.7 605.82V606.40M61.8 606.11H63.7M61.8 605.31V606.11M59.6 605.71H61.8M63.5 606.73H65.2M63.5 607.00H65.2M63.5 606.73V607.00M63.1 606.86H63.5M63.9 607.25H65.2M63.9 607.51H65.2M63.9 607.25V607.51M63.1 607.38H63.9M63.1 606.86V607.38M62.1 607.12H63.1M63.4 607.86H65.2M63.4 608.14H65.2M63.4 607.86V608.14M62.5 608.00H63.4M62.5 608.37H65.2M62.5 608.00V608.37M62.1 608.18H62.5M62.1 607.12V608.18M59.6 607.65H62.1M59.6 605.71V607.65M58.9 606.68H59.6M58.9 603.37V606.68M51.5 600.40H58.9M58.9 600.40V605.03M62.8 606.19H65.2M62.8 606.60H65.2M62.8 606.19V606.60M61.1 606.40H62.8M62.9 607.02H65.2M64.3 607.43H65.2M64.3 607.75H65.2M64.3 607.43V607.75M62.9 607.59H64.3M62.9 607.02V607.59M62.2 607.31H62.9M64.1 607.98H65.2M64.1 608.21H65.2M64.1 607.98V608.21M63.1 608.09H64.1M63.1 608.47H65.2M63.1 608.09V608.47M62.2 608.28H63.1M62.2 607.31V608.28M61.1 607.79H62.2M61.1 606.40V607.79M60.5 607.09H61.1M63.6 608.74H65.2M64.0 609.01H65.2M64.0 609.25H65.2M64.0 609.01V609.25M63.6 609.13H64.0M63.6 608.74V609.13M62.8 608.94H63.6M64.4 609.55H65.2M64.4 609.87H65.2M64.4 609.55V609.87M62.8 609.71H64.4M62.8 608.94V609.71M60.5 609.32H62.8M60.5 607.09V609.32M58.5 608.21H60.5M63.9 610.22H65.2M63.9 610.55H65.2M63.9 610.22V610.55M62.5 610.38H63.9M63.3 610.80H65.2M63.7 611.03H65.2M63.7 611.27H65.2M63.7 611.03V611.27M63.3 611.15H63.7M63.3 610.80V611.15M62.5 610.97H63.3M62.5 610.38V610.97M62.1 610.68H62.5M62.5 611.57H65.2M63.6 611.87H65.2M63.6 612.15H65.2M63.6 611.87V612.15M62.5 612.01H63.6M62.5 611.57V612.01M62.1 611.79H62.5M62.1 610.68V611.79M59.2 611.24H62.1M64.1 612.38H65.2M64.1 612.60H65.2M64.1 612.38V612.60M63.7 612.49H64.1M63.7 612.90H65.2M63.7 612.49V612.90M62.5 612.70H63.7M63.5 613.22H65.2M63.5 613.53H65.2M63.5 613.22V613.53M63.1 613.37H63.5M63.1 613.84H65.2M63.1 613.37V613.84M62.5 613.61H63.1M62.5 612.70V613.61M59.2 613.15H62.5M59.2 611.24V613.15M58.5 612.19H59.2M58.5 608.21V612.19M46.0 611.50H58.5M58.5 611.50V610.20M62.6 614.20H65.2M63.1 614.55H65.2M63.1 614.78H65.2M63.1 614.55V614.78M62.6 614.66H63.1M62.6 614.20V614.66M60.8 614.43H62.6M64.4 615.05H65.2M64.8 615.35H65.2M64.8 615.63H65.2M64.8 615.35V615.63M64.4 615.49H64.8M64.4 615.05V615.49M62.2 615.27H64.4M63.1 615.90H65.2M63.1 616.13H65.2M63.1 615.90V616.13M62.2 616.02H63.1M62.2 615.27V616.02M60.8 615.64H62.2M60.8 614.43V615.64M59.8 615.04H60.8M62.7 616.42H65.2M62.7 616.79H65.2M62.7 616.42V616.79M61.1 616.60H62.7M63.7 617.09H65.2M63.7 617.33H65.2M63.7 617.09V617.33M61.9 617.21H63.7M63.9 617.58H65.2M63.9 617.82H65.2M63.9 617.58V617.82M62.3 617.70H63.9M62.3 618.19H65.2M62.3 617.70V618.19M61.9 617.95H62.3M61.9 617.21V617.95M61.1 617.58H61.9M61.1 616.60V617.58M59.8 617.09H61.1M59.8 615.04V617.09M59.2 616.06H59.8M63.0 618.61H65.2M63.0 618.90H65.2M63.0 618.61V618.90M61.7 618.76H63.0M63.6 619.10H65.2M63.6 619.37H65.2M63.6 619.10V619.37M63.0 619.24H63.6M63.4 619.64H65.2M63.4 619.96H65.2M63.4 619.64V619.96M63.0 619.80H63.4M63.0 619.24V619.80M61.7 619.52H63.0M61.7 618.76V619.52M61.1 619.14H61.7M63.9 620.34H65.2M64.3 620.65H65.2M64.3 620.88H65.2M64.3 620.65V620.88M63.9 620.76H64.3M63.9 620.34V620.76M62.3 620.55H63.9M63.4 621.09H65.2M63.4 621.36H65.2M63.4 621.09V621.36M62.7 621.23H63.4M62.7 621.64H65.2M62.7 621.23V621.64M62.3 621.43H62.7M62.3 620.55V621.43M61.1 620.99H62.3M61.1 619.14V620.99M59.6 620.06H61.1M64.1 621.88H65.2M64.1 622.19H65.2M64.1 621.88V622.19M62.5 622.04H64.1M63.3 622.57H65.2M63.3 622.85H65.2M63.3 622.57V622.85M62.9 622.71H63.3M63.3 623.10H65.2M63.3 623.38H65.2M63.3 623.10V623.38M62.9 623.24H63.3M62.9 622.71V623.24M62.5 622.97H62.9M62.5 622.04V622.97M59.6 622.51H62.5M59.6 620.06V622.51M59.2 621.28H59.6M59.2 616.06V621.28M55.0 618.67H59.2M64.0 623.70H65.2M64.0 624.02H65.2M64.0 623.70V624.02M63.6 623.86H64.0M63.6 624.31H65.2M63.6 623.86V624.31M63.2 624.08H63.6M64.0 624.62H65.2M64.0 624.89H65.2M64.0 624.62V624.89M63.2 624.76H64.0M63.2 624.08V624.76M61.5 624.42H63.2M63.6 625.18H65.2M63.6 625.52H65.2M63.6 625.18V625.52M61.5 625.35H63.6M61.5 624.42V625.35M59.3 624.89H61.5M63.9 625.85H65.2M63.9 626.09H65.2M63.9 625.85V626.09M62.1 625.97H63.9M62.7 626.38H65.2M62.7 626.76H65.2M62.7 626.38V626.76M62.1 626.57H62.7M62.1 625.97V626.57M61.7 626.27H62.1M63.3 627.16H65.2M63.3 627.58H65.2M63.3 627.16V627.58M61.7 627.37H63.3M61.7 626.27V627.37M59.3 626.82H61.7M59.3 624.89V626.82M57.9 625.85H59.3M63.5 628.01H65.2M63.5 628.34H65.2M63.5 628.01V628.34M61.7 628.18H63.5M63.4 628.57H65.2M63.4 628.82H65.2M63.4 628.57V628.82M62.1 628.70H63.4M63.0 629.11H65.2M63.0 629.46H65.2M63.0 629.11V629.46M62.1 629.28H63.0M62.1 628.70V629.28M61.7 628.99H62.1M61.7 628.18V628.99M61.1 628.58H61.7M63.7 629.77H65.2M63.7 630.05H65.2M63.7 629.77V630.05M63.0 629.91H63.7M64.4 630.33H65.2M64.4 630.59H65.2M64.4 630.33V630.59M63.0 630.46H64.4M63.0 629.91V630.46M61.1 630.18H63.0M61.1 628.58V630.18M59.5 629.38H61.1M64.0 630.92H65.2M64.0 631.21H65.2M64.0 630.92V631.21M63.4 631.06H64.0M63.8 631.48H65.2M63.8 631.77H65.2M63.8 631.48V631.77M63.4 631.62H63.8M63.4 631.06V631.62M61.0 631.34H63.4M62.7 632.10H65.2M63.6 632.42H65.2M64.0 632.70H65.2M64.0 632.93H65.2M64.0 632.70V632.93M63.6 632.81H64.0M63.6 632.42V632.81M62.7 632.61H63.6M62.7 632.10V632.61M61.0 632.36H62.7M61.0 631.34V632.36M59.5 631.85H61.0M59.5 629.38V631.85M57.9 630.62H59.5M57.9 625.85V630.62M55.0 628.23H57.9M55.0 618.67V628.23M47.0 617.30H55.0M55.0 617.30V623.45" stroke="#a6a6a6" stroke-width="0.4" fill="none"/>
<path d="M19.4 543.8V604.6M19.4 543.8H41.9M19.4 604.6H34.0M41.9 533.2V554.2M41.9 533.2H49.2M49.2 514.6V542.3M41.9 554.2H50.5M50.5 547.0V560.5M34.0 594.6V615.0M34.0 594.6H46.7M46.7 589.3V600.4M46.7 589.3H49.4M49.4 583.7V595.6M46.7 600.4H51.5M34.0 615.0H42.5M42.5 611.5V617.3M42.5 611.5H46.0M42.5 617.3H47.0" stroke="#a0a0a0" stroke-width="0.9" fill="none"/>
<text x="81.0" y="646.8" font-size="11.5">Cluster A</text>
<text x="167.6" y="646.8" font-size="11.6">Cluster B</text>
</svg></body></html>
